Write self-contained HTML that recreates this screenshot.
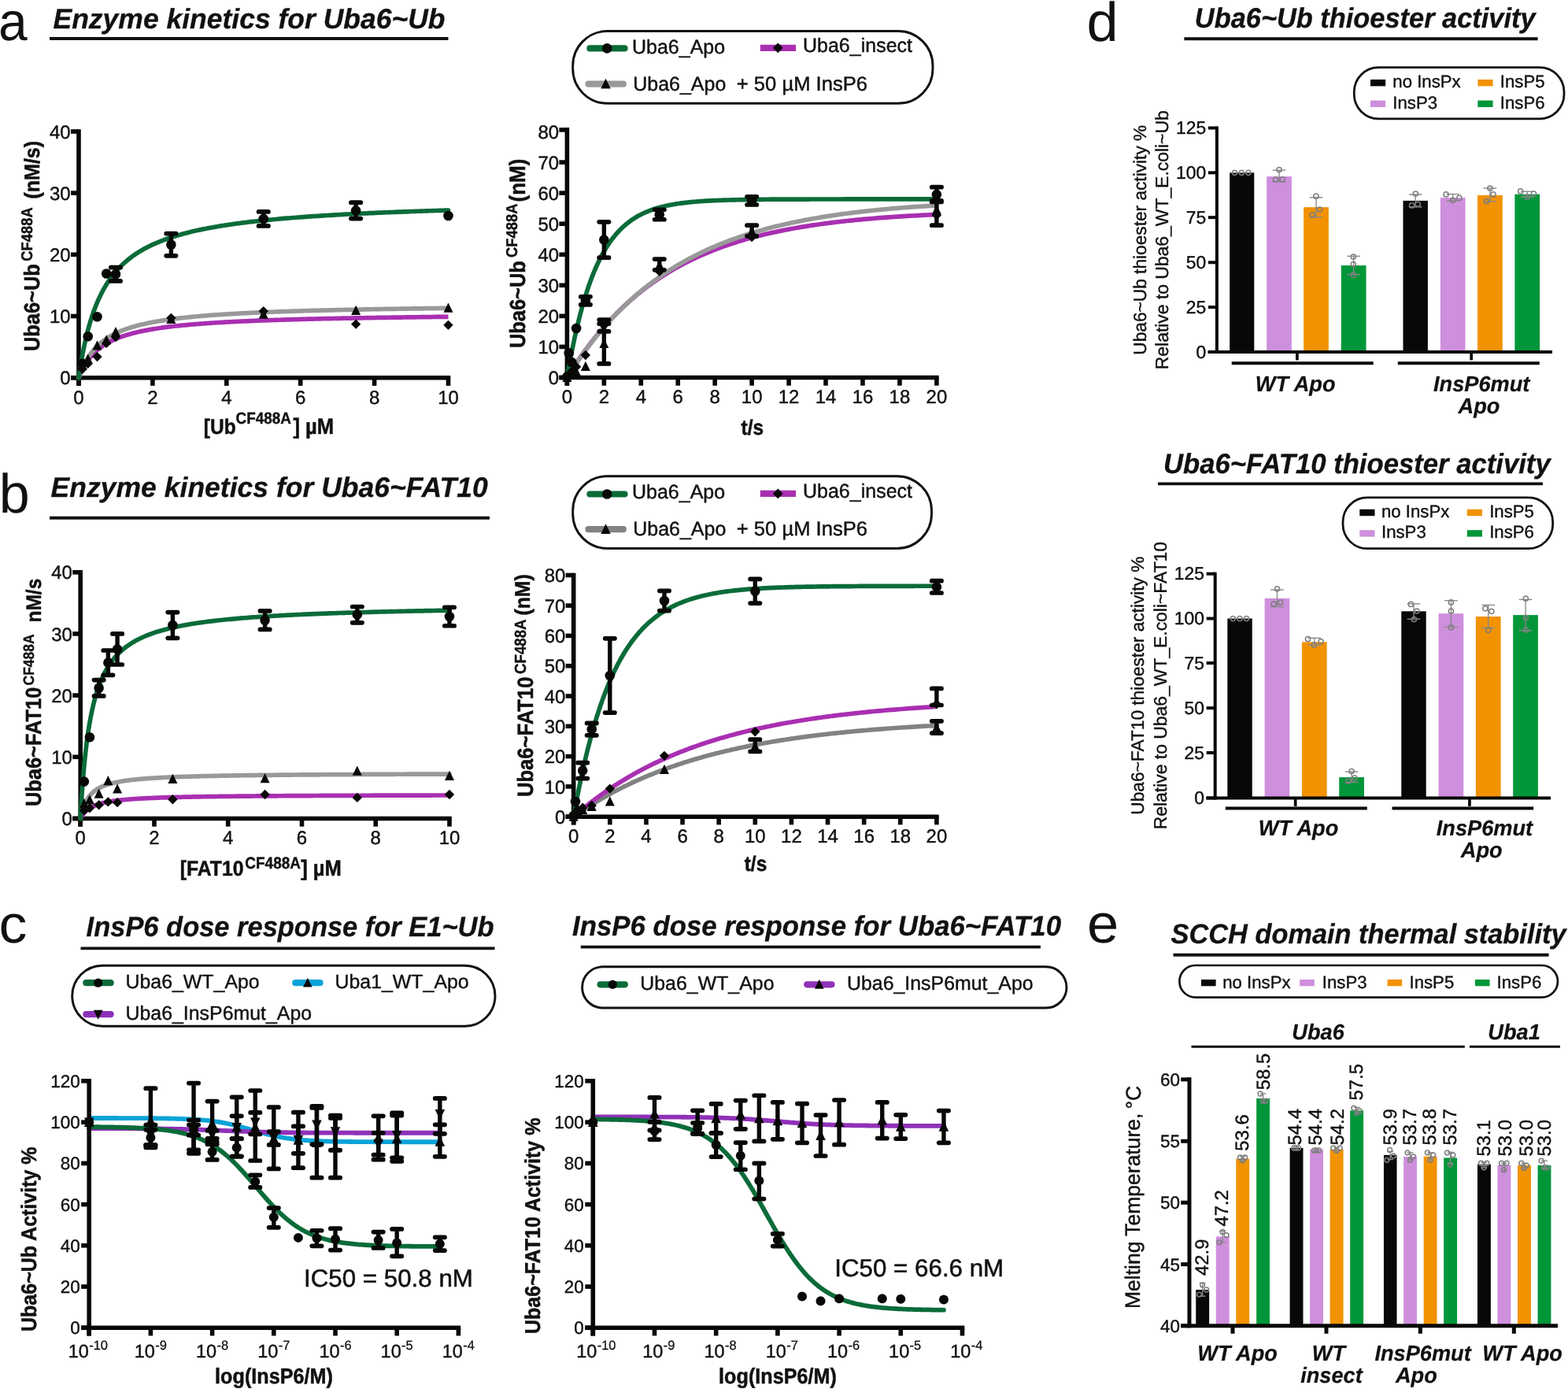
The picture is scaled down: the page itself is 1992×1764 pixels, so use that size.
<!DOCTYPE html>
<html lang="en">
<head>
<meta charset="utf-8">
<title>Uba6 enzyme kinetics and InsP6 dose response</title>
<style>
html,body{margin:0;padding:0;background:#fff;}
body{width:1992px;height:1764px;overflow:hidden;}
svg{display:block;}
text{font-family:"Liberation Sans",Arial,Helvetica,sans-serif;fill:#111;text-rendering:geometricPrecision;}
.r{font-weight:400;font-style:normal;stroke:#111;}
.b{font-weight:700;font-style:normal;stroke:#111;}
.bi{font-weight:700;font-style:italic;stroke:#111;}
</style>
</head>
<body>
<svg width="1992" height="1764" viewBox="0 0 1992 1764">
<rect x="0" y="0" width="1992" height="1764" fill="#ffffff"/>
<text class="r pl" font-size="68.97" transform="translate(-2 51) scale(0.9569 1)" stroke-width="0">a</text>
<text class="bi" font-size="35.7" transform="translate(67.5 35.8) scale(0.9804 1)" textLength="507.96" lengthAdjust="spacingAndGlyphs" stroke-width="0.32">Enzyme kinetics for Uba6~Ub</text>
<line x1="63" y1="49" x2="569.5" y2="49" stroke="#111" stroke-width="3.9" stroke-linecap="butt"/>
<line x1="100" y1="164.2" x2="100" y2="489.9" stroke="#080806" stroke-width="5.6" stroke-linecap="butt"/>
<line x1="90" y1="479.7" x2="572.3" y2="479.7" stroke="#080806" stroke-width="5.6" stroke-linecap="butt"/>
<line x1="100" y1="479.7" x2="100" y2="489.9" stroke="#080806" stroke-width="5.6" stroke-linecap="butt"/>
<line x1="193.9" y1="479.7" x2="193.9" y2="489.9" stroke="#080806" stroke-width="5.6" stroke-linecap="butt"/>
<line x1="287.8" y1="479.7" x2="287.8" y2="489.9" stroke="#080806" stroke-width="5.6" stroke-linecap="butt"/>
<line x1="381.7" y1="479.7" x2="381.7" y2="489.9" stroke="#080806" stroke-width="5.6" stroke-linecap="butt"/>
<line x1="475.6" y1="479.7" x2="475.6" y2="489.9" stroke="#080806" stroke-width="5.6" stroke-linecap="butt"/>
<line x1="569.5" y1="479.7" x2="569.5" y2="489.9" stroke="#080806" stroke-width="5.6" stroke-linecap="butt"/>
<line x1="90" y1="479.7" x2="100" y2="479.7" stroke="#080806" stroke-width="5.6" stroke-linecap="butt"/>
<line x1="90" y1="401.5" x2="100" y2="401.5" stroke="#080806" stroke-width="5.6" stroke-linecap="butt"/>
<line x1="90" y1="323.3" x2="100" y2="323.3" stroke="#080806" stroke-width="5.6" stroke-linecap="butt"/>
<line x1="90" y1="245.1" x2="100" y2="245.1" stroke="#080806" stroke-width="5.6" stroke-linecap="butt"/>
<line x1="90" y1="167" x2="100" y2="167" stroke="#080806" stroke-width="5.6" stroke-linecap="butt"/>
<text class="r" font-size="24" text-anchor="middle" transform="translate(100 512.5)" stroke-width="0.41">0</text>
<text class="r" font-size="24" text-anchor="middle" transform="translate(193.9 512.5)" stroke-width="0.41">2</text>
<text class="r" font-size="24" text-anchor="middle" transform="translate(287.8 512.5)" stroke-width="0.41">4</text>
<text class="r" font-size="24" text-anchor="middle" transform="translate(381.7 512.5)" stroke-width="0.41">6</text>
<text class="r" font-size="24" text-anchor="middle" transform="translate(475.6 512.5)" stroke-width="0.41">8</text>
<text class="r" font-size="24" text-anchor="middle" transform="translate(569.5 512.5)" stroke-width="0.41">10</text>
<text class="r" font-size="24" text-anchor="end" transform="translate(89.7 488.3)" stroke-width="0.41">0</text>
<text class="r" font-size="24" text-anchor="end" transform="translate(89.7 410.1)" stroke-width="0.41">10</text>
<text class="r" font-size="24" text-anchor="end" transform="translate(89.7 331.9)" stroke-width="0.41">20</text>
<text class="r" font-size="24" text-anchor="end" transform="translate(89.7 253.7)" stroke-width="0.41">30</text>
<text class="r" font-size="24" text-anchor="end" transform="translate(89.7 175.5)" stroke-width="0.41">40</text>
<path d="M100,479.7 L100.01,479.68 L100.03,479.62 L100.07,479.51 L100.13,479.36 L100.2,479.18 L100.29,478.95 L100.4,478.68 L100.52,478.37 L100.66,478.03 L100.82,477.64 L100.99,477.22 L101.17,476.77 L101.38,476.28 L101.6,475.76 L101.83,475.21 L102.09,474.63 L102.36,474.02 L102.64,473.38 L102.94,472.72 L103.26,472.04 L103.59,471.34 L103.95,470.61 L104.31,469.86 L104.7,469.1 L105.09,468.33 L105.51,467.53 L105.94,466.73 L106.39,465.91 L106.86,465.09 L107.34,464.26 L107.83,463.42 L108.35,462.57 L108.88,461.72 L109.42,460.86 L109.99,460.01 L110.56,459.15 L111.16,458.29 L111.77,457.44 L112.4,456.58 L113.04,455.73 L113.7,454.88 L114.38,454.03 L115.07,453.19 L115.78,452.36 L116.51,451.53 L117.25,450.71 L118.01,449.89 L118.78,449.09 L119.57,448.29 L120.38,447.5 L121.2,446.71 L122.04,445.94 L122.9,445.18 L123.77,444.42 L124.66,443.68 L125.56,442.95 L126.48,442.22 L127.42,441.51 L128.37,440.81 L129.34,440.11 L130.33,439.43 L131.33,438.76 L132.35,438.1 L133.39,437.45 L134.44,436.81 L135.51,436.18 L136.59,435.56 L137.69,434.95 L138.81,434.35 L139.94,433.76 L141.09,433.18 L142.25,432.62 L143.44,432.06 L144.64,431.51 L145.85,430.97 L147.08,430.44 L148.33,429.92 L149.59,429.42 L150.87,428.91 L152.17,428.42 L153.48,427.94 L154.81,427.47 L156.15,427 L157.51,426.55 L158.89,426.1 L160.29,425.66 L161.7,425.23 L163.12,424.81 L164.56,424.39 L166.02,423.98 L167.5,423.58 L168.99,423.19 L170.5,422.81 L172.02,422.43 L173.56,422.06 L175.12,421.69 L176.69,421.34 L178.28,420.99 L179.89,420.64 L181.51,420.31 L183.15,419.97 L184.8,419.65 L186.47,419.33 L188.16,419.02 L189.87,418.71 L191.59,418.41 L193.32,418.11 L195.07,417.82 L196.84,417.54 L198.63,417.26 L200.43,416.98 L202.25,416.71 L204.08,416.45 L205.93,416.19 L207.8,415.93 L209.68,415.68 L211.58,415.43 L213.5,415.19 L215.43,414.95 L217.38,414.72 L219.34,414.49 L221.32,414.26 L223.32,414.04 L225.33,413.82 L227.36,413.61 L229.41,413.4 L231.47,413.19 L233.55,412.99 L235.64,412.79 L237.75,412.6 L239.88,412.4 L242.02,412.21 L244.18,412.03 L246.36,411.84 L248.55,411.66 L250.76,411.49 L252.99,411.31 L255.23,411.14 L257.49,410.97 L259.76,410.81 L262.05,410.65 L264.36,410.49 L266.68,410.33 L269.02,410.18 L271.38,410.02 L273.75,409.87 L276.14,409.73 L278.54,409.58 L280.96,409.44 L283.4,409.3 L285.85,409.16 L288.32,409.02 L290.81,408.89 L293.31,408.76 L295.83,408.63 L298.36,408.5 L300.92,408.38 L303.48,408.25 L306.07,408.13 L308.67,408.01 L311.28,407.89 L313.92,407.78 L316.57,407.66 L319.23,407.55 L321.91,407.44 L324.61,407.33 L327.32,407.22 L330.05,407.12 L332.8,407.01 L335.57,406.91 L338.34,406.81 L341.14,406.71 L343.95,406.61 L346.78,406.51 L349.63,406.42 L352.49,406.32 L355.36,406.23 L358.26,406.14 L361.17,406.05 L364.09,405.96 L367.04,405.87 L370,405.78 L372.97,405.7 L375.96,405.61 L378.97,405.53 L381.99,405.45 L385.03,405.37 L388.09,405.29 L391.16,405.21 L394.25,405.13 L397.36,405.06 L400.48,404.98 L403.62,404.91 L406.77,404.83 L409.94,404.76 L413.13,404.69 L416.33,404.62 L419.55,404.55 L422.79,404.48 L426.04,404.41 L429.31,404.35 L432.6,404.28 L435.9,404.22 L439.21,404.15 L442.55,404.09 L445.9,404.03 L449.26,403.97 L452.65,403.9 L456.05,403.84 L459.46,403.79 L462.89,403.73 L466.34,403.67 L469.8,403.61 L473.29,403.56 L476.78,403.5 L480.3,403.44 L483.82,403.39 L487.37,403.34 L490.93,403.28 L494.51,403.23 L498.11,403.18 L501.72,403.13 L505.34,403.08 L508.99,403.03 L512.65,402.98 L516.32,402.93 L520.02,402.88 L523.72,402.83 L527.45,402.79 L531.19,402.74 L534.95,402.69 L538.72,402.65 L542.51,402.6 L546.32,402.56 L550.14,402.52 L553.98,402.47 L557.84,402.43 L561.71,402.39 L565.6,402.35 L569.5,402.31" fill="none" stroke="#a92fb1" stroke-width="5.7" stroke-linecap="butt" stroke-linejoin="round"/>
<path d="M100,479.7 L100.01,479.68 L100.03,479.6 L100.07,479.48 L100.13,479.31 L100.2,479.1 L100.29,478.83 L100.4,478.53 L100.52,478.17 L100.66,477.78 L100.82,477.34 L100.99,476.85 L101.17,476.33 L101.38,475.77 L101.6,475.17 L101.83,474.54 L102.09,473.87 L102.36,473.17 L102.64,472.45 L102.94,471.69 L103.26,470.9 L103.59,470.09 L103.95,469.26 L104.31,468.41 L104.7,467.53 L105.09,466.64 L105.51,465.73 L105.94,464.81 L106.39,463.87 L106.86,462.93 L107.34,461.97 L107.83,461.01 L108.35,460.04 L108.88,459.06 L109.42,458.09 L109.99,457.1 L110.56,456.12 L111.16,455.14 L111.77,454.16 L112.4,453.18 L113.04,452.2 L113.7,451.23 L114.38,450.27 L115.07,449.3 L115.78,448.35 L116.51,447.4 L117.25,446.46 L118.01,445.53 L118.78,444.61 L119.57,443.69 L120.38,442.79 L121.2,441.9 L122.04,441.01 L122.9,440.14 L123.77,439.28 L124.66,438.43 L125.56,437.59 L126.48,436.77 L127.42,435.95 L128.37,435.15 L129.34,434.36 L130.33,433.58 L131.33,432.81 L132.35,432.06 L133.39,431.32 L134.44,430.59 L135.51,429.87 L136.59,429.16 L137.69,428.47 L138.81,427.79 L139.94,427.12 L141.09,426.46 L142.25,425.81 L143.44,425.17 L144.64,424.55 L145.85,423.94 L147.08,423.33 L148.33,422.74 L149.59,422.16 L150.87,421.59 L152.17,421.03 L153.48,420.48 L154.81,419.94 L156.15,419.41 L157.51,418.9 L158.89,418.39 L160.29,417.89 L161.7,417.4 L163.12,416.91 L164.56,416.44 L166.02,415.98 L167.5,415.52 L168.99,415.08 L170.5,414.64 L172.02,414.21 L173.56,413.79 L175.12,413.37 L176.69,412.97 L178.28,412.57 L179.89,412.18 L181.51,411.79 L183.15,411.42 L184.8,411.05 L186.47,410.68 L188.16,410.33 L189.87,409.98 L191.59,409.64 L193.32,409.3 L195.07,408.97 L196.84,408.64 L198.63,408.33 L200.43,408.01 L202.25,407.71 L204.08,407.4 L205.93,407.11 L207.8,406.82 L209.68,406.53 L211.58,406.25 L213.5,405.98 L215.43,405.71 L217.38,405.44 L219.34,405.18 L221.32,404.92 L223.32,404.67 L225.33,404.42 L227.36,404.18 L229.41,403.94 L231.47,403.71 L233.55,403.48 L235.64,403.25 L237.75,403.03 L239.88,402.81 L242.02,402.6 L244.18,402.38 L246.36,402.18 L248.55,401.97 L250.76,401.77 L252.99,401.57 L255.23,401.38 L257.49,401.19 L259.76,401 L262.05,400.82 L264.36,400.64 L266.68,400.46 L269.02,400.28 L271.38,400.11 L273.75,399.94 L276.14,399.77 L278.54,399.61 L280.96,399.45 L283.4,399.29 L285.85,399.13 L288.32,398.98 L290.81,398.82 L293.31,398.67 L295.83,398.53 L298.36,398.38 L300.92,398.24 L303.48,398.1 L306.07,397.96 L308.67,397.83 L311.28,397.69 L313.92,397.56 L316.57,397.43 L319.23,397.3 L321.91,397.18 L324.61,397.05 L327.32,396.93 L330.05,396.81 L332.8,396.69 L335.57,396.57 L338.34,396.46 L341.14,396.35 L343.95,396.23 L346.78,396.12 L349.63,396.02 L352.49,395.91 L355.36,395.8 L358.26,395.7 L361.17,395.6 L364.09,395.5 L367.04,395.4 L370,395.3 L372.97,395.2 L375.96,395.11 L378.97,395.01 L381.99,394.92 L385.03,394.83 L388.09,394.74 L391.16,394.65 L394.25,394.56 L397.36,394.47 L400.48,394.39 L403.62,394.3 L406.77,394.22 L409.94,394.14 L413.13,394.06 L416.33,393.98 L419.55,393.9 L422.79,393.82 L426.04,393.75 L429.31,393.67 L432.6,393.6 L435.9,393.52 L439.21,393.45 L442.55,393.38 L445.9,393.31 L449.26,393.24 L452.65,393.17 L456.05,393.1 L459.46,393.03 L462.89,392.97 L466.34,392.9 L469.8,392.83 L473.29,392.77 L476.78,392.71 L480.3,392.65 L483.82,392.58 L487.37,392.52 L490.93,392.46 L494.51,392.4 L498.11,392.34 L501.72,392.29 L505.34,392.23 L508.99,392.17 L512.65,392.12 L516.32,392.06 L520.02,392.01 L523.72,391.95 L527.45,391.9 L531.19,391.85 L534.95,391.8 L538.72,391.74 L542.51,391.69 L546.32,391.64 L550.14,391.59 L553.98,391.54 L557.84,391.5 L561.71,391.45 L565.6,391.4 L569.5,391.35" fill="none" stroke="#999999" stroke-width="5.7" stroke-linecap="round" stroke-linejoin="round"/>
<path d="M100,479.7 L100.01,479.64 L100.03,479.47 L100.07,479.19 L100.13,478.79 L100.2,478.28 L100.29,477.66 L100.4,476.93 L100.52,476.1 L100.66,475.16 L100.82,474.12 L100.99,472.98 L101.17,471.75 L101.38,470.43 L101.6,469.02 L101.83,467.52 L102.09,465.94 L102.36,464.29 L102.64,462.56 L102.94,460.77 L103.26,458.91 L103.59,457 L103.95,455.02 L104.31,453 L104.7,450.92 L105.09,448.81 L105.51,446.65 L105.94,444.47 L106.39,442.25 L106.86,440 L107.34,437.73 L107.83,435.44 L108.35,433.13 L108.88,430.81 L109.42,428.48 L109.99,426.14 L110.56,423.8 L111.16,421.46 L111.77,419.12 L112.4,416.78 L113.04,414.45 L113.7,412.13 L114.38,409.82 L115.07,407.52 L115.78,405.24 L116.51,402.97 L117.25,400.72 L118.01,398.49 L118.78,396.28 L119.57,394.09 L120.38,391.92 L121.2,389.78 L122.04,387.66 L122.9,385.56 L123.77,383.5 L124.66,381.45 L125.56,379.44 L126.48,377.45 L127.42,375.49 L128.37,373.56 L129.34,371.65 L130.33,369.78 L131.33,367.93 L132.35,366.11 L133.39,364.32 L134.44,362.56 L135.51,360.83 L136.59,359.13 L137.69,357.45 L138.81,355.8 L139.94,354.18 L141.09,352.59 L142.25,351.02 L143.44,349.49 L144.64,347.98 L145.85,346.49 L147.08,345.03 L148.33,343.6 L149.59,342.2 L150.87,340.82 L152.17,339.46 L153.48,338.13 L154.81,336.82 L156.15,335.54 L157.51,334.28 L158.89,333.05 L160.29,331.83 L161.7,330.64 L163.12,329.47 L164.56,328.33 L166.02,327.2 L167.5,326.09 L168.99,325.01 L170.5,323.95 L172.02,322.9 L173.56,321.88 L175.12,320.87 L176.69,319.88 L178.28,318.91 L179.89,317.96 L181.51,317.03 L183.15,316.11 L184.8,315.21 L186.47,314.33 L188.16,313.46 L189.87,312.61 L191.59,311.77 L193.32,310.95 L195.07,310.15 L196.84,309.36 L198.63,308.58 L200.43,307.82 L202.25,307.07 L204.08,306.33 L205.93,305.61 L207.8,304.9 L209.68,304.21 L211.58,303.52 L213.5,302.85 L215.43,302.19 L217.38,301.54 L219.34,300.91 L221.32,300.28 L223.32,299.67 L225.33,299.06 L227.36,298.47 L229.41,297.89 L231.47,297.31 L233.55,296.75 L235.64,296.2 L237.75,295.65 L239.88,295.12 L242.02,294.59 L244.18,294.08 L246.36,293.57 L248.55,293.07 L250.76,292.58 L252.99,292.1 L255.23,291.62 L257.49,291.16 L259.76,290.7 L262.05,290.25 L264.36,289.8 L266.68,289.37 L269.02,288.94 L271.38,288.51 L273.75,288.1 L276.14,287.69 L278.54,287.29 L280.96,286.89 L283.4,286.5 L285.85,286.12 L288.32,285.74 L290.81,285.37 L293.31,285 L295.83,284.64 L298.36,284.29 L300.92,283.94 L303.48,283.59 L306.07,283.26 L308.67,282.92 L311.28,282.59 L313.92,282.27 L316.57,281.95 L319.23,281.64 L321.91,281.33 L324.61,281.03 L327.32,280.73 L330.05,280.43 L332.8,280.14 L335.57,279.86 L338.34,279.57 L341.14,279.3 L343.95,279.02 L346.78,278.75 L349.63,278.49 L352.49,278.22 L355.36,277.96 L358.26,277.71 L361.17,277.46 L364.09,277.21 L367.04,276.97 L370,276.73 L372.97,276.49 L375.96,276.26 L378.97,276.02 L381.99,275.8 L385.03,275.57 L388.09,275.35 L391.16,275.13 L394.25,274.92 L397.36,274.71 L400.48,274.5 L403.62,274.29 L406.77,274.09 L409.94,273.88 L413.13,273.69 L416.33,273.49 L419.55,273.3 L422.79,273.11 L426.04,272.92 L429.31,272.73 L432.6,272.55 L435.9,272.37 L439.21,272.19 L442.55,272.01 L445.9,271.84 L449.26,271.67 L452.65,271.5 L456.05,271.33 L459.46,271.17 L462.89,271 L466.34,270.84 L469.8,270.68 L473.29,270.53 L476.78,270.37 L480.3,270.22 L483.82,270.07 L487.37,269.92 L490.93,269.77 L494.51,269.62 L498.11,269.48 L501.72,269.34 L505.34,269.2 L508.99,269.06 L512.65,268.92 L516.32,268.78 L520.02,268.65 L523.72,268.52 L527.45,268.39 L531.19,268.26 L534.95,268.13 L538.72,268 L542.51,267.88 L546.32,267.76 L550.14,267.63 L553.98,267.51 L557.84,267.39 L561.71,267.28 L565.6,267.16 L569.5,267.05" fill="none" stroke="#0b6b39" stroke-width="5.7" stroke-linecap="round" stroke-linejoin="round"/>
<line x1="146.95" y1="339.72" x2="146.95" y2="356.93" stroke="#080806" stroke-width="5.4" stroke-linecap="butt"/>
<line x1="140.8" y1="339.72" x2="153.1" y2="339.72" stroke="#080806" stroke-width="5.7" stroke-linecap="round"/>
<line x1="140.8" y1="356.93" x2="153.1" y2="356.93" stroke="#080806" stroke-width="5.7" stroke-linecap="round"/>
<line x1="217.38" y1="296.71" x2="217.38" y2="324.86" stroke="#080806" stroke-width="5.4" stroke-linecap="butt"/>
<line x1="211.22" y1="296.71" x2="223.53" y2="296.71" stroke="#080806" stroke-width="5.7" stroke-linecap="round"/>
<line x1="211.22" y1="324.86" x2="223.53" y2="324.86" stroke="#080806" stroke-width="5.7" stroke-linecap="round"/>
<line x1="334.75" y1="268.95" x2="334.75" y2="286.94" stroke="#080806" stroke-width="5.4" stroke-linecap="butt"/>
<line x1="328.6" y1="268.95" x2="340.9" y2="268.95" stroke="#080806" stroke-width="5.7" stroke-linecap="round"/>
<line x1="328.6" y1="286.94" x2="340.9" y2="286.94" stroke="#080806" stroke-width="5.7" stroke-linecap="round"/>
<line x1="452.12" y1="257.22" x2="452.12" y2="277.55" stroke="#080806" stroke-width="5.4" stroke-linecap="butt"/>
<line x1="445.98" y1="257.22" x2="458.27" y2="257.22" stroke="#080806" stroke-width="5.7" stroke-linecap="round"/>
<line x1="445.98" y1="277.55" x2="458.27" y2="277.55" stroke="#080806" stroke-width="5.7" stroke-linecap="round"/>
<circle cx="104.69" cy="461.71" r="6.3" fill="#080806"/>
<circle cx="111.74" cy="427.31" r="6.3" fill="#080806"/>
<circle cx="123.47" cy="402.28" r="6.3" fill="#080806"/>
<circle cx="135.21" cy="347.54" r="6.3" fill="#080806"/>
<circle cx="146.95" cy="348.32" r="6.3" fill="#080806"/>
<circle cx="217.38" cy="310.79" r="6.3" fill="#080806"/>
<circle cx="334.75" cy="277.94" r="6.3" fill="#080806"/>
<circle cx="452.12" cy="267.39" r="6.3" fill="#080806"/>
<circle cx="569.5" cy="274.03" r="6.3" fill="#080806"/>
<path d="M104.69,457.34 L110.69,469.58 L98.69,469.58 Z" fill="#080806"/>
<path d="M111.74,449.52 L117.74,461.76 L105.74,461.76 Z" fill="#080806"/>
<path d="M123.47,432.32 L129.47,444.56 L117.47,444.56 Z" fill="#080806"/>
<path d="M135.21,425.28 L141.21,437.52 L129.21,437.52 Z" fill="#080806"/>
<path d="M146.95,415.11 L152.95,427.35 L140.95,427.35 Z" fill="#080806"/>
<path d="M217.38,398.69 L223.38,410.93 L211.38,410.93 Z" fill="#080806"/>
<path d="M334.75,392.43 L340.75,404.67 L328.75,404.67 Z" fill="#080806"/>
<path d="M452.12,387.74 L458.12,399.98 L446.12,399.98 Z" fill="#080806"/>
<path d="M569.5,384.61 L575.5,396.85 L563.5,396.85 Z" fill="#080806"/>
<path d="M104.69,462.55 L110.89,468.75 L104.69,474.95 L98.49,468.75 Z" fill="#080806"/>
<path d="M111.74,455.51 L117.94,461.71 L111.74,467.91 L105.54,461.71 Z" fill="#080806"/>
<path d="M123.47,446.91 L129.67,453.11 L123.47,459.31 L117.27,453.11 Z" fill="#080806"/>
<path d="M135.21,429.71 L141.41,435.91 L135.21,442.11 L129.01,435.91 Z" fill="#080806"/>
<path d="M146.95,421.89 L153.15,428.09 L146.95,434.29 L140.75,428.09 Z" fill="#080806"/>
<path d="M217.38,397.65 L223.57,403.85 L217.38,410.05 L211.18,403.85 Z" fill="#080806"/>
<path d="M334.75,389.04 L340.95,395.24 L334.75,401.44 L328.55,395.24 Z" fill="#080806"/>
<path d="M452.12,405.47 L458.32,411.67 L452.12,417.87 L445.93,411.67 Z" fill="#080806"/>
<path d="M569.5,406.64 L575.7,412.84 L569.5,419.04 L563.3,412.84 Z" fill="#080806"/>
<text class="b" font-size="27.69" transform="translate(49.8 446) rotate(-90) scale(0.9174 1)" stroke-width="0.53">Uba6~Ub</text>
<text class="b" font-size="20.06" transform="translate(40.8 331.8) rotate(-90) scale(0.9174 1)" stroke-width="0.39">CF488A</text>
<text class="b" font-size="27.25" transform="translate(49.8 252.5) rotate(-90) scale(0.9174 1)" stroke-width="0.53">(nM/s)</text>
<text class="b" font-size="26.71" transform="translate(258.8 551.3) scale(0.9174 1)" stroke-width="0.51">[Ub</text>
<text class="b" font-size="20.6" transform="translate(299.5 537.8) scale(0.9174 1)" stroke-width="0.4">CF488A</text>
<text class="b" font-size="27.9" transform="translate(372.4 551.3) scale(0.9174 1)" stroke-width="0.54">] µM</text>
<rect x="727.7" y="39.5" width="457.3" height="91.8" rx="44" ry="44" fill="#fff" stroke="#111" stroke-width="2.9"/>
<line x1="749.4" y1="61.4" x2="793.5" y2="61.4" stroke="#0b6b39" stroke-width="8.2" stroke-linecap="round"/>
<circle cx="771.2" cy="61.4" r="6.3" fill="#080806"/>
<text class="r" font-size="25" transform="translate(803 67.5)" stroke-width="0.43">Uba6_Apo</text>
<line x1="965.8" y1="60.8" x2="1011.1" y2="60.8" stroke="#a92fb1" stroke-width="8.2" stroke-linecap="butt"/>
<path d="M988.3,54.4 L994.7,60.8 L988.3,67.2 L981.9,60.8 Z" fill="#080806"/>
<text class="r" font-size="25" transform="translate(1020 66)" stroke-width="0.43">Uba6_insect</text>
<line x1="747.5" y1="106.7" x2="791.8" y2="106.7" stroke="#999999" stroke-width="8.2" stroke-linecap="round"/>
<path d="M769.5,99.76 L775.7,112.4 L763.3,112.4 Z" fill="#080806"/>
<text class="r" font-size="25" transform="translate(804.2 114.7)" stroke-width="0.43">Uba6_Apo</text>
<text class="r" font-size="25.6" transform="translate(935.8 114.7)" stroke-width="0.44">+ 50 µM InsP6</text>
<line x1="720.4" y1="162.1" x2="720.4" y2="489.7" stroke="#080806" stroke-width="5.6" stroke-linecap="butt"/>
<line x1="710.4" y1="479.5" x2="1192.7" y2="479.5" stroke="#080806" stroke-width="5.6" stroke-linecap="butt"/>
<line x1="720.4" y1="479.5" x2="720.4" y2="489.7" stroke="#080806" stroke-width="5.6" stroke-linecap="butt"/>
<line x1="767.35" y1="479.5" x2="767.35" y2="489.7" stroke="#080806" stroke-width="5.6" stroke-linecap="butt"/>
<line x1="814.3" y1="479.5" x2="814.3" y2="489.7" stroke="#080806" stroke-width="5.6" stroke-linecap="butt"/>
<line x1="861.25" y1="479.5" x2="861.25" y2="489.7" stroke="#080806" stroke-width="5.6" stroke-linecap="butt"/>
<line x1="908.2" y1="479.5" x2="908.2" y2="489.7" stroke="#080806" stroke-width="5.6" stroke-linecap="butt"/>
<line x1="955.15" y1="479.5" x2="955.15" y2="489.7" stroke="#080806" stroke-width="5.6" stroke-linecap="butt"/>
<line x1="1002.1" y1="479.5" x2="1002.1" y2="489.7" stroke="#080806" stroke-width="5.6" stroke-linecap="butt"/>
<line x1="1049.05" y1="479.5" x2="1049.05" y2="489.7" stroke="#080806" stroke-width="5.6" stroke-linecap="butt"/>
<line x1="1096" y1="479.5" x2="1096" y2="489.7" stroke="#080806" stroke-width="5.6" stroke-linecap="butt"/>
<line x1="1142.95" y1="479.5" x2="1142.95" y2="489.7" stroke="#080806" stroke-width="5.6" stroke-linecap="butt"/>
<line x1="1189.9" y1="479.5" x2="1189.9" y2="489.7" stroke="#080806" stroke-width="5.6" stroke-linecap="butt"/>
<line x1="710.4" y1="479.5" x2="720.4" y2="479.5" stroke="#080806" stroke-width="5.6" stroke-linecap="butt"/>
<line x1="710.4" y1="440.44" x2="720.4" y2="440.44" stroke="#080806" stroke-width="5.6" stroke-linecap="butt"/>
<line x1="710.4" y1="401.38" x2="720.4" y2="401.38" stroke="#080806" stroke-width="5.6" stroke-linecap="butt"/>
<line x1="710.4" y1="362.32" x2="720.4" y2="362.32" stroke="#080806" stroke-width="5.6" stroke-linecap="butt"/>
<line x1="710.4" y1="323.26" x2="720.4" y2="323.26" stroke="#080806" stroke-width="5.6" stroke-linecap="butt"/>
<line x1="710.4" y1="284.2" x2="720.4" y2="284.2" stroke="#080806" stroke-width="5.6" stroke-linecap="butt"/>
<line x1="710.4" y1="245.14" x2="720.4" y2="245.14" stroke="#080806" stroke-width="5.6" stroke-linecap="butt"/>
<line x1="710.4" y1="206.08" x2="720.4" y2="206.08" stroke="#080806" stroke-width="5.6" stroke-linecap="butt"/>
<line x1="710.4" y1="164.9" x2="720.4" y2="164.9" stroke="#080806" stroke-width="5.6" stroke-linecap="butt"/>
<text class="r" font-size="24" text-anchor="middle" transform="translate(720.4 512.3)" stroke-width="0.41">0</text>
<text class="r" font-size="24" text-anchor="middle" transform="translate(767.35 512.3)" stroke-width="0.41">2</text>
<text class="r" font-size="24" text-anchor="middle" transform="translate(814.3 512.3)" stroke-width="0.41">4</text>
<text class="r" font-size="24" text-anchor="middle" transform="translate(861.25 512.3)" stroke-width="0.41">6</text>
<text class="r" font-size="24" text-anchor="middle" transform="translate(908.2 512.3)" stroke-width="0.41">8</text>
<text class="r" font-size="24" text-anchor="middle" transform="translate(955.15 512.3)" stroke-width="0.41">10</text>
<text class="r" font-size="24" text-anchor="middle" transform="translate(1002.1 512.3)" stroke-width="0.41">12</text>
<text class="r" font-size="24" text-anchor="middle" transform="translate(1049.05 512.3)" stroke-width="0.41">14</text>
<text class="r" font-size="24" text-anchor="middle" transform="translate(1096 512.3)" stroke-width="0.41">16</text>
<text class="r" font-size="24" text-anchor="middle" transform="translate(1142.95 512.3)" stroke-width="0.41">18</text>
<text class="r" font-size="24" text-anchor="middle" transform="translate(1189.9 512.3)" stroke-width="0.41">20</text>
<text class="r" font-size="24" text-anchor="end" transform="translate(710.1 488.1)" stroke-width="0.41">0</text>
<text class="r" font-size="24" text-anchor="end" transform="translate(710.1 449.04)" stroke-width="0.41">10</text>
<text class="r" font-size="24" text-anchor="end" transform="translate(710.1 409.98)" stroke-width="0.41">20</text>
<text class="r" font-size="24" text-anchor="end" transform="translate(710.1 370.92)" stroke-width="0.41">30</text>
<text class="r" font-size="24" text-anchor="end" transform="translate(710.1 331.86)" stroke-width="0.41">40</text>
<text class="r" font-size="24" text-anchor="end" transform="translate(710.1 292.8)" stroke-width="0.41">50</text>
<text class="r" font-size="24" text-anchor="end" transform="translate(710.1 253.74)" stroke-width="0.41">60</text>
<text class="r" font-size="24" text-anchor="end" transform="translate(710.1 214.68)" stroke-width="0.41">70</text>
<text class="r" font-size="24" text-anchor="end" transform="translate(710.1 175.62)" stroke-width="0.41">80</text>
<path d="M720.4,479.5 L720.41,479.49 L720.43,479.45 L720.47,479.38 L720.53,479.29 L720.6,479.17 L720.69,479.02 L720.8,478.85 L720.92,478.65 L721.06,478.43 L721.22,478.17 L721.39,477.9 L721.57,477.59 L721.78,477.26 L722,476.91 L722.23,476.53 L722.49,476.12 L722.76,475.69 L723.04,475.23 L723.34,474.75 L723.66,474.24 L723.99,473.71 L724.35,473.16 L724.71,472.58 L725.1,471.97 L725.49,471.34 L725.91,470.69 L726.34,470.02 L726.79,469.32 L727.26,468.6 L727.74,467.86 L728.23,467.09 L728.75,466.3 L729.28,465.49 L729.82,464.66 L730.39,463.81 L730.96,462.94 L731.56,462.04 L732.17,461.13 L732.8,460.2 L733.44,459.24 L734.1,458.27 L734.78,457.28 L735.47,456.27 L736.18,455.24 L736.91,454.19 L737.65,453.13 L738.41,452.05 L739.18,450.95 L739.97,449.84 L740.78,448.71 L741.6,447.56 L742.44,446.4 L743.3,445.22 L744.17,444.03 L745.06,442.83 L745.96,441.61 L746.88,440.38 L747.82,439.13 L748.77,437.88 L749.74,436.61 L750.73,435.33 L751.73,434.04 L752.75,432.73 L753.79,431.42 L754.84,430.1 L755.91,428.76 L756.99,427.42 L758.09,426.07 L759.21,424.71 L760.34,423.34 L761.49,421.97 L762.65,420.59 L763.84,419.2 L765.04,417.8 L766.25,416.4 L767.48,414.99 L768.73,413.58 L769.99,412.16 L771.27,410.74 L772.57,409.32 L773.88,407.89 L775.21,406.46 L776.55,405.02 L777.91,403.59 L779.29,402.15 L780.69,400.71 L782.1,399.26 L783.52,397.82 L784.96,396.38 L786.42,394.93 L787.9,393.49 L789.39,392.05 L790.9,390.61 L792.42,389.17 L793.96,387.73 L795.52,386.29 L797.09,384.86 L798.68,383.42 L800.29,381.99 L801.91,380.57 L803.55,379.15 L805.2,377.73 L806.87,376.31 L808.56,374.9 L810.27,373.5 L811.99,372.1 L813.72,370.7 L815.47,369.31 L817.24,367.93 L819.03,366.55 L820.83,365.18 L822.65,363.82 L824.48,362.46 L826.33,361.11 L828.2,359.77 L830.08,358.43 L831.98,357.11 L833.9,355.79 L835.83,354.47 L837.77,353.17 L839.74,351.88 L841.72,350.59 L843.72,349.32 L845.73,348.05 L847.76,346.79 L849.81,345.55 L851.87,344.31 L853.95,343.08 L856.04,341.86 L858.15,340.65 L860.28,339.45 L862.42,338.27 L864.58,337.09 L866.76,335.92 L868.95,334.77 L871.16,333.62 L873.39,332.49 L875.63,331.37 L877.89,330.26 L880.16,329.16 L882.45,328.07 L884.76,326.99 L887.08,325.93 L889.42,324.87 L891.78,323.83 L894.15,322.8 L896.54,321.78 L898.94,320.77 L901.36,319.77 L903.8,318.79 L906.25,317.82 L908.72,316.86 L911.21,315.91 L913.71,314.97 L916.23,314.05 L918.76,313.14 L921.32,312.23 L923.88,311.34 L926.47,310.47 L929.07,309.6 L931.68,308.75 L934.32,307.91 L936.97,307.08 L939.63,306.26 L942.31,305.45 L945.01,304.66 L947.72,303.87 L950.45,303.1 L953.2,302.34 L955.97,301.59 L958.74,300.85 L961.54,300.13 L964.35,299.41 L967.18,298.71 L970.03,298.02 L972.89,297.34 L975.76,296.67 L978.66,296.01 L981.57,295.36 L984.49,294.72 L987.44,294.09 L990.4,293.48 L993.37,292.87 L996.36,292.28 L999.37,291.69 L1002.39,291.12 L1005.43,290.55 L1008.49,290 L1011.56,289.45 L1014.65,288.92 L1017.76,288.4 L1020.88,287.88 L1024.02,287.38 L1027.17,286.88 L1030.34,286.39 L1033.53,285.92 L1036.73,285.45 L1039.95,284.99 L1043.19,284.54 L1046.44,284.1 L1049.71,283.66 L1053,283.24 L1056.3,282.83 L1059.61,282.42 L1062.95,282.02 L1066.3,281.63 L1069.66,281.25 L1073.05,280.87 L1076.45,280.51 L1079.86,280.15 L1083.29,279.8 L1086.74,279.45 L1090.2,279.12 L1093.69,278.79 L1097.18,278.46 L1100.7,278.15 L1104.22,277.84 L1107.77,277.54 L1111.33,277.25 L1114.91,276.96 L1118.51,276.68 L1122.12,276.4 L1125.74,276.14 L1129.39,275.87 L1133.05,275.62 L1136.72,275.37 L1140.42,275.12 L1144.12,274.89 L1147.85,274.65 L1151.59,274.43 L1155.35,274.2 L1159.12,273.99 L1162.91,273.78 L1166.72,273.57 L1170.54,273.37 L1174.38,273.17 L1178.24,272.98 L1182.11,272.8 L1186,272.62 L1189.9,272.44" fill="none" stroke="#a92fb1" stroke-width="5.7" stroke-linecap="butt" stroke-linejoin="round"/>
<path d="M720.4,479.5 L720.41,479.49 L720.43,479.45 L720.47,479.38 L720.53,479.29 L720.6,479.17 L720.69,479.03 L720.8,478.86 L720.92,478.67 L721.06,478.45 L721.22,478.2 L721.39,477.93 L721.57,477.63 L721.78,477.31 L722,476.96 L722.23,476.59 L722.49,476.19 L722.76,475.76 L723.04,475.32 L723.34,474.84 L723.66,474.35 L723.99,473.82 L724.35,473.28 L724.71,472.71 L725.1,472.12 L725.49,471.5 L725.91,470.86 L726.34,470.19 L726.79,469.51 L727.26,468.8 L727.74,468.07 L728.23,467.31 L728.75,466.54 L729.28,465.74 L729.82,464.92 L730.39,464.08 L730.96,463.22 L731.56,462.34 L732.17,461.44 L732.8,460.52 L733.44,459.58 L734.1,458.62 L734.78,457.64 L735.47,456.64 L736.18,455.62 L736.91,454.58 L737.65,453.53 L738.41,452.46 L739.18,451.37 L739.97,450.27 L740.78,449.15 L741.6,448.01 L742.44,446.86 L743.3,445.69 L744.17,444.51 L745.06,443.31 L745.96,442.1 L746.88,440.87 L747.82,439.63 L748.77,438.38 L749.74,437.11 L750.73,435.84 L751.73,434.54 L752.75,433.24 L753.79,431.93 L754.84,430.61 L755.91,429.27 L756.99,427.93 L758.09,426.57 L759.21,425.21 L760.34,423.84 L761.49,422.45 L762.65,421.07 L763.84,419.67 L765.04,418.26 L766.25,416.85 L767.48,415.43 L768.73,414.01 L769.99,412.58 L771.27,411.14 L772.57,409.7 L773.88,408.25 L775.21,406.8 L776.55,405.35 L777.91,403.89 L779.29,402.43 L780.69,400.96 L782.1,399.5 L783.52,398.03 L784.96,396.56 L786.42,395.08 L787.9,393.61 L789.39,392.13 L790.9,390.66 L792.42,389.18 L793.96,387.71 L795.52,386.23 L797.09,384.76 L798.68,383.29 L800.29,381.82 L801.91,380.35 L803.55,378.88 L805.2,377.42 L806.87,375.96 L808.56,374.5 L810.27,373.04 L811.99,371.59 L813.72,370.15 L815.47,368.7 L817.24,367.26 L819.03,365.83 L820.83,364.4 L822.65,362.98 L824.48,361.56 L826.33,360.15 L828.2,358.74 L830.08,357.34 L831.98,355.95 L833.9,354.57 L835.83,353.19 L837.77,351.82 L839.74,350.45 L841.72,349.09 L843.72,347.75 L845.73,346.4 L847.76,345.07 L849.81,343.75 L851.87,342.43 L853.95,341.13 L856.04,339.83 L858.15,338.54 L860.28,337.26 L862.42,335.99 L864.58,334.73 L866.76,333.48 L868.95,332.24 L871.16,331.01 L873.39,329.79 L875.63,328.58 L877.89,327.38 L880.16,326.19 L882.45,325.01 L884.76,323.84 L887.08,322.69 L889.42,321.54 L891.78,320.4 L894.15,319.28 L896.54,318.17 L898.94,317.06 L901.36,315.97 L903.8,314.89 L906.25,313.83 L908.72,312.77 L911.21,311.72 L913.71,310.69 L916.23,309.67 L918.76,308.66 L921.32,307.66 L923.88,306.67 L926.47,305.69 L929.07,304.73 L931.68,303.78 L934.32,302.83 L936.97,301.9 L939.63,300.99 L942.31,300.08 L945.01,299.19 L947.72,298.3 L950.45,297.43 L953.2,296.57 L955.97,295.72 L958.74,294.89 L961.54,294.06 L964.35,293.25 L967.18,292.44 L970.03,291.65 L972.89,290.87 L975.76,290.1 L978.66,289.34 L981.57,288.6 L984.49,287.86 L987.44,287.14 L990.4,286.43 L993.37,285.72 L996.36,285.03 L999.37,284.35 L1002.39,283.68 L1005.43,283.02 L1008.49,282.37 L1011.56,281.73 L1014.65,281.11 L1017.76,280.49 L1020.88,279.88 L1024.02,279.28 L1027.17,278.7 L1030.34,278.12 L1033.53,277.55 L1036.73,276.99 L1039.95,276.44 L1043.19,275.91 L1046.44,275.38 L1049.71,274.86 L1053,274.35 L1056.3,273.85 L1059.61,273.36 L1062.95,272.87 L1066.3,272.4 L1069.66,271.93 L1073.05,271.48 L1076.45,271.03 L1079.86,270.59 L1083.29,270.16 L1086.74,269.74 L1090.2,269.32 L1093.69,268.92 L1097.18,268.52 L1100.7,268.13 L1104.22,267.75 L1107.77,267.37 L1111.33,267.01 L1114.91,266.65 L1118.51,266.29 L1122.12,265.95 L1125.74,265.61 L1129.39,265.28 L1133.05,264.96 L1136.72,264.64 L1140.42,264.33 L1144.12,264.03 L1147.85,263.73 L1151.59,263.44 L1155.35,263.15 L1159.12,262.88 L1162.91,262.6 L1166.72,262.34 L1170.54,262.08 L1174.38,261.82 L1178.24,261.58 L1182.11,261.33 L1186,261.1 L1189.9,260.86" fill="none" stroke="#999999" stroke-width="5.7" stroke-linecap="round" stroke-linejoin="round"/>
<path d="M720.4,479.5 L720.41,479.45 L720.43,479.31 L720.47,479.07 L720.53,478.73 L720.6,478.3 L720.69,477.77 L720.8,477.15 L720.92,476.43 L721.06,475.62 L721.22,474.72 L721.39,473.73 L721.57,472.65 L721.78,471.48 L722,470.23 L722.23,468.89 L722.49,467.47 L722.76,465.96 L723.04,464.38 L723.34,462.72 L723.66,460.98 L723.99,459.17 L724.35,457.29 L724.71,455.34 L725.1,453.32 L725.49,451.24 L725.91,449.09 L726.34,446.89 L726.79,444.63 L727.26,442.31 L727.74,439.95 L728.23,437.53 L728.75,435.07 L729.28,432.56 L729.82,430.01 L730.39,427.43 L730.96,424.81 L731.56,422.15 L732.17,419.47 L732.8,416.76 L733.44,414.02 L734.1,411.27 L734.78,408.49 L735.47,405.7 L736.18,402.89 L736.91,400.07 L737.65,397.24 L738.41,394.41 L739.18,391.57 L739.97,388.74 L740.78,385.9 L741.6,383.07 L742.44,380.24 L743.3,377.43 L744.17,374.62 L745.06,371.82 L745.96,369.04 L746.88,366.28 L747.82,363.54 L748.77,360.81 L749.74,358.11 L750.73,355.43 L751.73,352.78 L752.75,350.15 L753.79,347.56 L754.84,344.99 L755.91,342.46 L756.99,339.95 L758.09,337.49 L759.21,335.05 L760.34,332.65 L761.49,330.29 L762.65,327.97 L763.84,325.69 L765.04,323.44 L766.25,321.24 L767.48,319.08 L768.73,316.95 L769.99,314.87 L771.27,312.84 L772.57,310.84 L773.88,308.89 L775.21,306.98 L776.55,305.11 L777.91,303.28 L779.29,301.5 L780.69,299.77 L782.1,298.07 L783.52,296.42 L784.96,294.81 L786.42,293.24 L787.9,291.72 L789.39,290.23 L790.9,288.79 L792.42,287.39 L793.96,286.03 L795.52,284.71 L797.09,283.43 L798.68,282.19 L800.29,280.99 L801.91,279.82 L803.55,278.69 L805.2,277.6 L806.87,276.55 L808.56,275.53 L810.27,274.55 L811.99,273.6 L813.72,272.68 L815.47,271.8 L817.24,270.95 L819.03,270.12 L820.83,269.33 L822.65,268.57 L824.48,267.84 L826.33,267.14 L828.2,266.46 L830.08,265.81 L831.98,265.19 L833.9,264.59 L835.83,264.02 L837.77,263.47 L839.74,262.94 L841.72,262.44 L843.72,261.95 L845.73,261.49 L847.76,261.05 L849.81,260.63 L851.87,260.23 L853.95,259.84 L856.04,259.47 L858.15,259.12 L860.28,258.79 L862.42,258.47 L864.58,258.17 L866.76,257.88 L868.95,257.6 L871.16,257.34 L873.39,257.1 L875.63,256.86 L877.89,256.64 L880.16,256.42 L882.45,256.22 L884.76,256.03 L887.08,255.85 L889.42,255.68 L891.78,255.51 L894.15,255.36 L896.54,255.21 L898.94,255.08 L901.36,254.95 L903.8,254.82 L906.25,254.71 L908.72,254.6 L911.21,254.49 L913.71,254.4 L916.23,254.3 L918.76,254.22 L921.32,254.13 L923.88,254.06 L926.47,253.99 L929.07,253.92 L931.68,253.85 L934.32,253.79 L936.97,253.74 L939.63,253.68 L942.31,253.63 L945.01,253.59 L947.72,253.54 L950.45,253.5 L953.2,253.47 L955.97,253.43 L958.74,253.4 L961.54,253.37 L964.35,253.34 L967.18,253.31 L970.03,253.28 L972.89,253.26 L975.76,253.24 L978.66,253.22 L981.57,253.2 L984.49,253.18 L987.44,253.16 L990.4,253.15 L993.37,253.13 L996.36,253.12 L999.37,253.11 L1002.39,253.09 L1005.43,253.08 L1008.49,253.07 L1011.56,253.06 L1014.65,253.05 L1017.76,253.05 L1020.88,253.04 L1024.02,253.03 L1027.17,253.03 L1030.34,253.02 L1033.53,253.01 L1036.73,253.01 L1039.95,253.01 L1043.19,253 L1046.44,253 L1049.71,252.99 L1053,252.99 L1056.3,252.99 L1059.61,252.98 L1062.95,252.98 L1066.3,252.98 L1069.66,252.98 L1073.05,252.97 L1076.45,252.97 L1079.86,252.97 L1083.29,252.97 L1086.74,252.97 L1090.2,252.97 L1093.69,252.97 L1097.18,252.96 L1100.7,252.96 L1104.22,252.96 L1107.77,252.96 L1111.33,252.96 L1114.91,252.96 L1118.51,252.96 L1122.12,252.96 L1125.74,252.96 L1129.39,252.96 L1133.05,252.96 L1136.72,252.96 L1140.42,252.96 L1144.12,252.96 L1147.85,252.96 L1151.59,252.95 L1155.35,252.95 L1159.12,252.95 L1162.91,252.95 L1166.72,252.95 L1170.54,252.95 L1174.38,252.95 L1178.24,252.95 L1182.11,252.95 L1186,252.95 L1189.9,252.95" fill="none" stroke="#0b6b39" stroke-width="5.7" stroke-linecap="round" stroke-linejoin="round"/>
<line x1="743.88" y1="376.77" x2="743.88" y2="386.93" stroke="#080806" stroke-width="5.4" stroke-linecap="butt"/>
<line x1="737.73" y1="376.77" x2="750.02" y2="376.77" stroke="#080806" stroke-width="5.7" stroke-linecap="round"/>
<line x1="737.73" y1="386.93" x2="750.02" y2="386.93" stroke="#080806" stroke-width="5.7" stroke-linecap="round"/>
<line x1="767.35" y1="281.86" x2="767.35" y2="327.17" stroke="#080806" stroke-width="5.4" stroke-linecap="butt"/>
<line x1="761.2" y1="281.86" x2="773.5" y2="281.86" stroke="#080806" stroke-width="5.7" stroke-linecap="round"/>
<line x1="761.2" y1="327.17" x2="773.5" y2="327.17" stroke="#080806" stroke-width="5.7" stroke-linecap="round"/>
<line x1="837.77" y1="266.23" x2="837.77" y2="278.73" stroke="#080806" stroke-width="5.4" stroke-linecap="butt"/>
<line x1="831.62" y1="266.23" x2="843.92" y2="266.23" stroke="#080806" stroke-width="5.7" stroke-linecap="round"/>
<line x1="831.62" y1="278.73" x2="843.92" y2="278.73" stroke="#080806" stroke-width="5.7" stroke-linecap="round"/>
<line x1="955.15" y1="249.83" x2="955.15" y2="259.98" stroke="#080806" stroke-width="5.4" stroke-linecap="butt"/>
<line x1="949" y1="249.83" x2="961.3" y2="249.83" stroke="#080806" stroke-width="5.7" stroke-linecap="round"/>
<line x1="949" y1="259.98" x2="961.3" y2="259.98" stroke="#080806" stroke-width="5.7" stroke-linecap="round"/>
<line x1="1189.9" y1="237.72" x2="1189.9" y2="256.47" stroke="#080806" stroke-width="5.4" stroke-linecap="butt"/>
<line x1="1183.75" y1="237.72" x2="1196.05" y2="237.72" stroke="#080806" stroke-width="5.7" stroke-linecap="round"/>
<line x1="1183.75" y1="256.47" x2="1196.05" y2="256.47" stroke="#080806" stroke-width="5.7" stroke-linecap="round"/>
<line x1="767.35" y1="411.14" x2="767.35" y2="461.92" stroke="#080806" stroke-width="5.4" stroke-linecap="butt"/>
<line x1="761.2" y1="411.14" x2="773.5" y2="411.14" stroke="#080806" stroke-width="5.7" stroke-linecap="round"/>
<line x1="761.2" y1="461.92" x2="773.5" y2="461.92" stroke="#080806" stroke-width="5.7" stroke-linecap="round"/>
<line x1="837.77" y1="329.12" x2="837.77" y2="342.79" stroke="#080806" stroke-width="5.4" stroke-linecap="butt"/>
<line x1="831.62" y1="329.12" x2="843.92" y2="329.12" stroke="#080806" stroke-width="5.7" stroke-linecap="round"/>
<line x1="831.62" y1="342.79" x2="843.92" y2="342.79" stroke="#080806" stroke-width="5.7" stroke-linecap="round"/>
<line x1="955.15" y1="286.15" x2="955.15" y2="299.82" stroke="#080806" stroke-width="5.4" stroke-linecap="butt"/>
<line x1="949" y1="286.15" x2="961.3" y2="286.15" stroke="#080806" stroke-width="5.7" stroke-linecap="round"/>
<line x1="949" y1="299.82" x2="961.3" y2="299.82" stroke="#080806" stroke-width="5.7" stroke-linecap="round"/>
<line x1="1189.9" y1="254.91" x2="1189.9" y2="286.15" stroke="#080806" stroke-width="5.4" stroke-linecap="butt"/>
<line x1="1183.75" y1="254.91" x2="1196.05" y2="254.91" stroke="#080806" stroke-width="5.7" stroke-linecap="round"/>
<line x1="1183.75" y1="286.15" x2="1196.05" y2="286.15" stroke="#080806" stroke-width="5.7" stroke-linecap="round"/>
<line x1="767.35" y1="406.07" x2="767.35" y2="420.91" stroke="#080806" stroke-width="5.4" stroke-linecap="butt"/>
<line x1="761.2" y1="406.07" x2="773.5" y2="406.07" stroke="#080806" stroke-width="5.7" stroke-linecap="round"/>
<line x1="761.2" y1="420.91" x2="773.5" y2="420.91" stroke="#080806" stroke-width="5.7" stroke-linecap="round"/>
<circle cx="720.4" cy="478.33" r="6.3" fill="#080806"/>
<circle cx="722.75" cy="448.25" r="6.3" fill="#080806"/>
<circle cx="726.27" cy="459.97" r="6.3" fill="#080806"/>
<circle cx="732.14" cy="417" r="6.3" fill="#080806"/>
<circle cx="743.88" cy="381.85" r="6.3" fill="#080806"/>
<circle cx="767.35" cy="304.51" r="6.3" fill="#080806"/>
<circle cx="837.77" cy="272.48" r="6.3" fill="#080806"/>
<circle cx="955.15" cy="254.91" r="6.3" fill="#080806"/>
<circle cx="1189.9" cy="247.09" r="6.3" fill="#080806"/>
<path d="M720.4,472.78 L726.4,485.02 L714.4,485.02 Z" fill="#080806"/>
<path d="M722.75,468.87 L728.75,481.11 L716.75,481.11 Z" fill="#080806"/>
<path d="M726.27,466.92 L732.27,479.16 L720.27,479.16 Z" fill="#080806"/>
<path d="M732.14,465.75 L738.14,477.99 L726.14,477.99 Z" fill="#080806"/>
<path d="M743.88,458.72 L749.88,470.96 L737.88,470.96 Z" fill="#080806"/>
<path d="M767.35,429.81 L773.35,442.05 L761.35,442.05 Z" fill="#080806"/>
<path d="M837.77,330.21 L843.77,342.45 L831.77,342.45 Z" fill="#080806"/>
<path d="M955.15,287.25 L961.15,299.49 L949.15,299.49 Z" fill="#080806"/>
<path d="M1189.9,259.9 L1195.9,272.14 L1183.9,272.14 Z" fill="#080806"/>
<path d="M720.4,473.3 L726.6,479.5 L720.4,485.7 L714.2,479.5 Z" fill="#080806"/>
<path d="M722.75,470.18 L728.95,476.38 L722.75,482.58 L716.55,476.38 Z" fill="#080806"/>
<path d="M726.27,465.49 L732.47,471.69 L726.27,477.89 L720.07,471.69 Z" fill="#080806"/>
<path d="M732.14,459.63 L738.34,465.83 L732.14,472.03 L725.94,465.83 Z" fill="#080806"/>
<path d="M743.88,444.79 L750.08,450.99 L743.88,457.19 L737.67,450.99 Z" fill="#080806"/>
<path d="M767.35,406.9 L773.55,413.1 L767.35,419.3 L761.15,413.1 Z" fill="#080806"/>
<path d="M837.77,338.54 L843.98,344.74 L837.77,350.94 L831.57,344.74 Z" fill="#080806"/>
<path d="M955.15,294.8 L961.35,301 L955.15,307.2 L948.95,301 Z" fill="#080806"/>
<path d="M1189.9,267.06 L1196.1,273.26 L1189.9,279.46 L1183.7,273.26 Z" fill="#080806"/>
<text class="b" font-size="26.71" text-anchor="middle" transform="translate(955.8 551.8) scale(0.9174 1)" stroke-width="0.51">t/s</text>
<text class="b" font-size="27.69" transform="translate(667 442) rotate(-90) scale(0.9174 1)" stroke-width="0.53">Uba6~Ub</text>
<text class="b" font-size="20.06" transform="translate(657.3 327) rotate(-90) scale(0.9174 1)" stroke-width="0.39">CF488A</text>
<text class="b" font-size="28.34" transform="translate(667 256.5) rotate(-90) scale(0.9174 1)" stroke-width="0.55">(nM)</text>
<text class="r pl" font-size="70" transform="translate(-1.2 651)" stroke-width="0">b</text>
<text class="bi" font-size="35.7" transform="translate(64.6 631.3) scale(0.9804 1)" textLength="566.3" lengthAdjust="spacingAndGlyphs" stroke-width="0.32">Enzyme kinetics for Uba6~FAT10</text>
<line x1="63" y1="657.7" x2="622" y2="657.7" stroke="#111" stroke-width="3.9" stroke-linecap="butt"/>
<line x1="102.2" y1="724" x2="102.2" y2="1049.7" stroke="#080806" stroke-width="5.6" stroke-linecap="butt"/>
<line x1="92.2" y1="1039.5" x2="573.8" y2="1039.5" stroke="#080806" stroke-width="5.6" stroke-linecap="butt"/>
<line x1="102.2" y1="1039.5" x2="102.2" y2="1049.7" stroke="#080806" stroke-width="5.6" stroke-linecap="butt"/>
<line x1="195.96" y1="1039.5" x2="195.96" y2="1049.7" stroke="#080806" stroke-width="5.6" stroke-linecap="butt"/>
<line x1="289.72" y1="1039.5" x2="289.72" y2="1049.7" stroke="#080806" stroke-width="5.6" stroke-linecap="butt"/>
<line x1="383.48" y1="1039.5" x2="383.48" y2="1049.7" stroke="#080806" stroke-width="5.6" stroke-linecap="butt"/>
<line x1="477.24" y1="1039.5" x2="477.24" y2="1049.7" stroke="#080806" stroke-width="5.6" stroke-linecap="butt"/>
<line x1="571" y1="1039.5" x2="571" y2="1049.7" stroke="#080806" stroke-width="5.6" stroke-linecap="butt"/>
<line x1="92.2" y1="1039.5" x2="102.2" y2="1039.5" stroke="#080806" stroke-width="5.6" stroke-linecap="butt"/>
<line x1="92.2" y1="961.3" x2="102.2" y2="961.3" stroke="#080806" stroke-width="5.6" stroke-linecap="butt"/>
<line x1="92.2" y1="883.1" x2="102.2" y2="883.1" stroke="#080806" stroke-width="5.6" stroke-linecap="butt"/>
<line x1="92.2" y1="804.9" x2="102.2" y2="804.9" stroke="#080806" stroke-width="5.6" stroke-linecap="butt"/>
<line x1="92.2" y1="726.8" x2="102.2" y2="726.8" stroke="#080806" stroke-width="5.6" stroke-linecap="butt"/>
<text class="r" font-size="24" text-anchor="middle" transform="translate(102.2 1072.3)" stroke-width="0.41">0</text>
<text class="r" font-size="24" text-anchor="middle" transform="translate(195.96 1072.3)" stroke-width="0.41">2</text>
<text class="r" font-size="24" text-anchor="middle" transform="translate(289.72 1072.3)" stroke-width="0.41">4</text>
<text class="r" font-size="24" text-anchor="middle" transform="translate(383.48 1072.3)" stroke-width="0.41">6</text>
<text class="r" font-size="24" text-anchor="middle" transform="translate(477.24 1072.3)" stroke-width="0.41">8</text>
<text class="r" font-size="24" text-anchor="middle" transform="translate(571 1072.3)" stroke-width="0.41">10</text>
<text class="r" font-size="24" text-anchor="end" transform="translate(91.9 1048.1)" stroke-width="0.41">0</text>
<text class="r" font-size="24" text-anchor="end" transform="translate(91.9 969.9)" stroke-width="0.41">10</text>
<text class="r" font-size="24" text-anchor="end" transform="translate(91.9 891.7)" stroke-width="0.41">20</text>
<text class="r" font-size="24" text-anchor="end" transform="translate(91.9 813.5)" stroke-width="0.41">30</text>
<text class="r" font-size="24" text-anchor="end" transform="translate(91.9 735.3)" stroke-width="0.41">40</text>
<path d="M102.2,1039.5 L102.21,1039.46 L102.23,1039.34 L102.27,1039.14 L102.33,1038.86 L102.4,1038.51 L102.49,1038.09 L102.6,1037.6 L102.72,1037.04 L102.86,1036.42 L103.01,1035.74 L103.18,1035.01 L103.37,1034.24 L103.58,1033.42 L103.8,1032.57 L104.03,1031.68 L104.28,1030.77 L104.55,1029.83 L104.84,1028.87 L105.14,1027.9 L105.46,1026.92 L105.79,1025.93 L106.14,1024.94 L106.51,1023.95 L106.89,1022.97 L107.29,1021.99 L107.7,1021.01 L108.13,1020.05 L108.58,1019.1 L109.04,1018.16 L109.53,1017.24 L110.02,1016.34 L110.53,1015.45 L111.06,1014.58 L111.61,1013.73 L112.17,1012.9 L112.75,1012.09 L113.34,1011.3 L113.95,1010.53 L114.58,1009.77 L115.22,1009.04 L115.88,1008.33 L116.56,1007.64 L117.25,1006.97 L117.96,1006.32 L118.68,1005.68 L119.42,1005.07 L120.18,1004.47 L120.95,1003.89 L121.74,1003.33 L122.55,1002.78 L123.37,1002.25 L124.21,1001.74 L125.06,1001.24 L125.93,1000.76 L126.82,1000.29 L127.72,999.84 L128.64,999.4 L129.58,998.98 L130.53,998.57 L131.5,998.17 L132.48,997.78 L133.49,997.4 L134.5,997.04 L135.54,996.68 L136.59,996.34 L137.65,996.01 L138.74,995.69 L139.83,995.37 L140.95,995.07 L142.08,994.78 L143.23,994.49 L144.39,994.21 L145.57,993.94 L146.77,993.68 L147.98,993.43 L149.21,993.18 L150.46,992.94 L151.72,992.71 L152.99,992.48 L154.29,992.26 L155.6,992.05 L156.93,991.84 L158.27,991.64 L159.63,991.44 L161,991.25 L162.4,991.06 L163.8,990.88 L165.23,990.71 L166.67,990.53 L168.12,990.37 L169.6,990.2 L171.09,990.05 L172.59,989.89 L174.12,989.74 L175.65,989.59 L177.21,989.45 L178.78,989.31 L180.37,989.18 L181.97,989.05 L183.59,988.92 L185.22,988.79 L186.88,988.67 L188.55,988.55 L190.23,988.43 L191.93,988.32 L193.65,988.21 L195.38,988.1 L197.13,987.99 L198.9,987.89 L200.68,987.79 L202.48,987.69 L204.29,987.59 L206.13,987.5 L207.97,987.4 L209.84,987.31 L211.72,987.23 L213.61,987.14 L215.53,987.06 L217.45,986.97 L219.4,986.89 L221.36,986.81 L223.34,986.74 L225.33,986.66 L227.34,986.59 L229.37,986.52 L231.41,986.44 L233.47,986.38 L235.55,986.31 L237.64,986.24 L239.75,986.18 L241.87,986.11 L244.01,986.05 L246.17,985.99 L248.34,985.93 L250.53,985.87 L252.74,985.81 L254.96,985.76 L257.2,985.7 L259.45,985.65 L261.72,985.59 L264.01,985.54 L266.31,985.49 L268.63,985.44 L270.97,985.39 L273.32,985.34 L275.69,985.29 L278.07,985.25 L280.47,985.2 L282.89,985.16 L285.32,985.11 L287.77,985.07 L290.24,985.03 L292.72,984.99 L295.22,984.94 L297.74,984.9 L300.27,984.86 L302.82,984.83 L305.38,984.79 L307.96,984.75 L310.56,984.71 L313.17,984.68 L315.8,984.64 L318.44,984.61 L321.1,984.57 L323.78,984.54 L326.48,984.51 L329.19,984.47 L331.91,984.44 L334.65,984.41 L337.41,984.38 L340.19,984.35 L342.98,984.32 L345.79,984.29 L348.61,984.26 L351.45,984.23 L354.31,984.2 L357.18,984.17 L360.07,984.15 L362.98,984.12 L365.9,984.09 L368.84,984.07 L371.79,984.04 L374.76,984.02 L377.75,983.99 L380.75,983.97 L383.77,983.94 L386.81,983.92 L389.86,983.9 L392.93,983.87 L396.01,983.85 L399.11,983.83 L402.23,983.81 L405.37,983.79 L408.52,983.76 L411.68,983.74 L414.86,983.72 L418.06,983.7 L421.28,983.68 L424.51,983.66 L427.76,983.64 L431.02,983.62 L434.3,983.6 L437.6,983.59 L440.91,983.57 L444.24,983.55 L447.58,983.53 L450.94,983.51 L454.32,983.5 L457.71,983.48 L461.12,983.46 L464.55,983.45 L467.99,983.43 L471.45,983.41 L474.93,983.4 L478.42,983.38 L481.93,983.36 L485.45,983.35 L488.99,983.33 L492.55,983.32 L496.12,983.3 L499.71,983.29 L503.32,983.27 L506.94,983.26 L510.58,983.25 L514.23,983.23 L517.9,983.22 L521.59,983.21 L525.29,983.19 L529.01,983.18 L532.75,983.17 L536.5,983.15 L540.27,983.14 L544.05,983.13 L547.85,983.11 L551.67,983.1 L555.5,983.09 L559.35,983.08 L563.22,983.07 L567.1,983.05 L571,983.04" fill="none" stroke="#999999" stroke-width="5.7" stroke-linecap="round" stroke-linejoin="round"/>
<path d="M102.2,1039.5 L102.21,1039.48 L102.23,1039.44 L102.27,1039.36 L102.33,1039.25 L102.4,1039.1 L102.49,1038.93 L102.6,1038.73 L102.72,1038.51 L102.86,1038.25 L103.01,1037.98 L103.18,1037.67 L103.37,1037.35 L103.58,1037.01 L103.8,1036.65 L104.03,1036.27 L104.28,1035.88 L104.55,1035.48 L104.84,1035.06 L105.14,1034.63 L105.46,1034.2 L105.79,1033.76 L106.14,1033.31 L106.51,1032.86 L106.89,1032.41 L107.29,1031.95 L107.7,1031.5 L108.13,1031.05 L108.58,1030.59 L109.04,1030.15 L109.53,1029.7 L110.02,1029.26 L110.53,1028.82 L111.06,1028.39 L111.61,1027.97 L112.17,1027.55 L112.75,1027.14 L113.34,1026.73 L113.95,1026.33 L114.58,1025.94 L115.22,1025.56 L115.88,1025.19 L116.56,1024.82 L117.25,1024.46 L117.96,1024.11 L118.68,1023.77 L119.42,1023.43 L120.18,1023.11 L120.95,1022.79 L121.74,1022.48 L122.55,1022.17 L123.37,1021.88 L124.21,1021.59 L125.06,1021.31 L125.93,1021.04 L126.82,1020.77 L127.72,1020.51 L128.64,1020.26 L129.58,1020.01 L130.53,1019.77 L131.5,1019.54 L132.48,1019.31 L133.49,1019.09 L134.5,1018.88 L135.54,1018.67 L136.59,1018.47 L137.65,1018.27 L138.74,1018.07 L139.83,1017.89 L140.95,1017.7 L142.08,1017.53 L143.23,1017.35 L144.39,1017.18 L145.57,1017.02 L146.77,1016.86 L147.98,1016.7 L149.21,1016.55 L150.46,1016.41 L151.72,1016.26 L152.99,1016.12 L154.29,1015.99 L155.6,1015.85 L156.93,1015.72 L158.27,1015.6 L159.63,1015.47 L161,1015.35 L162.4,1015.24 L163.8,1015.12 L165.23,1015.01 L166.67,1014.9 L168.12,1014.8 L169.6,1014.7 L171.09,1014.6 L172.59,1014.5 L174.12,1014.4 L175.65,1014.31 L177.21,1014.22 L178.78,1014.13 L180.37,1014.04 L181.97,1013.96 L183.59,1013.87 L185.22,1013.79 L186.88,1013.71 L188.55,1013.64 L190.23,1013.56 L191.93,1013.49 L193.65,1013.41 L195.38,1013.34 L197.13,1013.28 L198.9,1013.21 L200.68,1013.14 L202.48,1013.08 L204.29,1013.02 L206.13,1012.95 L207.97,1012.89 L209.84,1012.83 L211.72,1012.78 L213.61,1012.72 L215.53,1012.67 L217.45,1012.61 L219.4,1012.56 L221.36,1012.51 L223.34,1012.46 L225.33,1012.41 L227.34,1012.36 L229.37,1012.31 L231.41,1012.26 L233.47,1012.22 L235.55,1012.17 L237.64,1012.13 L239.75,1012.09 L241.87,1012.04 L244.01,1012 L246.17,1011.96 L248.34,1011.92 L250.53,1011.88 L252.74,1011.84 L254.96,1011.81 L257.2,1011.77 L259.45,1011.73 L261.72,1011.7 L264.01,1011.66 L266.31,1011.63 L268.63,1011.6 L270.97,1011.56 L273.32,1011.53 L275.69,1011.5 L278.07,1011.47 L280.47,1011.44 L282.89,1011.41 L285.32,1011.38 L287.77,1011.35 L290.24,1011.32 L292.72,1011.29 L295.22,1011.26 L297.74,1011.24 L300.27,1011.21 L302.82,1011.19 L305.38,1011.16 L307.96,1011.13 L310.56,1011.11 L313.17,1011.09 L315.8,1011.06 L318.44,1011.04 L321.1,1011.02 L323.78,1010.99 L326.48,1010.97 L329.19,1010.95 L331.91,1010.93 L334.65,1010.91 L337.41,1010.88 L340.19,1010.86 L342.98,1010.84 L345.79,1010.82 L348.61,1010.8 L351.45,1010.78 L354.31,1010.77 L357.18,1010.75 L360.07,1010.73 L362.98,1010.71 L365.9,1010.69 L368.84,1010.67 L371.79,1010.66 L374.76,1010.64 L377.75,1010.62 L380.75,1010.61 L383.77,1010.59 L386.81,1010.57 L389.86,1010.56 L392.93,1010.54 L396.01,1010.53 L399.11,1010.51 L402.23,1010.5 L405.37,1010.48 L408.52,1010.47 L411.68,1010.45 L414.86,1010.44 L418.06,1010.43 L421.28,1010.41 L424.51,1010.4 L427.76,1010.39 L431.02,1010.37 L434.3,1010.36 L437.6,1010.35 L440.91,1010.33 L444.24,1010.32 L447.58,1010.31 L450.94,1010.3 L454.32,1010.29 L457.71,1010.27 L461.12,1010.26 L464.55,1010.25 L467.99,1010.24 L471.45,1010.23 L474.93,1010.22 L478.42,1010.21 L481.93,1010.2 L485.45,1010.19 L488.99,1010.17 L492.55,1010.16 L496.12,1010.15 L499.71,1010.14 L503.32,1010.13 L506.94,1010.12 L510.58,1010.12 L514.23,1010.11 L517.9,1010.1 L521.59,1010.09 L525.29,1010.08 L529.01,1010.07 L532.75,1010.06 L536.5,1010.05 L540.27,1010.04 L544.05,1010.03 L547.85,1010.03 L551.67,1010.02 L555.5,1010.01 L559.35,1010 L563.22,1009.99 L567.1,1009.98 L571,1009.98" fill="none" stroke="#a92fb1" stroke-width="5.7" stroke-linecap="butt" stroke-linejoin="round"/>
<path d="M102.2,1039.5 L102.21,1039.35 L102.23,1038.89 L102.27,1038.13 L102.33,1037.08 L102.4,1035.74 L102.49,1034.11 L102.6,1032.22 L102.72,1030.07 L102.86,1027.67 L103.01,1025.05 L103.18,1022.2 L103.37,1019.16 L103.58,1015.94 L103.8,1012.54 L104.03,1009 L104.28,1005.33 L104.55,1001.54 L104.84,997.64 L105.14,993.67 L105.46,989.62 L105.79,985.52 L106.14,981.38 L106.51,977.21 L106.89,973.03 L107.29,968.84 L107.7,964.66 L108.13,960.49 L108.58,956.35 L109.04,952.24 L109.53,948.17 L110.02,944.15 L110.53,940.17 L111.06,936.26 L111.61,932.4 L112.17,928.61 L112.75,924.89 L113.34,921.23 L113.95,917.65 L114.58,914.14 L115.22,910.71 L115.88,907.35 L116.56,904.07 L117.25,900.86 L117.96,897.73 L118.68,894.68 L119.42,891.7 L120.18,888.79 L120.95,885.96 L121.74,883.21 L122.55,880.52 L123.37,877.91 L124.21,875.36 L125.06,872.89 L125.93,870.47 L126.82,868.13 L127.72,865.85 L128.64,863.63 L129.58,861.47 L130.53,859.37 L131.5,857.33 L132.48,855.34 L133.49,853.41 L134.5,851.54 L135.54,849.71 L136.59,847.93 L137.65,846.21 L138.74,844.53 L139.83,842.89 L140.95,841.31 L142.08,839.76 L143.23,838.26 L144.39,836.79 L145.57,835.37 L146.77,833.99 L147.98,832.64 L149.21,831.33 L150.46,830.05 L151.72,828.81 L152.99,827.6 L154.29,826.42 L155.6,825.28 L156.93,824.16 L158.27,823.07 L159.63,822.01 L161,820.98 L162.4,819.97 L163.8,818.99 L165.23,818.04 L166.67,817.11 L168.12,816.2 L169.6,815.31 L171.09,814.45 L172.59,813.61 L174.12,812.79 L175.65,811.99 L177.21,811.21 L178.78,810.44 L180.37,809.7 L181.97,808.97 L183.59,808.26 L185.22,807.57 L186.88,806.89 L188.55,806.23 L190.23,805.59 L191.93,804.96 L193.65,804.34 L195.38,803.74 L197.13,803.15 L198.9,802.58 L200.68,802.02 L202.48,801.47 L204.29,800.93 L206.13,800.41 L207.97,799.89 L209.84,799.39 L211.72,798.9 L213.61,798.42 L215.53,797.95 L217.45,797.49 L219.4,797.04 L221.36,796.6 L223.34,796.17 L225.33,795.74 L227.34,795.33 L229.37,794.92 L231.41,794.53 L233.47,794.14 L235.55,793.76 L237.64,793.38 L239.75,793.02 L241.87,792.66 L244.01,792.31 L246.17,791.96 L248.34,791.62 L250.53,791.29 L252.74,790.97 L254.96,790.65 L257.2,790.34 L259.45,790.03 L261.72,789.73 L264.01,789.43 L266.31,789.14 L268.63,788.86 L270.97,788.58 L273.32,788.31 L275.69,788.04 L278.07,787.77 L280.47,787.51 L282.89,787.26 L285.32,787.01 L287.77,786.77 L290.24,786.52 L292.72,786.29 L295.22,786.06 L297.74,785.83 L300.27,785.6 L302.82,785.38 L305.38,785.16 L307.96,784.95 L310.56,784.74 L313.17,784.54 L315.8,784.33 L318.44,784.14 L321.1,783.94 L323.78,783.75 L326.48,783.56 L329.19,783.37 L331.91,783.19 L334.65,783.01 L337.41,782.83 L340.19,782.66 L342.98,782.49 L345.79,782.32 L348.61,782.15 L351.45,781.99 L354.31,781.83 L357.18,781.67 L360.07,781.51 L362.98,781.36 L365.9,781.21 L368.84,781.06 L371.79,780.91 L374.76,780.77 L377.75,780.63 L380.75,780.49 L383.77,780.35 L386.81,780.21 L389.86,780.08 L392.93,779.95 L396.01,779.82 L399.11,779.69 L402.23,779.56 L405.37,779.44 L408.52,779.32 L411.68,779.2 L414.86,779.08 L418.06,778.96 L421.28,778.84 L424.51,778.73 L427.76,778.62 L431.02,778.51 L434.3,778.4 L437.6,778.29 L440.91,778.19 L444.24,778.08 L447.58,777.98 L450.94,777.88 L454.32,777.77 L457.71,777.68 L461.12,777.58 L464.55,777.48 L467.99,777.39 L471.45,777.29 L474.93,777.2 L478.42,777.11 L481.93,777.02 L485.45,776.93 L488.99,776.84 L492.55,776.76 L496.12,776.67 L499.71,776.59 L503.32,776.5 L506.94,776.42 L510.58,776.34 L514.23,776.26 L517.9,776.18 L521.59,776.1 L525.29,776.02 L529.01,775.95 L532.75,775.87 L536.5,775.8 L540.27,775.72 L544.05,775.65 L547.85,775.58 L551.67,775.51 L555.5,775.44 L559.35,775.37 L563.22,775.3 L567.1,775.23 L571,775.17" fill="none" stroke="#0b6b39" stroke-width="5.7" stroke-linecap="round" stroke-linejoin="round"/>
<line x1="125.64" y1="863.55" x2="125.64" y2="883.88" stroke="#080806" stroke-width="5.4" stroke-linecap="butt"/>
<line x1="119.49" y1="863.55" x2="131.79" y2="863.55" stroke="#080806" stroke-width="5.7" stroke-linecap="round"/>
<line x1="119.49" y1="883.88" x2="131.79" y2="883.88" stroke="#080806" stroke-width="5.7" stroke-linecap="round"/>
<line x1="137.36" y1="826.01" x2="137.36" y2="857.29" stroke="#080806" stroke-width="5.4" stroke-linecap="butt"/>
<line x1="131.21" y1="826.01" x2="143.51" y2="826.01" stroke="#080806" stroke-width="5.7" stroke-linecap="round"/>
<line x1="131.21" y1="857.29" x2="143.51" y2="857.29" stroke="#080806" stroke-width="5.7" stroke-linecap="round"/>
<line x1="149.08" y1="804.9" x2="149.08" y2="844" stroke="#080806" stroke-width="5.4" stroke-linecap="butt"/>
<line x1="142.93" y1="804.9" x2="155.23" y2="804.9" stroke="#080806" stroke-width="5.7" stroke-linecap="round"/>
<line x1="142.93" y1="844" x2="155.23" y2="844" stroke="#080806" stroke-width="5.7" stroke-linecap="round"/>
<line x1="219.4" y1="777.53" x2="219.4" y2="810.37" stroke="#080806" stroke-width="5.4" stroke-linecap="butt"/>
<line x1="213.25" y1="777.53" x2="225.55" y2="777.53" stroke="#080806" stroke-width="5.7" stroke-linecap="round"/>
<line x1="213.25" y1="810.37" x2="225.55" y2="810.37" stroke="#080806" stroke-width="5.7" stroke-linecap="round"/>
<line x1="336.6" y1="775.97" x2="336.6" y2="799.43" stroke="#080806" stroke-width="5.4" stroke-linecap="butt"/>
<line x1="330.45" y1="775.97" x2="342.75" y2="775.97" stroke="#080806" stroke-width="5.7" stroke-linecap="round"/>
<line x1="330.45" y1="799.43" x2="342.75" y2="799.43" stroke="#080806" stroke-width="5.7" stroke-linecap="round"/>
<line x1="453.8" y1="770.49" x2="453.8" y2="790.82" stroke="#080806" stroke-width="5.4" stroke-linecap="butt"/>
<line x1="447.65" y1="770.49" x2="459.95" y2="770.49" stroke="#080806" stroke-width="5.7" stroke-linecap="round"/>
<line x1="447.65" y1="790.82" x2="459.95" y2="790.82" stroke="#080806" stroke-width="5.7" stroke-linecap="round"/>
<line x1="571" y1="771.27" x2="571" y2="794.73" stroke="#080806" stroke-width="5.4" stroke-linecap="butt"/>
<line x1="564.85" y1="771.27" x2="577.15" y2="771.27" stroke="#080806" stroke-width="5.7" stroke-linecap="round"/>
<line x1="564.85" y1="794.73" x2="577.15" y2="794.73" stroke="#080806" stroke-width="5.7" stroke-linecap="round"/>
<circle cx="106.89" cy="992.58" r="6.3" fill="#080806"/>
<circle cx="113.92" cy="936.28" r="6.3" fill="#080806"/>
<circle cx="125.64" cy="873.72" r="6.3" fill="#080806"/>
<circle cx="137.36" cy="841.65" r="6.3" fill="#080806"/>
<circle cx="149.08" cy="824.45" r="6.3" fill="#080806"/>
<circle cx="219.4" cy="793.95" r="6.3" fill="#080806"/>
<circle cx="336.6" cy="787.7" r="6.3" fill="#080806"/>
<circle cx="453.8" cy="780.66" r="6.3" fill="#080806"/>
<circle cx="571" cy="783" r="6.3" fill="#080806"/>
<path d="M106.89,1014.01 L112.89,1026.25 L100.89,1026.25 Z" fill="#080806"/>
<path d="M113.92,1009.32 L119.92,1021.56 L107.92,1021.56 Z" fill="#080806"/>
<path d="M125.64,1001.5 L131.64,1013.74 L119.64,1013.74 Z" fill="#080806"/>
<path d="M137.36,985.08 L143.36,997.32 L131.36,997.32 Z" fill="#080806"/>
<path d="M149.08,995.24 L155.08,1007.48 L143.08,1007.48 Z" fill="#080806"/>
<path d="M219.4,982.73 L225.4,994.97 L213.4,994.97 Z" fill="#080806"/>
<path d="M336.6,981.95 L342.6,994.19 L330.6,994.19 Z" fill="#080806"/>
<path d="M453.8,972.57 L459.8,984.81 L447.8,984.81 Z" fill="#080806"/>
<path d="M571,978.82 L577,991.06 L565,991.06 Z" fill="#080806"/>
<path d="M106.89,1023.13 L113.09,1029.33 L106.89,1035.53 L100.69,1029.33 Z" fill="#080806"/>
<path d="M113.92,1020.01 L120.12,1026.21 L113.92,1032.41 L107.72,1026.21 Z" fill="#080806"/>
<path d="M125.64,1016.1 L131.84,1022.3 L125.64,1028.5 L119.44,1022.3 Z" fill="#080806"/>
<path d="M137.36,1012.19 L143.56,1018.39 L137.36,1024.59 L131.16,1018.39 Z" fill="#080806"/>
<path d="M149.08,1012.97 L155.28,1019.17 L149.08,1025.37 L142.88,1019.17 Z" fill="#080806"/>
<path d="M219.4,1009.06 L225.6,1015.26 L219.4,1021.46 L213.2,1015.26 Z" fill="#080806"/>
<path d="M336.6,1002.8 L342.8,1009 L336.6,1015.2 L330.4,1009 Z" fill="#080806"/>
<path d="M453.8,1006.71 L460,1012.91 L453.8,1019.11 L447.6,1012.91 Z" fill="#080806"/>
<path d="M571,1002.8 L577.2,1009 L571,1015.2 L564.8,1009 Z" fill="#080806"/>
<text class="b" font-size="27.69" transform="translate(51.5 1024) rotate(-90) scale(0.9174 1)" stroke-width="0.53">Uba6~FAT10</text>
<text class="b" font-size="19.08" transform="translate(42.5 870.5) rotate(-90) scale(0.9174 1)" stroke-width="0.37">CF488A</text>
<text class="b" font-size="26.71" transform="translate(51.5 790.5) rotate(-90) scale(0.9174 1)" stroke-width="0.51">nM/s</text>
<text class="b" font-size="27.03" transform="translate(228.7 1112) scale(0.9174 1)" stroke-width="0.52">[FAT10</text>
<text class="b" font-size="20.71" transform="translate(311.3 1102.6) scale(0.9174 1)" stroke-width="0.4">CF488A</text>
<text class="b" font-size="27.9" transform="translate(382.2 1112) scale(0.9174 1)" stroke-width="0.54">] µM</text>
<rect x="727.7" y="604.7" width="455.8" height="91.8" rx="44" ry="44" fill="#fff" stroke="#111" stroke-width="2.9"/>
<line x1="749.4" y1="627.5" x2="793.5" y2="627.5" stroke="#0b6b39" stroke-width="8.2" stroke-linecap="round"/>
<circle cx="771.2" cy="627.5" r="6.3" fill="#080806"/>
<text class="r" font-size="25" transform="translate(803 633.3)" stroke-width="0.43">Uba6_Apo</text>
<line x1="965.8" y1="626.9" x2="1011.1" y2="626.9" stroke="#a92fb1" stroke-width="8.2" stroke-linecap="butt"/>
<path d="M988.3,620.5 L994.7,626.9 L988.3,633.3 L981.9,626.9 Z" fill="#080806"/>
<text class="r" font-size="25" transform="translate(1020 632)" stroke-width="0.43">Uba6_insect</text>
<line x1="747.5" y1="672.2" x2="791.8" y2="672.2" stroke="#828282" stroke-width="8.2" stroke-linecap="round"/>
<path d="M769.5,665.26 L775.7,677.9 L763.3,677.9 Z" fill="#080806"/>
<text class="r" font-size="25" transform="translate(804.2 680.2)" stroke-width="0.43">Uba6_Apo</text>
<text class="r" font-size="25.6" transform="translate(935.8 680.2)" stroke-width="0.44">+ 50 µM InsP6</text>
<line x1="728.7" y1="727.7" x2="728.7" y2="1047.4" stroke="#080806" stroke-width="5.6" stroke-linecap="butt"/>
<line x1="718.7" y1="1037.2" x2="1192.7" y2="1037.2" stroke="#080806" stroke-width="5.6" stroke-linecap="butt"/>
<line x1="728.7" y1="1037.2" x2="728.7" y2="1047.4" stroke="#080806" stroke-width="5.6" stroke-linecap="butt"/>
<line x1="774.82" y1="1037.2" x2="774.82" y2="1047.4" stroke="#080806" stroke-width="5.6" stroke-linecap="butt"/>
<line x1="820.94" y1="1037.2" x2="820.94" y2="1047.4" stroke="#080806" stroke-width="5.6" stroke-linecap="butt"/>
<line x1="867.06" y1="1037.2" x2="867.06" y2="1047.4" stroke="#080806" stroke-width="5.6" stroke-linecap="butt"/>
<line x1="913.18" y1="1037.2" x2="913.18" y2="1047.4" stroke="#080806" stroke-width="5.6" stroke-linecap="butt"/>
<line x1="959.3" y1="1037.2" x2="959.3" y2="1047.4" stroke="#080806" stroke-width="5.6" stroke-linecap="butt"/>
<line x1="1005.42" y1="1037.2" x2="1005.42" y2="1047.4" stroke="#080806" stroke-width="5.6" stroke-linecap="butt"/>
<line x1="1051.54" y1="1037.2" x2="1051.54" y2="1047.4" stroke="#080806" stroke-width="5.6" stroke-linecap="butt"/>
<line x1="1097.66" y1="1037.2" x2="1097.66" y2="1047.4" stroke="#080806" stroke-width="5.6" stroke-linecap="butt"/>
<line x1="1143.78" y1="1037.2" x2="1143.78" y2="1047.4" stroke="#080806" stroke-width="5.6" stroke-linecap="butt"/>
<line x1="1189.9" y1="1037.2" x2="1189.9" y2="1047.4" stroke="#080806" stroke-width="5.6" stroke-linecap="butt"/>
<line x1="718.7" y1="1037.2" x2="728.7" y2="1037.2" stroke="#080806" stroke-width="5.6" stroke-linecap="butt"/>
<line x1="718.7" y1="998.9" x2="728.7" y2="998.9" stroke="#080806" stroke-width="5.6" stroke-linecap="butt"/>
<line x1="718.7" y1="960.6" x2="728.7" y2="960.6" stroke="#080806" stroke-width="5.6" stroke-linecap="butt"/>
<line x1="718.7" y1="922.3" x2="728.7" y2="922.3" stroke="#080806" stroke-width="5.6" stroke-linecap="butt"/>
<line x1="718.7" y1="884" x2="728.7" y2="884" stroke="#080806" stroke-width="5.6" stroke-linecap="butt"/>
<line x1="718.7" y1="845.7" x2="728.7" y2="845.7" stroke="#080806" stroke-width="5.6" stroke-linecap="butt"/>
<line x1="718.7" y1="807.4" x2="728.7" y2="807.4" stroke="#080806" stroke-width="5.6" stroke-linecap="butt"/>
<line x1="718.7" y1="769.1" x2="728.7" y2="769.1" stroke="#080806" stroke-width="5.6" stroke-linecap="butt"/>
<line x1="718.7" y1="730.5" x2="728.7" y2="730.5" stroke="#080806" stroke-width="5.6" stroke-linecap="butt"/>
<text class="r" font-size="24" text-anchor="middle" transform="translate(728.7 1070)" stroke-width="0.41">0</text>
<text class="r" font-size="24" text-anchor="middle" transform="translate(774.82 1070)" stroke-width="0.41">2</text>
<text class="r" font-size="24" text-anchor="middle" transform="translate(820.94 1070)" stroke-width="0.41">4</text>
<text class="r" font-size="24" text-anchor="middle" transform="translate(867.06 1070)" stroke-width="0.41">6</text>
<text class="r" font-size="24" text-anchor="middle" transform="translate(913.18 1070)" stroke-width="0.41">8</text>
<text class="r" font-size="24" text-anchor="middle" transform="translate(959.3 1070)" stroke-width="0.41">10</text>
<text class="r" font-size="24" text-anchor="middle" transform="translate(1005.42 1070)" stroke-width="0.41">12</text>
<text class="r" font-size="24" text-anchor="middle" transform="translate(1051.54 1070)" stroke-width="0.41">14</text>
<text class="r" font-size="24" text-anchor="middle" transform="translate(1097.66 1070)" stroke-width="0.41">16</text>
<text class="r" font-size="24" text-anchor="middle" transform="translate(1143.78 1070)" stroke-width="0.41">18</text>
<text class="r" font-size="24" text-anchor="middle" transform="translate(1189.9 1070)" stroke-width="0.41">20</text>
<text class="r" font-size="24" text-anchor="end" transform="translate(718.4 1045.8)" stroke-width="0.41">0</text>
<text class="r" font-size="24" text-anchor="end" transform="translate(718.4 1007.5)" stroke-width="0.41">10</text>
<text class="r" font-size="24" text-anchor="end" transform="translate(718.4 969.2)" stroke-width="0.41">20</text>
<text class="r" font-size="24" text-anchor="end" transform="translate(718.4 930.9)" stroke-width="0.41">30</text>
<text class="r" font-size="24" text-anchor="end" transform="translate(718.4 892.6)" stroke-width="0.41">40</text>
<text class="r" font-size="24" text-anchor="end" transform="translate(718.4 854.3)" stroke-width="0.41">50</text>
<text class="r" font-size="24" text-anchor="end" transform="translate(718.4 816)" stroke-width="0.41">60</text>
<text class="r" font-size="24" text-anchor="end" transform="translate(718.4 777.7)" stroke-width="0.41">70</text>
<text class="r" font-size="24" text-anchor="end" transform="translate(718.4 739.4)" stroke-width="0.41">80</text>
<path d="M728.7,1037.2 L728.71,1037.19 L728.73,1037.18 L728.77,1037.15 L728.83,1037.11 L728.9,1037.06 L728.99,1037 L729.09,1036.92 L729.21,1036.84 L729.35,1036.74 L729.5,1036.63 L729.67,1036.51 L729.85,1036.38 L730.05,1036.24 L730.27,1036.09 L730.5,1035.93 L730.75,1035.75 L731.01,1035.57 L731.29,1035.37 L731.59,1035.16 L731.9,1034.94 L732.23,1034.71 L732.58,1034.48 L732.94,1034.22 L733.31,1033.96 L733.7,1033.69 L734.11,1033.41 L734.54,1033.12 L734.98,1032.82 L735.43,1032.5 L735.91,1032.18 L736.39,1031.85 L736.9,1031.51 L737.42,1031.15 L737.96,1030.79 L738.51,1030.42 L739.08,1030.04 L739.66,1029.65 L740.26,1029.25 L740.88,1028.84 L741.51,1028.42 L742.16,1027.99 L742.82,1027.55 L743.5,1027.11 L744.2,1026.65 L744.91,1026.19 L745.64,1025.72 L746.39,1025.24 L747.15,1024.75 L747.92,1024.25 L748.72,1023.75 L749.53,1023.24 L750.35,1022.72 L751.19,1022.19 L752.05,1021.66 L752.92,1021.12 L753.81,1020.57 L754.71,1020.01 L755.64,1019.45 L756.57,1018.88 L757.53,1018.3 L758.49,1017.72 L759.48,1017.13 L760.48,1016.53 L761.5,1015.93 L762.53,1015.32 L763.58,1014.71 L764.64,1014.09 L765.72,1013.47 L766.82,1012.84 L767.93,1012.2 L769.06,1011.56 L770.21,1010.92 L771.37,1010.27 L772.55,1009.62 L773.74,1008.96 L774.95,1008.29 L776.17,1007.63 L777.41,1006.96 L778.67,1006.28 L779.94,1005.6 L781.23,1004.92 L782.54,1004.24 L783.86,1003.55 L785.2,1002.85 L786.55,1002.16 L787.92,1001.46 L789.3,1000.76 L790.71,1000.06 L792.12,999.35 L793.56,998.65 L795.01,997.94 L796.47,997.23 L797.95,996.51 L799.45,995.8 L800.96,995.08 L802.49,994.37 L804.04,993.65 L805.6,992.93 L807.18,992.21 L808.77,991.49 L810.38,990.76 L812,990.04 L813.65,989.32 L815.3,988.6 L816.98,987.87 L818.67,987.15 L820.37,986.43 L822.09,985.7 L823.83,984.98 L825.58,984.26 L827.35,983.54 L829.14,982.82 L830.94,982.1 L832.76,981.38 L834.59,980.66 L836.44,979.95 L838.31,979.23 L840.19,978.52 L842.09,977.81 L844,977.1 L845.93,976.39 L847.88,975.69 L849.84,974.98 L851.81,974.28 L853.81,973.58 L855.82,972.89 L857.84,972.19 L859.89,971.5 L861.94,970.81 L864.02,970.13 L866.11,969.44 L868.21,968.76 L870.33,968.08 L872.47,967.41 L874.63,966.74 L876.8,966.07 L878.98,965.41 L881.18,964.74 L883.4,964.09 L885.64,963.43 L887.89,962.78 L890.15,962.14 L892.43,961.49 L894.73,960.85 L897.05,960.22 L899.38,959.59 L901.72,958.96 L904.08,958.34 L906.46,957.72 L908.86,957.11 L911.27,956.5 L913.69,955.89 L916.13,955.29 L918.59,954.69 L921.07,954.1 L923.56,953.51 L926.06,952.93 L928.59,952.35 L931.12,951.78 L933.68,951.21 L936.25,950.64 L938.83,950.08 L941.44,949.53 L944.05,948.98 L946.69,948.43 L949.34,947.89 L952.01,947.35 L954.69,946.82 L957.39,946.3 L960.1,945.78 L962.83,945.26 L965.58,944.75 L968.34,944.25 L971.12,943.74 L973.91,943.25 L976.72,942.76 L979.55,942.27 L982.39,941.79 L985.25,941.32 L988.12,940.85 L991.02,940.38 L993.92,939.92 L996.84,939.47 L999.78,939.02 L1002.74,938.57 L1005.71,938.13 L1008.69,937.7 L1011.7,937.27 L1014.72,936.84 L1017.75,936.42 L1020.8,936.01 L1023.87,935.6 L1026.95,935.19 L1030.05,934.79 L1033.16,934.4 L1036.29,934.01 L1039.44,933.62 L1042.6,933.24 L1045.78,932.87 L1048.98,932.5 L1052.19,932.13 L1055.42,931.77 L1058.66,931.42 L1061.92,931.07 L1065.19,930.72 L1068.48,930.38 L1071.79,930.04 L1075.11,929.71 L1078.45,929.39 L1081.81,929.06 L1085.18,928.74 L1088.56,928.43 L1091.97,928.12 L1095.39,927.82 L1098.82,927.52 L1102.27,927.22 L1105.74,926.93 L1109.22,926.65 L1112.72,926.36 L1116.24,926.09 L1119.77,925.81 L1123.31,925.54 L1126.88,925.28 L1130.46,925.02 L1134.05,924.76 L1137.66,924.51 L1141.29,924.26 L1144.93,924.01 L1148.59,923.77 L1152.27,923.54 L1155.96,923.3 L1159.67,923.08 L1163.39,922.85 L1167.13,922.63 L1170.88,922.41 L1174.65,922.2 L1178.44,921.99 L1182.25,921.78 L1186.06,921.58 L1189.9,921.38" fill="none" stroke="#828282" stroke-width="5.7" stroke-linecap="round" stroke-linejoin="round"/>
<path d="M728.7,1037.2 L728.71,1037.19 L728.73,1037.17 L728.77,1037.14 L728.83,1037.09 L728.9,1037.02 L728.99,1036.95 L729.09,1036.86 L729.21,1036.75 L729.35,1036.63 L729.5,1036.5 L729.67,1036.35 L729.85,1036.19 L730.05,1036.02 L730.27,1035.83 L730.5,1035.63 L730.75,1035.41 L731.01,1035.18 L731.29,1034.94 L731.59,1034.68 L731.9,1034.41 L732.23,1034.13 L732.58,1033.84 L732.94,1033.53 L733.31,1033.2 L733.7,1032.87 L734.11,1032.52 L734.54,1032.16 L734.98,1031.79 L735.43,1031.4 L735.91,1031 L736.39,1030.59 L736.9,1030.17 L737.42,1029.74 L737.96,1029.29 L738.51,1028.83 L739.08,1028.36 L739.66,1027.88 L740.26,1027.39 L740.88,1026.88 L741.51,1026.36 L742.16,1025.84 L742.82,1025.3 L743.5,1024.75 L744.2,1024.19 L744.91,1023.62 L745.64,1023.04 L746.39,1022.45 L747.15,1021.85 L747.92,1021.24 L748.72,1020.62 L749.53,1019.99 L750.35,1019.35 L751.19,1018.7 L752.05,1018.04 L752.92,1017.37 L753.81,1016.7 L754.71,1016.02 L755.64,1015.32 L756.57,1014.62 L757.53,1013.91 L758.49,1013.2 L759.48,1012.47 L760.48,1011.74 L761.5,1011 L762.53,1010.26 L763.58,1009.51 L764.64,1008.75 L765.72,1007.98 L766.82,1007.21 L767.93,1006.43 L769.06,1005.64 L770.21,1004.85 L771.37,1004.06 L772.55,1003.25 L773.74,1002.45 L774.95,1001.63 L776.17,1000.82 L777.41,999.99 L778.67,999.17 L779.94,998.34 L781.23,997.5 L782.54,996.66 L783.86,995.82 L785.2,994.97 L786.55,994.12 L787.92,993.27 L789.3,992.42 L790.71,991.56 L792.12,990.7 L793.56,989.83 L795.01,988.97 L796.47,988.1 L797.95,987.23 L799.45,986.35 L800.96,985.48 L802.49,984.61 L804.04,983.73 L805.6,982.85 L807.18,981.97 L808.77,981.09 L810.38,980.22 L812,979.34 L813.65,978.46 L815.3,977.58 L816.98,976.7 L818.67,975.82 L820.37,974.94 L822.09,974.06 L823.83,973.18 L825.58,972.3 L827.35,971.43 L829.14,970.55 L830.94,969.68 L832.76,968.81 L834.59,967.94 L836.44,967.07 L838.31,966.2 L840.19,965.34 L842.09,964.48 L844,963.62 L845.93,962.76 L847.88,961.91 L849.84,961.06 L851.81,960.21 L853.81,959.36 L855.82,958.52 L857.84,957.68 L859.89,956.84 L861.94,956.01 L864.02,955.18 L866.11,954.36 L868.21,953.54 L870.33,952.72 L872.47,951.91 L874.63,951.1 L876.8,950.29 L878.98,949.49 L881.18,948.7 L883.4,947.91 L885.64,947.12 L887.89,946.34 L890.15,945.56 L892.43,944.79 L894.73,944.02 L897.05,943.26 L899.38,942.5 L901.72,941.75 L904.08,941 L906.46,940.26 L908.86,939.52 L911.27,938.79 L913.69,938.07 L916.13,937.35 L918.59,936.64 L921.07,935.93 L923.56,935.22 L926.06,934.53 L928.59,933.84 L931.12,933.15 L933.68,932.47 L936.25,931.8 L938.83,931.13 L941.44,930.47 L944.05,929.81 L946.69,929.16 L949.34,928.52 L952.01,927.88 L954.69,927.25 L957.39,926.63 L960.1,926.01 L962.83,925.4 L965.58,924.79 L968.34,924.19 L971.12,923.6 L973.91,923.01 L976.72,922.43 L979.55,921.85 L982.39,921.29 L985.25,920.72 L988.12,920.17 L991.02,919.62 L993.92,919.07 L996.84,918.54 L999.78,918.01 L1002.74,917.48 L1005.71,916.96 L1008.69,916.45 L1011.7,915.94 L1014.72,915.44 L1017.75,914.95 L1020.8,914.46 L1023.87,913.98 L1026.95,913.51 L1030.05,913.04 L1033.16,912.57 L1036.29,912.12 L1039.44,911.67 L1042.6,911.22 L1045.78,910.78 L1048.98,910.35 L1052.19,909.92 L1055.42,909.5 L1058.66,909.09 L1061.92,908.68 L1065.19,908.27 L1068.48,907.87 L1071.79,907.48 L1075.11,907.1 L1078.45,906.71 L1081.81,906.34 L1085.18,905.97 L1088.56,905.61 L1091.97,905.25 L1095.39,904.89 L1098.82,904.55 L1102.27,904.2 L1105.74,903.87 L1109.22,903.53 L1112.72,903.21 L1116.24,902.89 L1119.77,902.57 L1123.31,902.26 L1126.88,901.95 L1130.46,901.65 L1134.05,901.35 L1137.66,901.06 L1141.29,900.78 L1144.93,900.49 L1148.59,900.22 L1152.27,899.95 L1155.96,899.68 L1159.67,899.42 L1163.39,899.16 L1167.13,898.9 L1170.88,898.65 L1174.65,898.41 L1178.44,898.17 L1182.25,897.93 L1186.06,897.7 L1189.9,897.47" fill="none" stroke="#a92fb1" stroke-width="5.7" stroke-linecap="butt" stroke-linejoin="round"/>
<path d="M728.7,1037.2 L728.71,1037.15 L728.73,1037.02 L728.77,1036.79 L728.83,1036.48 L728.9,1036.07 L728.99,1035.58 L729.09,1035 L729.21,1034.33 L729.35,1033.57 L729.5,1032.72 L729.67,1031.79 L729.85,1030.77 L730.05,1029.67 L730.27,1028.48 L730.5,1027.22 L730.75,1025.87 L731.01,1024.44 L731.29,1022.93 L731.59,1021.35 L731.9,1019.69 L732.23,1017.95 L732.58,1016.15 L732.94,1014.27 L733.31,1012.32 L733.7,1010.3 L734.11,1008.22 L734.54,1006.07 L734.98,1003.86 L735.43,1001.59 L735.91,999.27 L736.39,996.88 L736.9,994.44 L737.42,991.95 L737.96,989.4 L738.51,986.81 L739.08,984.17 L739.66,981.49 L740.26,978.76 L740.88,975.99 L741.51,973.19 L742.16,970.35 L742.82,967.48 L743.5,964.57 L744.2,961.64 L744.91,958.68 L745.64,955.69 L746.39,952.68 L747.15,949.65 L747.92,946.61 L748.72,943.54 L749.53,940.46 L750.35,937.37 L751.19,934.28 L752.05,931.17 L752.92,928.05 L753.81,924.94 L754.71,921.82 L755.64,918.7 L756.57,915.58 L757.53,912.47 L758.49,909.36 L759.48,906.26 L760.48,903.17 L761.5,900.09 L762.53,897.02 L763.58,893.97 L764.64,890.93 L765.72,887.91 L766.82,884.91 L767.93,881.93 L769.06,878.97 L770.21,876.03 L771.37,873.12 L772.55,870.23 L773.74,867.37 L774.95,864.54 L776.17,861.74 L777.41,858.96 L778.67,856.22 L779.94,853.51 L781.23,850.83 L782.54,848.19 L783.86,845.58 L785.2,843 L786.55,840.47 L787.92,837.96 L789.3,835.5 L790.71,833.07 L792.12,830.68 L793.56,828.33 L795.01,826.01 L796.47,823.74 L797.95,821.5 L799.45,819.31 L800.96,817.15 L802.49,815.04 L804.04,812.96 L805.6,810.93 L807.18,808.93 L808.77,806.98 L810.38,805.06 L812,803.19 L813.65,801.36 L815.3,799.56 L816.98,797.81 L818.67,796.09 L820.37,794.42 L822.09,792.78 L823.83,791.19 L825.58,789.63 L827.35,788.11 L829.14,786.62 L830.94,785.18 L832.76,783.77 L834.59,782.4 L836.44,781.06 L838.31,779.76 L840.19,778.5 L842.09,777.27 L844,776.07 L845.93,774.91 L847.88,773.78 L849.84,772.69 L851.81,771.63 L853.81,770.59 L855.82,769.59 L857.84,768.62 L859.89,767.68 L861.94,766.77 L864.02,765.89 L866.11,765.03 L868.21,764.21 L870.33,763.41 L872.47,762.63 L874.63,761.88 L876.8,761.16 L878.98,760.46 L881.18,759.79 L883.4,759.14 L885.64,758.51 L887.89,757.9 L890.15,757.32 L892.43,756.76 L894.73,756.21 L897.05,755.69 L899.38,755.19 L901.72,754.7 L904.08,754.23 L906.46,753.79 L908.86,753.35 L911.27,752.94 L913.69,752.54 L916.13,752.16 L918.59,751.79 L921.07,751.44 L923.56,751.1 L926.06,750.78 L928.59,750.46 L931.12,750.17 L933.68,749.88 L936.25,749.61 L938.83,749.34 L941.44,749.09 L944.05,748.85 L946.69,748.62 L949.34,748.4 L952.01,748.19 L954.69,747.99 L957.39,747.8 L960.1,747.62 L962.83,747.44 L965.58,747.28 L968.34,747.12 L971.12,746.97 L973.91,746.82 L976.72,746.68 L979.55,746.55 L982.39,746.43 L985.25,746.31 L988.12,746.2 L991.02,746.09 L993.92,745.99 L996.84,745.89 L999.78,745.8 L1002.74,745.71 L1005.71,745.62 L1008.69,745.55 L1011.7,745.47 L1014.72,745.4 L1017.75,745.33 L1020.8,745.27 L1023.87,745.21 L1026.95,745.15 L1030.05,745.09 L1033.16,745.04 L1036.29,744.99 L1039.44,744.95 L1042.6,744.9 L1045.78,744.86 L1048.98,744.82 L1052.19,744.79 L1055.42,744.75 L1058.66,744.72 L1061.92,744.69 L1065.19,744.66 L1068.48,744.63 L1071.79,744.6 L1075.11,744.58 L1078.45,744.56 L1081.81,744.53 L1085.18,744.51 L1088.56,744.49 L1091.97,744.47 L1095.39,744.46 L1098.82,744.44 L1102.27,744.43 L1105.74,744.41 L1109.22,744.4 L1112.72,744.39 L1116.24,744.37 L1119.77,744.36 L1123.31,744.35 L1126.88,744.34 L1130.46,744.33 L1134.05,744.33 L1137.66,744.32 L1141.29,744.31 L1144.93,744.3 L1148.59,744.3 L1152.27,744.29 L1155.96,744.28 L1159.67,744.28 L1163.39,744.27 L1167.13,744.27 L1170.88,744.26 L1174.65,744.26 L1178.44,744.26 L1182.25,744.25 L1186.06,744.25 L1189.9,744.25" fill="none" stroke="#0b6b39" stroke-width="5.7" stroke-linecap="round" stroke-linejoin="round"/>
<line x1="740.23" y1="968.64" x2="740.23" y2="988.56" stroke="#080806" stroke-width="5.4" stroke-linecap="butt"/>
<line x1="734.08" y1="968.64" x2="746.38" y2="968.64" stroke="#080806" stroke-width="5.7" stroke-linecap="round"/>
<line x1="734.08" y1="988.56" x2="746.38" y2="988.56" stroke="#080806" stroke-width="5.7" stroke-linecap="round"/>
<line x1="751.76" y1="918.47" x2="751.76" y2="933.79" stroke="#080806" stroke-width="5.4" stroke-linecap="butt"/>
<line x1="745.61" y1="918.47" x2="757.91" y2="918.47" stroke="#080806" stroke-width="5.7" stroke-linecap="round"/>
<line x1="745.61" y1="933.79" x2="757.91" y2="933.79" stroke="#080806" stroke-width="5.7" stroke-linecap="round"/>
<line x1="774.82" y1="810.85" x2="774.82" y2="905.07" stroke="#080806" stroke-width="5.4" stroke-linecap="butt"/>
<line x1="768.67" y1="810.85" x2="780.97" y2="810.85" stroke="#080806" stroke-width="5.7" stroke-linecap="round"/>
<line x1="768.67" y1="905.07" x2="780.97" y2="905.07" stroke="#080806" stroke-width="5.7" stroke-linecap="round"/>
<line x1="844" y1="750.33" x2="844" y2="775.61" stroke="#080806" stroke-width="5.4" stroke-linecap="butt"/>
<line x1="837.85" y1="750.33" x2="850.15" y2="750.33" stroke="#080806" stroke-width="5.7" stroke-linecap="round"/>
<line x1="837.85" y1="775.61" x2="850.15" y2="775.61" stroke="#080806" stroke-width="5.7" stroke-linecap="round"/>
<line x1="959.3" y1="735.4" x2="959.3" y2="766.04" stroke="#080806" stroke-width="5.4" stroke-linecap="butt"/>
<line x1="953.15" y1="735.4" x2="965.45" y2="735.4" stroke="#080806" stroke-width="5.7" stroke-linecap="round"/>
<line x1="953.15" y1="766.04" x2="965.45" y2="766.04" stroke="#080806" stroke-width="5.7" stroke-linecap="round"/>
<line x1="1189.9" y1="737.69" x2="1189.9" y2="753.01" stroke="#080806" stroke-width="5.4" stroke-linecap="butt"/>
<line x1="1183.75" y1="737.69" x2="1196.05" y2="737.69" stroke="#080806" stroke-width="5.7" stroke-linecap="round"/>
<line x1="1183.75" y1="753.01" x2="1196.05" y2="753.01" stroke="#080806" stroke-width="5.7" stroke-linecap="round"/>
<line x1="959.3" y1="939.15" x2="959.3" y2="954.47" stroke="#080806" stroke-width="5.4" stroke-linecap="butt"/>
<line x1="953.15" y1="939.15" x2="965.45" y2="939.15" stroke="#080806" stroke-width="5.7" stroke-linecap="round"/>
<line x1="953.15" y1="954.47" x2="965.45" y2="954.47" stroke="#080806" stroke-width="5.7" stroke-linecap="round"/>
<line x1="1189.9" y1="915.79" x2="1189.9" y2="931.11" stroke="#080806" stroke-width="5.4" stroke-linecap="butt"/>
<line x1="1183.75" y1="915.79" x2="1196.05" y2="915.79" stroke="#080806" stroke-width="5.7" stroke-linecap="round"/>
<line x1="1183.75" y1="931.11" x2="1196.05" y2="931.11" stroke="#080806" stroke-width="5.7" stroke-linecap="round"/>
<line x1="1189.9" y1="874.43" x2="1189.9" y2="895.49" stroke="#080806" stroke-width="5.4" stroke-linecap="butt"/>
<line x1="1183.75" y1="874.43" x2="1196.05" y2="874.43" stroke="#080806" stroke-width="5.7" stroke-linecap="round"/>
<line x1="1183.75" y1="895.49" x2="1196.05" y2="895.49" stroke="#080806" stroke-width="5.7" stroke-linecap="round"/>
<circle cx="728.7" cy="1036.05" r="6.3" fill="#080806"/>
<circle cx="731.01" cy="1018.05" r="6.3" fill="#080806"/>
<circle cx="734.47" cy="1029.54" r="6.3" fill="#080806"/>
<circle cx="740.23" cy="978.6" r="6.3" fill="#080806"/>
<circle cx="751.76" cy="926.13" r="6.3" fill="#080806"/>
<circle cx="774.82" cy="857.96" r="6.3" fill="#080806"/>
<circle cx="844" cy="762.97" r="6.3" fill="#080806"/>
<circle cx="959.3" cy="750.72" r="6.3" fill="#080806"/>
<circle cx="1189.9" cy="745.35" r="6.3" fill="#080806"/>
<path d="M728.7,1030.48 L734.7,1042.72 L722.7,1042.72 Z" fill="#080806"/>
<path d="M731.01,1027.42 L737.01,1039.66 L725.01,1039.66 Z" fill="#080806"/>
<path d="M734.47,1024.74 L740.47,1036.98 L728.47,1036.98 Z" fill="#080806"/>
<path d="M740.23,1021.67 L746.23,1033.91 L734.23,1033.91 Z" fill="#080806"/>
<path d="M751.76,1017.84 L757.76,1030.08 L745.76,1030.08 Z" fill="#080806"/>
<path d="M774.82,1011.33 L780.82,1023.57 L768.82,1023.57 Z" fill="#080806"/>
<path d="M844,970.73 L850,982.97 L838,982.97 Z" fill="#080806"/>
<path d="M959.3,941.24 L965.3,953.48 L953.3,953.48 Z" fill="#080806"/>
<path d="M1189.9,917.5 L1195.9,929.74 L1183.9,929.74 Z" fill="#080806"/>
<path d="M728.7,1031 L734.9,1037.2 L728.7,1043.4 L722.5,1037.2 Z" fill="#080806"/>
<path d="M731.01,1027.17 L737.21,1033.37 L731.01,1039.57 L724.81,1033.37 Z" fill="#080806"/>
<path d="M734.47,1023.34 L740.67,1029.54 L734.47,1035.74 L728.26,1029.54 Z" fill="#080806"/>
<path d="M740.23,1019.51 L746.43,1025.71 L740.23,1031.91 L734.03,1025.71 Z" fill="#080806"/>
<path d="M751.76,1016.83 L757.96,1023.03 L751.76,1029.23 L745.56,1023.03 Z" fill="#080806"/>
<path d="M774.82,995.38 L781.02,1001.58 L774.82,1007.78 L768.62,1001.58 Z" fill="#080806"/>
<path d="M844,953.63 L850.2,959.83 L844,966.03 L837.8,959.83 Z" fill="#080806"/>
<path d="M959.3,922.99 L965.5,929.19 L959.3,935.39 L953.1,929.19 Z" fill="#080806"/>
<path d="M1189.9,888.14 L1196.1,894.34 L1189.9,900.54 L1183.7,894.34 Z" fill="#080806"/>
<text class="b" font-size="26.71" text-anchor="middle" transform="translate(960 1106.2) scale(0.9174 1)" stroke-width="0.51">t/s</text>
<text class="b" font-size="27.9" transform="translate(677 1012) rotate(-90) scale(0.9174 1)" stroke-width="0.54">Uba6~FAT10</text>
<text class="b" font-size="20.38" transform="translate(667.6 856) rotate(-90) scale(0.9174 1)" stroke-width="0.39">CF488A</text>
<text class="b" font-size="27.03" transform="translate(672.6 781.6) rotate(-90) scale(0.9174 1)" stroke-width="0.52">(nM)</text>
<text class="r pl" font-size="68.02" transform="translate(-1.6 1196.8) scale(1.0526 1)" stroke-width="0">c</text>
<text class="bi" font-size="35.7" transform="translate(109.6 1189.3) scale(0.9804 1)" textLength="528.26" lengthAdjust="spacingAndGlyphs" stroke-width="0.32">InsP6 dose response for E1~Ub</text>
<line x1="102.5" y1="1204.4" x2="628.5" y2="1204.4" stroke="#111" stroke-width="3.9" stroke-linecap="butt"/>
<rect x="91.7" y="1226.3" width="537.3" height="77" rx="38.5" ry="38.5" fill="#fff" stroke="#111" stroke-width="2.9"/>
<line x1="109.4" y1="1248.2" x2="140.6" y2="1248.2" stroke="#0b6b39" stroke-width="8.2" stroke-linecap="round"/>
<circle cx="124.7" cy="1248.2" r="5.6" fill="#080806"/>
<text class="r" font-size="24.9" transform="translate(159.5 1254.8)" stroke-width="0.42">Uba6_WT_Apo</text>
<line x1="375.3" y1="1248.2" x2="406.5" y2="1248.2" stroke="#0aa3d8" stroke-width="8.2" stroke-linecap="round"/>
<path d="M390.8,1241.7 L396.6,1253.54 L385,1253.54 Z" fill="#080806"/>
<text class="r" font-size="24.9" transform="translate(425.5 1254.8)" stroke-width="0.42">Uba1_WT_Apo</text>
<line x1="109.4" y1="1288.2" x2="140.6" y2="1288.2" stroke="#8f31b8" stroke-width="8.2" stroke-linecap="round"/>
<path d="M124.7,1294.7 L130.5,1282.86 L118.9,1282.86 Z" fill="#080806"/>
<text class="r" font-size="24.9" transform="translate(159.5 1294.8)" stroke-width="0.42">Uba6_InsP6mut_Apo</text>
<path d="M113.2,1419.99 L115.43,1419.99 L117.66,1419.99 L119.88,1419.99 L122.11,1420 L124.34,1420 L126.57,1420 L128.8,1420 L131.03,1420 L133.25,1420 L135.48,1420.01 L137.71,1420.01 L139.94,1420.01 L142.17,1420.01 L144.4,1420.02 L146.62,1420.02 L148.85,1420.02 L151.08,1420.03 L153.31,1420.03 L155.54,1420.03 L157.77,1420.04 L159.99,1420.05 L162.22,1420.05 L164.45,1420.06 L166.68,1420.06 L168.91,1420.07 L171.14,1420.08 L173.36,1420.09 L175.59,1420.1 L177.82,1420.11 L180.05,1420.12 L182.28,1420.13 L184.51,1420.15 L186.73,1420.16 L188.96,1420.18 L191.19,1420.19 L193.42,1420.21 L195.65,1420.23 L197.88,1420.26 L200.1,1420.28 L202.33,1420.31 L204.56,1420.33 L206.79,1420.37 L209.02,1420.4 L211.25,1420.44 L213.47,1420.48 L215.7,1420.52 L217.93,1420.57 L220.16,1420.62 L222.39,1420.67 L224.61,1420.73 L226.84,1420.8 L229.07,1420.87 L231.3,1420.95 L233.53,1421.03 L235.76,1421.12 L237.98,1421.22 L240.21,1421.32 L242.44,1421.44 L244.67,1421.56 L246.9,1421.69 L249.13,1421.83 L251.35,1421.99 L253.58,1422.15 L255.81,1422.33 L258.04,1422.53 L260.27,1422.73 L262.5,1422.95 L264.72,1423.19 L266.95,1423.44 L269.18,1423.71 L271.41,1424 L273.64,1424.31 L275.87,1424.63 L278.09,1424.98 L280.32,1425.35 L282.55,1425.73 L284.78,1426.14 L287.01,1426.57 L289.24,1427.02 L291.46,1427.49 L293.69,1427.98 L295.92,1428.5 L298.15,1429.03 L300.38,1429.58 L302.61,1430.15 L304.83,1430.73 L307.06,1431.33 L309.29,1431.94 L311.52,1432.56 L313.75,1433.19 L315.98,1433.83 L318.2,1434.47 L320.43,1435.12 L322.66,1435.76 L324.89,1436.41 L327.12,1437.04 L329.34,1437.68 L331.57,1438.3 L333.8,1438.91 L336.03,1439.51 L338.26,1440.09 L340.49,1440.66 L342.71,1441.21 L344.94,1441.74 L347.17,1442.25 L349.4,1442.75 L351.63,1443.22 L353.86,1443.67 L356.08,1444.1 L358.31,1444.5 L360.54,1444.89 L362.77,1445.26 L365,1445.6 L367.23,1445.93 L369.45,1446.24 L371.68,1446.52 L373.91,1446.79 L376.14,1447.05 L378.37,1447.28 L380.6,1447.5 L382.82,1447.71 L385.05,1447.9 L387.28,1448.08 L389.51,1448.25 L391.74,1448.4 L393.97,1448.54 L396.19,1448.68 L398.42,1448.8 L400.65,1448.91 L402.88,1449.02 L405.11,1449.12 L407.34,1449.21 L409.56,1449.29 L411.79,1449.37 L414.02,1449.44 L416.25,1449.5 L418.48,1449.56 L420.71,1449.62 L422.93,1449.67 L425.16,1449.72 L427.39,1449.76 L429.62,1449.8 L431.85,1449.84 L434.07,1449.87 L436.3,1449.9 L438.53,1449.93 L440.76,1449.96 L442.99,1449.98 L445.22,1450 L447.44,1450.02 L449.67,1450.04 L451.9,1450.06 L454.13,1450.08 L456.36,1450.09 L458.59,1450.1 L460.81,1450.12 L463.04,1450.13 L465.27,1450.14 L467.5,1450.15 L469.73,1450.16 L471.96,1450.16 L474.18,1450.17 L476.41,1450.18 L478.64,1450.19 L480.87,1450.19 L483.1,1450.2 L485.33,1450.2 L487.55,1450.21 L489.78,1450.21 L492.01,1450.21 L494.24,1450.22 L496.47,1450.22 L498.7,1450.22 L500.92,1450.23 L503.15,1450.23 L505.38,1450.23 L507.61,1450.23 L509.84,1450.23 L512.07,1450.24 L514.29,1450.24 L516.52,1450.24 L518.75,1450.24 L520.98,1450.24 L523.21,1450.24 L525.43,1450.24 L527.66,1450.25 L529.89,1450.25 L532.12,1450.25 L534.35,1450.25 L536.58,1450.25 L538.8,1450.25 L541.03,1450.25 L543.26,1450.25 L545.49,1450.25 L547.72,1450.25 L549.95,1450.25 L552.17,1450.25 L554.4,1450.25 L556.63,1450.25 L558.86,1450.25" fill="none" stroke="#0aa3d8" stroke-width="5.8" stroke-linecap="round" stroke-linejoin="round"/>
<path d="M113.2,1433.07 L115.43,1433.07 L117.66,1433.07 L119.88,1433.07 L122.11,1433.08 L124.34,1433.08 L126.57,1433.08 L128.8,1433.09 L131.03,1433.09 L133.25,1433.09 L135.48,1433.1 L137.71,1433.1 L139.94,1433.11 L142.17,1433.11 L144.4,1433.12 L146.62,1433.13 L148.85,1433.13 L151.08,1433.14 L153.31,1433.15 L155.54,1433.15 L157.77,1433.16 L159.99,1433.17 L162.22,1433.18 L164.45,1433.19 L166.68,1433.2 L168.91,1433.21 L171.14,1433.22 L173.36,1433.24 L175.59,1433.25 L177.82,1433.26 L180.05,1433.28 L182.28,1433.29 L184.51,1433.31 L186.73,1433.33 L188.96,1433.35 L191.19,1433.37 L193.42,1433.39 L195.65,1433.41 L197.88,1433.44 L200.1,1433.46 L202.33,1433.49 L204.56,1433.52 L206.79,1433.55 L209.02,1433.58 L211.25,1433.61 L213.47,1433.65 L215.7,1433.69 L217.93,1433.73 L220.16,1433.77 L222.39,1433.81 L224.61,1433.85 L226.84,1433.9 L229.07,1433.95 L231.3,1434 L233.53,1434.06 L235.76,1434.11 L237.98,1434.17 L240.21,1434.23 L242.44,1434.3 L244.67,1434.36 L246.9,1434.43 L249.13,1434.5 L251.35,1434.58 L253.58,1434.65 L255.81,1434.73 L258.04,1434.81 L260.27,1434.89 L262.5,1434.97 L264.72,1435.06 L266.95,1435.15 L269.18,1435.23 L271.41,1435.32 L273.64,1435.42 L275.87,1435.51 L278.09,1435.6 L280.32,1435.69 L282.55,1435.79 L284.78,1435.88 L287.01,1435.98 L289.24,1436.07 L291.46,1436.16 L293.69,1436.26 L295.92,1436.35 L298.15,1436.44 L300.38,1436.53 L302.61,1436.62 L304.83,1436.71 L307.06,1436.79 L309.29,1436.88 L311.52,1436.96 L313.75,1437.04 L315.98,1437.12 L318.2,1437.19 L320.43,1437.27 L322.66,1437.34 L324.89,1437.41 L327.12,1437.48 L329.34,1437.54 L331.57,1437.6 L333.8,1437.66 L336.03,1437.72 L338.26,1437.78 L340.49,1437.83 L342.71,1437.88 L344.94,1437.93 L347.17,1437.97 L349.4,1438.02 L351.63,1438.06 L353.86,1438.1 L356.08,1438.14 L358.31,1438.17 L360.54,1438.21 L362.77,1438.24 L365,1438.27 L367.23,1438.3 L369.45,1438.33 L371.68,1438.35 L373.91,1438.38 L376.14,1438.4 L378.37,1438.42 L380.6,1438.45 L382.82,1438.46 L385.05,1438.48 L387.28,1438.5 L389.51,1438.52 L391.74,1438.53 L393.97,1438.55 L396.19,1438.56 L398.42,1438.57 L400.65,1438.59 L402.88,1438.6 L405.11,1438.61 L407.34,1438.62 L409.56,1438.63 L411.79,1438.64 L414.02,1438.65 L416.25,1438.65 L418.48,1438.66 L420.71,1438.67 L422.93,1438.67 L425.16,1438.68 L427.39,1438.69 L429.62,1438.69 L431.85,1438.7 L434.07,1438.7 L436.3,1438.71 L438.53,1438.71 L440.76,1438.71 L442.99,1438.72 L445.22,1438.72 L447.44,1438.72 L449.67,1438.73 L451.9,1438.73 L454.13,1438.73 L456.36,1438.74 L458.59,1438.74 L460.81,1438.74 L463.04,1438.74 L465.27,1438.74 L467.5,1438.75 L469.73,1438.75 L471.96,1438.75 L474.18,1438.75 L476.41,1438.75 L478.64,1438.75 L480.87,1438.75 L483.1,1438.76 L485.33,1438.76 L487.55,1438.76 L489.78,1438.76 L492.01,1438.76 L494.24,1438.76 L496.47,1438.76 L498.7,1438.76 L500.92,1438.76 L503.15,1438.76 L505.38,1438.76 L507.61,1438.76 L509.84,1438.76 L512.07,1438.76 L514.29,1438.77 L516.52,1438.77 L518.75,1438.77 L520.98,1438.77 L523.21,1438.77 L525.43,1438.77 L527.66,1438.77 L529.89,1438.77 L532.12,1438.77 L534.35,1438.77 L536.58,1438.77 L538.8,1438.77 L541.03,1438.77 L543.26,1438.77 L545.49,1438.77 L547.72,1438.77 L549.95,1438.77 L552.17,1438.77 L554.4,1438.77 L556.63,1438.77 L558.86,1438.77" fill="none" stroke="#8f31b8" stroke-width="5.8" stroke-linecap="round" stroke-linejoin="round"/>
<path d="M113.2,1431.16 L115.43,1431.17 L117.66,1431.19 L119.88,1431.21 L122.11,1431.23 L124.34,1431.25 L126.57,1431.27 L128.8,1431.29 L131.03,1431.32 L133.25,1431.34 L135.48,1431.37 L137.71,1431.4 L139.94,1431.44 L142.17,1431.47 L144.4,1431.51 L146.62,1431.55 L148.85,1431.59 L151.08,1431.64 L153.31,1431.69 L155.54,1431.74 L157.77,1431.8 L159.99,1431.86 L162.22,1431.92 L164.45,1431.99 L166.68,1432.07 L168.91,1432.15 L171.14,1432.23 L173.36,1432.32 L175.59,1432.42 L177.82,1432.53 L180.05,1432.64 L182.28,1432.76 L184.51,1432.89 L186.73,1433.02 L188.96,1433.17 L191.19,1433.33 L193.42,1433.49 L195.65,1433.67 L197.88,1433.86 L200.1,1434.07 L202.33,1434.28 L204.56,1434.52 L206.79,1434.76 L209.02,1435.03 L211.25,1435.31 L213.47,1435.62 L215.7,1435.94 L217.93,1436.28 L220.16,1436.65 L222.39,1437.04 L224.61,1437.46 L226.84,1437.9 L229.07,1438.37 L231.3,1438.87 L233.53,1439.41 L235.76,1439.97 L237.98,1440.58 L240.21,1441.22 L242.44,1441.9 L244.67,1442.62 L246.9,1443.39 L249.13,1444.2 L251.35,1445.05 L253.58,1445.96 L255.81,1446.92 L258.04,1447.93 L260.27,1449 L262.5,1450.12 L264.72,1451.31 L266.95,1452.56 L269.18,1453.86 L271.41,1455.24 L273.64,1456.68 L275.87,1458.19 L278.09,1459.76 L280.32,1461.4 L282.55,1463.12 L284.78,1464.9 L287.01,1466.75 L289.24,1468.67 L291.46,1470.66 L293.69,1472.72 L295.92,1474.84 L298.15,1477.02 L300.38,1479.26 L302.61,1481.56 L304.83,1483.91 L307.06,1486.32 L309.29,1488.77 L311.52,1491.26 L313.75,1493.78 L315.98,1496.34 L318.2,1498.92 L320.43,1501.52 L322.66,1504.13 L324.89,1506.75 L327.12,1509.37 L329.34,1511.98 L331.57,1514.59 L333.8,1517.17 L336.03,1519.73 L338.26,1522.26 L340.49,1524.76 L342.71,1527.22 L344.94,1529.63 L347.17,1532 L349.4,1534.31 L351.63,1536.56 L353.86,1538.76 L356.08,1540.89 L358.31,1542.96 L360.54,1544.96 L362.77,1546.9 L365,1548.76 L367.23,1550.56 L369.45,1552.29 L371.68,1553.95 L373.91,1555.54 L376.14,1557.06 L378.37,1558.51 L380.6,1559.9 L382.82,1561.22 L385.05,1562.48 L387.28,1563.68 L389.51,1564.82 L391.74,1565.9 L393.97,1566.92 L396.19,1567.89 L398.42,1568.81 L400.65,1569.68 L402.88,1570.5 L405.11,1571.27 L407.34,1572 L409.56,1572.69 L411.79,1573.34 L414.02,1573.95 L416.25,1574.52 L418.48,1575.07 L420.71,1575.57 L422.93,1576.05 L425.16,1576.5 L427.39,1576.92 L429.62,1577.32 L431.85,1577.69 L434.07,1578.04 L436.3,1578.37 L438.53,1578.67 L440.76,1578.96 L442.99,1579.23 L445.22,1579.48 L447.44,1579.72 L449.67,1579.94 L451.9,1580.14 L454.13,1580.34 L456.36,1580.52 L458.59,1580.69 L460.81,1580.85 L463.04,1580.99 L465.27,1581.13 L467.5,1581.26 L469.73,1581.38 L471.96,1581.5 L474.18,1581.6 L476.41,1581.7 L478.64,1581.8 L480.87,1581.88 L483.1,1581.96 L485.33,1582.04 L487.55,1582.11 L489.78,1582.17 L492.01,1582.24 L494.24,1582.29 L496.47,1582.35 L498.7,1582.4 L500.92,1582.44 L503.15,1582.49 L505.38,1582.53 L507.61,1582.57 L509.84,1582.6 L512.07,1582.64 L514.29,1582.67 L516.52,1582.7 L518.75,1582.72 L520.98,1582.75 L523.21,1582.77 L525.43,1582.79 L527.66,1582.82 L529.89,1582.83 L532.12,1582.85 L534.35,1582.87 L536.58,1582.88 L538.8,1582.9 L541.03,1582.91 L543.26,1582.93 L545.49,1582.94 L547.72,1582.95 L549.95,1582.96 L552.17,1582.97 L554.4,1582.98 L556.63,1582.99 L558.86,1582.99" fill="none" stroke="#0b6b39" stroke-width="5.8" stroke-linecap="round" stroke-linejoin="round"/>
<line x1="113.2" y1="1370" x2="113.2" y2="1696.4" stroke="#080806" stroke-width="5.6" stroke-linecap="butt"/>
<line x1="103.2" y1="1686.2" x2="585.2" y2="1686.2" stroke="#080806" stroke-width="5.6" stroke-linecap="butt"/>
<line x1="113.2" y1="1686.2" x2="113.2" y2="1696.4" stroke="#080806" stroke-width="5.6" stroke-linecap="butt"/>
<line x1="191.4" y1="1686.2" x2="191.4" y2="1696.4" stroke="#080806" stroke-width="5.6" stroke-linecap="butt"/>
<line x1="269.6" y1="1686.2" x2="269.6" y2="1696.4" stroke="#080806" stroke-width="5.6" stroke-linecap="butt"/>
<line x1="347.8" y1="1686.2" x2="347.8" y2="1696.4" stroke="#080806" stroke-width="5.6" stroke-linecap="butt"/>
<line x1="426" y1="1686.2" x2="426" y2="1696.4" stroke="#080806" stroke-width="5.6" stroke-linecap="butt"/>
<line x1="504.2" y1="1686.2" x2="504.2" y2="1696.4" stroke="#080806" stroke-width="5.6" stroke-linecap="butt"/>
<line x1="582.4" y1="1686.2" x2="582.4" y2="1696.4" stroke="#080806" stroke-width="5.6" stroke-linecap="butt"/>
<line x1="103.2" y1="1686.2" x2="113.2" y2="1686.2" stroke="#080806" stroke-width="5.6" stroke-linecap="butt"/>
<line x1="103.2" y1="1634" x2="113.2" y2="1634" stroke="#080806" stroke-width="5.6" stroke-linecap="butt"/>
<line x1="103.2" y1="1581.8" x2="113.2" y2="1581.8" stroke="#080806" stroke-width="5.6" stroke-linecap="butt"/>
<line x1="103.2" y1="1529.6" x2="113.2" y2="1529.6" stroke="#080806" stroke-width="5.6" stroke-linecap="butt"/>
<line x1="103.2" y1="1477.4" x2="113.2" y2="1477.4" stroke="#080806" stroke-width="5.6" stroke-linecap="butt"/>
<line x1="103.2" y1="1425.2" x2="113.2" y2="1425.2" stroke="#080806" stroke-width="5.6" stroke-linecap="butt"/>
<line x1="103.2" y1="1372.8" x2="113.2" y2="1372.8" stroke="#080806" stroke-width="5.6" stroke-linecap="butt"/>
<text class="r" font-size="22.5" text-anchor="end" transform="translate(101.7 1694.2)" stroke-width="0.38">0</text>
<text class="r" font-size="22.5" text-anchor="end" transform="translate(101.7 1642)" stroke-width="0.38">20</text>
<text class="r" font-size="22.5" text-anchor="end" transform="translate(101.7 1589.8)" stroke-width="0.38">40</text>
<text class="r" font-size="22.5" text-anchor="end" transform="translate(101.7 1537.6)" stroke-width="0.38">60</text>
<text class="r" font-size="22.5" text-anchor="end" transform="translate(101.7 1485.4)" stroke-width="0.38">80</text>
<text class="r" font-size="22.5" text-anchor="end" transform="translate(101.7 1433.2)" stroke-width="0.38">100</text>
<text class="r" font-size="22.5" text-anchor="end" transform="translate(101.7 1381)" stroke-width="0.38">120</text>
<text class="r" font-size="23.5" transform="translate(86.65 1723.5)" stroke-width="0.4">10</text>
<text class="r" font-size="16.5" transform="translate(113.15 1713.7)" stroke-width="0.28">-10</text>
<text class="r" font-size="23.5" transform="translate(170.8 1723.5)" stroke-width="0.4">10</text>
<text class="r" font-size="16.5" transform="translate(197.3 1713.7)" stroke-width="0.28">-9</text>
<text class="r" font-size="23.5" transform="translate(249 1723.5)" stroke-width="0.4">10</text>
<text class="r" font-size="16.5" transform="translate(275.5 1713.7)" stroke-width="0.28">-8</text>
<text class="r" font-size="23.5" transform="translate(327.2 1723.5)" stroke-width="0.4">10</text>
<text class="r" font-size="16.5" transform="translate(353.7 1713.7)" stroke-width="0.28">-7</text>
<text class="r" font-size="23.5" transform="translate(405.4 1723.5)" stroke-width="0.4">10</text>
<text class="r" font-size="16.5" transform="translate(431.9 1713.7)" stroke-width="0.28">-6</text>
<text class="r" font-size="23.5" transform="translate(483.6 1723.5)" stroke-width="0.4">10</text>
<text class="r" font-size="16.5" transform="translate(510.1 1713.7)" stroke-width="0.28">-5</text>
<text class="r" font-size="23.5" transform="translate(561.8 1723.5)" stroke-width="0.4">10</text>
<text class="r" font-size="16.5" transform="translate(588.3 1713.7)" stroke-width="0.28">-4</text>
<line x1="191.4" y1="1382.13" x2="191.4" y2="1454.17" stroke="#080806" stroke-width="5.4" stroke-linecap="butt"/>
<line x1="185.25" y1="1382.13" x2="197.55" y2="1382.13" stroke="#080806" stroke-width="5.7" stroke-linecap="round"/>
<line x1="185.25" y1="1454.17" x2="197.55" y2="1454.17" stroke="#080806" stroke-width="5.7" stroke-linecap="round"/>
<line x1="191.4" y1="1428.59" x2="191.4" y2="1454.17" stroke="#080806" stroke-width="5.4" stroke-linecap="butt"/>
<line x1="185.25" y1="1428.59" x2="197.55" y2="1428.59" stroke="#080806" stroke-width="5.7" stroke-linecap="round"/>
<line x1="185.25" y1="1454.17" x2="197.55" y2="1454.17" stroke="#080806" stroke-width="5.7" stroke-linecap="round"/>
<line x1="191.4" y1="1434.86" x2="191.4" y2="1457.3" stroke="#080806" stroke-width="5.4" stroke-linecap="butt"/>
<line x1="185.25" y1="1434.86" x2="197.55" y2="1434.86" stroke="#080806" stroke-width="5.7" stroke-linecap="round"/>
<line x1="185.25" y1="1457.3" x2="197.55" y2="1457.3" stroke="#080806" stroke-width="5.7" stroke-linecap="round"/>
<line x1="246.06" y1="1375.61" x2="246.06" y2="1460.43" stroke="#080806" stroke-width="5.4" stroke-linecap="butt"/>
<line x1="239.91" y1="1375.61" x2="252.21" y2="1375.61" stroke="#080806" stroke-width="5.7" stroke-linecap="round"/>
<line x1="239.91" y1="1460.43" x2="252.21" y2="1460.43" stroke="#080806" stroke-width="5.7" stroke-linecap="round"/>
<line x1="246.06" y1="1422.59" x2="246.06" y2="1464.87" stroke="#080806" stroke-width="5.4" stroke-linecap="butt"/>
<line x1="239.91" y1="1422.59" x2="252.21" y2="1422.59" stroke="#080806" stroke-width="5.7" stroke-linecap="round"/>
<line x1="239.91" y1="1464.87" x2="252.21" y2="1464.87" stroke="#080806" stroke-width="5.7" stroke-linecap="round"/>
<line x1="246.06" y1="1428.59" x2="246.06" y2="1441.64" stroke="#080806" stroke-width="5.4" stroke-linecap="butt"/>
<line x1="239.91" y1="1428.59" x2="252.21" y2="1428.59" stroke="#080806" stroke-width="5.7" stroke-linecap="round"/>
<line x1="239.91" y1="1441.64" x2="252.21" y2="1441.64" stroke="#080806" stroke-width="5.7" stroke-linecap="round"/>
<line x1="269.6" y1="1398.58" x2="269.6" y2="1453.13" stroke="#080806" stroke-width="5.4" stroke-linecap="butt"/>
<line x1="263.45" y1="1398.58" x2="275.75" y2="1398.58" stroke="#080806" stroke-width="5.7" stroke-linecap="round"/>
<line x1="263.45" y1="1453.13" x2="275.75" y2="1453.13" stroke="#080806" stroke-width="5.7" stroke-linecap="round"/>
<line x1="269.6" y1="1435.9" x2="269.6" y2="1445.82" stroke="#080806" stroke-width="5.4" stroke-linecap="butt"/>
<line x1="263.45" y1="1435.9" x2="275.75" y2="1435.9" stroke="#080806" stroke-width="5.7" stroke-linecap="round"/>
<line x1="263.45" y1="1445.82" x2="275.75" y2="1445.82" stroke="#080806" stroke-width="5.7" stroke-linecap="round"/>
<line x1="269.6" y1="1450" x2="269.6" y2="1472.96" stroke="#080806" stroke-width="5.4" stroke-linecap="butt"/>
<line x1="263.45" y1="1450" x2="275.75" y2="1450" stroke="#080806" stroke-width="5.7" stroke-linecap="round"/>
<line x1="263.45" y1="1472.96" x2="275.75" y2="1472.96" stroke="#080806" stroke-width="5.7" stroke-linecap="round"/>
<line x1="300.72" y1="1393.36" x2="300.72" y2="1468.53" stroke="#080806" stroke-width="5.4" stroke-linecap="butt"/>
<line x1="294.57" y1="1393.36" x2="306.87" y2="1393.36" stroke="#080806" stroke-width="5.7" stroke-linecap="round"/>
<line x1="294.57" y1="1468.53" x2="306.87" y2="1468.53" stroke="#080806" stroke-width="5.7" stroke-linecap="round"/>
<line x1="300.72" y1="1417.37" x2="300.72" y2="1446.08" stroke="#080806" stroke-width="5.4" stroke-linecap="butt"/>
<line x1="294.57" y1="1417.37" x2="306.87" y2="1417.37" stroke="#080806" stroke-width="5.7" stroke-linecap="round"/>
<line x1="294.57" y1="1446.08" x2="306.87" y2="1446.08" stroke="#080806" stroke-width="5.7" stroke-linecap="round"/>
<line x1="300.72" y1="1446.08" x2="300.72" y2="1468.53" stroke="#080806" stroke-width="5.4" stroke-linecap="butt"/>
<line x1="294.57" y1="1446.08" x2="306.87" y2="1446.08" stroke="#080806" stroke-width="5.7" stroke-linecap="round"/>
<line x1="294.57" y1="1468.53" x2="306.87" y2="1468.53" stroke="#080806" stroke-width="5.7" stroke-linecap="round"/>
<line x1="324.26" y1="1385.01" x2="324.26" y2="1474.01" stroke="#080806" stroke-width="5.4" stroke-linecap="butt"/>
<line x1="318.11" y1="1385.01" x2="330.41" y2="1385.01" stroke="#080806" stroke-width="5.7" stroke-linecap="round"/>
<line x1="318.11" y1="1474.01" x2="330.41" y2="1474.01" stroke="#080806" stroke-width="5.7" stroke-linecap="round"/>
<line x1="324.26" y1="1412.93" x2="324.26" y2="1440.34" stroke="#080806" stroke-width="5.4" stroke-linecap="butt"/>
<line x1="318.11" y1="1412.93" x2="330.41" y2="1412.93" stroke="#080806" stroke-width="5.7" stroke-linecap="round"/>
<line x1="318.11" y1="1440.34" x2="330.41" y2="1440.34" stroke="#080806" stroke-width="5.7" stroke-linecap="round"/>
<line x1="324.26" y1="1492.28" x2="324.26" y2="1507.94" stroke="#080806" stroke-width="5.4" stroke-linecap="butt"/>
<line x1="318.11" y1="1492.28" x2="330.41" y2="1492.28" stroke="#080806" stroke-width="5.7" stroke-linecap="round"/>
<line x1="318.11" y1="1507.94" x2="330.41" y2="1507.94" stroke="#080806" stroke-width="5.7" stroke-linecap="round"/>
<line x1="347.8" y1="1406.15" x2="347.8" y2="1484.45" stroke="#080806" stroke-width="5.4" stroke-linecap="butt"/>
<line x1="341.65" y1="1406.15" x2="353.95" y2="1406.15" stroke="#080806" stroke-width="5.7" stroke-linecap="round"/>
<line x1="341.65" y1="1484.45" x2="353.95" y2="1484.45" stroke="#080806" stroke-width="5.7" stroke-linecap="round"/>
<line x1="347.8" y1="1437.21" x2="347.8" y2="1453.91" stroke="#080806" stroke-width="5.4" stroke-linecap="butt"/>
<line x1="341.65" y1="1437.21" x2="353.95" y2="1437.21" stroke="#080806" stroke-width="5.7" stroke-linecap="round"/>
<line x1="341.65" y1="1453.91" x2="353.95" y2="1453.91" stroke="#080806" stroke-width="5.7" stroke-linecap="round"/>
<line x1="347.8" y1="1534.04" x2="347.8" y2="1558.83" stroke="#080806" stroke-width="5.4" stroke-linecap="butt"/>
<line x1="341.65" y1="1534.04" x2="353.95" y2="1534.04" stroke="#080806" stroke-width="5.7" stroke-linecap="round"/>
<line x1="341.65" y1="1558.83" x2="353.95" y2="1558.83" stroke="#080806" stroke-width="5.7" stroke-linecap="round"/>
<line x1="378.92" y1="1412.67" x2="378.92" y2="1483.14" stroke="#080806" stroke-width="5.4" stroke-linecap="butt"/>
<line x1="372.77" y1="1412.67" x2="385.07" y2="1412.67" stroke="#080806" stroke-width="5.7" stroke-linecap="round"/>
<line x1="372.77" y1="1483.14" x2="385.07" y2="1483.14" stroke="#080806" stroke-width="5.7" stroke-linecap="round"/>
<line x1="378.92" y1="1430.42" x2="378.92" y2="1464.87" stroke="#080806" stroke-width="5.4" stroke-linecap="butt"/>
<line x1="372.77" y1="1430.42" x2="385.07" y2="1430.42" stroke="#080806" stroke-width="5.7" stroke-linecap="round"/>
<line x1="372.77" y1="1464.87" x2="385.07" y2="1464.87" stroke="#080806" stroke-width="5.7" stroke-linecap="round"/>
<line x1="402.46" y1="1406.93" x2="402.46" y2="1495.67" stroke="#080806" stroke-width="5.4" stroke-linecap="butt"/>
<line x1="396.31" y1="1406.93" x2="408.61" y2="1406.93" stroke="#080806" stroke-width="5.7" stroke-linecap="round"/>
<line x1="396.31" y1="1495.67" x2="408.61" y2="1495.67" stroke="#080806" stroke-width="5.7" stroke-linecap="round"/>
<line x1="402.46" y1="1404.84" x2="402.46" y2="1453.13" stroke="#080806" stroke-width="5.4" stroke-linecap="butt"/>
<line x1="396.31" y1="1404.84" x2="408.61" y2="1404.84" stroke="#080806" stroke-width="5.7" stroke-linecap="round"/>
<line x1="396.31" y1="1453.13" x2="408.61" y2="1453.13" stroke="#080806" stroke-width="5.7" stroke-linecap="round"/>
<line x1="402.46" y1="1562.75" x2="402.46" y2="1582.32" stroke="#080806" stroke-width="5.4" stroke-linecap="butt"/>
<line x1="396.31" y1="1562.75" x2="408.61" y2="1562.75" stroke="#080806" stroke-width="5.7" stroke-linecap="round"/>
<line x1="396.31" y1="1582.32" x2="408.61" y2="1582.32" stroke="#080806" stroke-width="5.7" stroke-linecap="round"/>
<line x1="426" y1="1419.98" x2="426" y2="1495.67" stroke="#080806" stroke-width="5.4" stroke-linecap="butt"/>
<line x1="419.85" y1="1419.98" x2="432.15" y2="1419.98" stroke="#080806" stroke-width="5.7" stroke-linecap="round"/>
<line x1="419.85" y1="1495.67" x2="432.15" y2="1495.67" stroke="#080806" stroke-width="5.7" stroke-linecap="round"/>
<line x1="426" y1="1416.59" x2="426" y2="1460.7" stroke="#080806" stroke-width="5.4" stroke-linecap="butt"/>
<line x1="419.85" y1="1416.59" x2="432.15" y2="1416.59" stroke="#080806" stroke-width="5.7" stroke-linecap="round"/>
<line x1="419.85" y1="1460.7" x2="432.15" y2="1460.7" stroke="#080806" stroke-width="5.7" stroke-linecap="round"/>
<line x1="426" y1="1560.14" x2="426" y2="1587.54" stroke="#080806" stroke-width="5.4" stroke-linecap="butt"/>
<line x1="419.85" y1="1560.14" x2="432.15" y2="1560.14" stroke="#080806" stroke-width="5.7" stroke-linecap="round"/>
<line x1="419.85" y1="1587.54" x2="432.15" y2="1587.54" stroke="#080806" stroke-width="5.7" stroke-linecap="round"/>
<line x1="480.66" y1="1417.37" x2="480.66" y2="1472.7" stroke="#080806" stroke-width="5.4" stroke-linecap="butt"/>
<line x1="474.51" y1="1417.37" x2="486.81" y2="1417.37" stroke="#080806" stroke-width="5.7" stroke-linecap="round"/>
<line x1="474.51" y1="1472.7" x2="486.81" y2="1472.7" stroke="#080806" stroke-width="5.7" stroke-linecap="round"/>
<line x1="480.66" y1="1438.77" x2="480.66" y2="1466.7" stroke="#080806" stroke-width="5.4" stroke-linecap="butt"/>
<line x1="474.51" y1="1438.77" x2="486.81" y2="1438.77" stroke="#080806" stroke-width="5.7" stroke-linecap="round"/>
<line x1="474.51" y1="1466.7" x2="486.81" y2="1466.7" stroke="#080806" stroke-width="5.7" stroke-linecap="round"/>
<line x1="480.66" y1="1564.57" x2="480.66" y2="1584.93" stroke="#080806" stroke-width="5.4" stroke-linecap="butt"/>
<line x1="474.51" y1="1564.57" x2="486.81" y2="1564.57" stroke="#080806" stroke-width="5.7" stroke-linecap="round"/>
<line x1="474.51" y1="1584.93" x2="486.81" y2="1584.93" stroke="#080806" stroke-width="5.7" stroke-linecap="round"/>
<line x1="504.2" y1="1416.59" x2="504.2" y2="1474.79" stroke="#080806" stroke-width="5.4" stroke-linecap="butt"/>
<line x1="498.05" y1="1416.59" x2="510.35" y2="1416.59" stroke="#080806" stroke-width="5.7" stroke-linecap="round"/>
<line x1="498.05" y1="1474.79" x2="510.35" y2="1474.79" stroke="#080806" stroke-width="5.7" stroke-linecap="round"/>
<line x1="504.2" y1="1413.45" x2="504.2" y2="1470.35" stroke="#080806" stroke-width="5.4" stroke-linecap="butt"/>
<line x1="498.05" y1="1413.45" x2="510.35" y2="1413.45" stroke="#080806" stroke-width="5.7" stroke-linecap="round"/>
<line x1="498.05" y1="1470.35" x2="510.35" y2="1470.35" stroke="#080806" stroke-width="5.7" stroke-linecap="round"/>
<line x1="504.2" y1="1560.92" x2="504.2" y2="1595.37" stroke="#080806" stroke-width="5.4" stroke-linecap="butt"/>
<line x1="498.05" y1="1560.92" x2="510.35" y2="1560.92" stroke="#080806" stroke-width="5.7" stroke-linecap="round"/>
<line x1="498.05" y1="1595.37" x2="510.35" y2="1595.37" stroke="#080806" stroke-width="5.7" stroke-linecap="round"/>
<line x1="558.86" y1="1428.33" x2="558.86" y2="1468.79" stroke="#080806" stroke-width="5.4" stroke-linecap="butt"/>
<line x1="552.71" y1="1428.33" x2="565.01" y2="1428.33" stroke="#080806" stroke-width="5.7" stroke-linecap="round"/>
<line x1="552.71" y1="1468.79" x2="565.01" y2="1468.79" stroke="#080806" stroke-width="5.7" stroke-linecap="round"/>
<line x1="558.86" y1="1394.92" x2="558.86" y2="1439.82" stroke="#080806" stroke-width="5.4" stroke-linecap="butt"/>
<line x1="552.71" y1="1394.92" x2="565.01" y2="1394.92" stroke="#080806" stroke-width="5.7" stroke-linecap="round"/>
<line x1="552.71" y1="1439.82" x2="565.01" y2="1439.82" stroke="#080806" stroke-width="5.7" stroke-linecap="round"/>
<line x1="558.86" y1="1571.36" x2="558.86" y2="1588.06" stroke="#080806" stroke-width="5.4" stroke-linecap="butt"/>
<line x1="552.71" y1="1571.36" x2="565.01" y2="1571.36" stroke="#080806" stroke-width="5.7" stroke-linecap="round"/>
<line x1="552.71" y1="1588.06" x2="565.01" y2="1588.06" stroke="#080806" stroke-width="5.7" stroke-linecap="round"/>
<path d="M113.2,1418.14 L119.5,1431 L106.9,1431 Z" fill="#080806"/>
<path d="M113.2,1432.26 L119.5,1419.4 L106.9,1419.4 Z" fill="#080806"/>
<circle cx="113.2" cy="1425.2" r="6" fill="#080806"/>
<path d="M191.4,1416.32 L197.7,1429.17 L185.1,1429.17 Z" fill="#080806"/>
<path d="M191.4,1448.44 L197.7,1435.59 L185.1,1435.59 Z" fill="#080806"/>
<circle cx="191.4" cy="1444.78" r="6" fill="#080806"/>
<path d="M246.06,1419.45 L252.36,1432.3 L239.76,1432.3 Z" fill="#080806"/>
<path d="M246.06,1450.79 L252.36,1437.93 L239.76,1437.93 Z" fill="#080806"/>
<circle cx="246.06" cy="1435.12" r="6" fill="#080806"/>
<path d="M269.6,1420.23 L275.9,1433.08 L263.3,1433.08 Z" fill="#080806"/>
<path d="M269.6,1447.92 L275.9,1435.06 L263.3,1435.06 Z" fill="#080806"/>
<circle cx="269.6" cy="1462.78" r="6" fill="#080806"/>
<path d="M300.72,1424.41 L307.02,1437.26 L294.42,1437.26 Z" fill="#080806"/>
<path d="M300.72,1438.78 L307.02,1425.93 L294.42,1425.93 Z" fill="#080806"/>
<circle cx="300.72" cy="1457.56" r="6" fill="#080806"/>
<path d="M324.26,1424.41 L330.56,1437.26 L317.96,1437.26 Z" fill="#080806"/>
<path d="M324.26,1432.26 L330.56,1419.4 L317.96,1419.4 Z" fill="#080806"/>
<circle cx="324.26" cy="1500.63" r="6" fill="#080806"/>
<path d="M347.8,1439.02 L354.1,1451.88 L341.5,1451.88 Z" fill="#080806"/>
<path d="M347.8,1451.83 L354.1,1438.98 L341.5,1438.98 Z" fill="#080806"/>
<circle cx="347.8" cy="1545.78" r="6" fill="#080806"/>
<path d="M378.92,1440.85 L385.22,1453.7 L372.62,1453.7 Z" fill="#080806"/>
<path d="M378.92,1454.7 L385.22,1441.85 L372.62,1441.85 Z" fill="#080806"/>
<circle cx="378.92" cy="1571.88" r="6" fill="#080806"/>
<path d="M402.46,1444.24 L408.76,1457.1 L396.16,1457.1 Z" fill="#080806"/>
<path d="M402.46,1435.39 L408.76,1422.54 L396.16,1422.54 Z" fill="#080806"/>
<circle cx="402.46" cy="1572.4" r="6" fill="#080806"/>
<path d="M426,1450.77 L432.3,1463.62 L419.7,1463.62 Z" fill="#080806"/>
<path d="M426,1444 L432.3,1431.15 L419.7,1431.15 Z" fill="#080806"/>
<circle cx="426" cy="1573.71" r="6" fill="#080806"/>
<path d="M480.66,1437.98 L486.96,1450.83 L474.36,1450.83 Z" fill="#080806"/>
<path d="M480.66,1459.66 L486.96,1446.81 L474.36,1446.81 Z" fill="#080806"/>
<circle cx="480.66" cy="1575.01" r="6" fill="#080806"/>
<path d="M504.2,1439.02 L510.5,1451.88 L497.9,1451.88 Z" fill="#080806"/>
<path d="M504.2,1448.96 L510.5,1436.11 L497.9,1436.11 Z" fill="#080806"/>
<circle cx="504.2" cy="1578.41" r="6" fill="#080806"/>
<path d="M558.86,1442.94 L565.16,1455.79 L552.56,1455.79 Z" fill="#080806"/>
<path d="M558.86,1421.82 L565.16,1408.96 L552.56,1408.96 Z" fill="#080806"/>
<circle cx="558.86" cy="1579.71" r="6" fill="#080806"/>
<text class="b" font-size="27.25" transform="translate(46 1691) rotate(-90) scale(0.9174 1)" stroke-width="0.53">Uba6~Ub Activity %</text>
<text class="r" font-size="31.3" transform="translate(386 1633.5)" stroke-width="0.53">IC50 = 50.8 nM</text>
<text class="b" font-size="27.47" text-anchor="middle" transform="translate(348 1756.8) scale(0.9174 1)" stroke-width="0.53">log(InsP6/M)</text>
<text class="bi" font-size="35.7" transform="translate(727 1188.3) scale(0.9804 1)" textLength="633.42" lengthAdjust="spacingAndGlyphs" stroke-width="0.32">InsP6 dose response for Uba6~FAT10</text>
<line x1="737.8" y1="1202.6" x2="1322" y2="1202.6" stroke="#111" stroke-width="3.9" stroke-linecap="butt"/>
<rect x="739.6" y="1227.8" width="615.4" height="52.2" rx="26.1" ry="26.1" fill="#fff" stroke="#111" stroke-width="2.9"/>
<line x1="762.6" y1="1250.3" x2="793.8" y2="1250.3" stroke="#0b6b39" stroke-width="8.2" stroke-linecap="round"/>
<circle cx="778.3" cy="1250.3" r="5.6" fill="#080806"/>
<text class="r" font-size="24.9" transform="translate(813.3 1257.1)" stroke-width="0.42">Uba6_WT_Apo</text>
<line x1="1025.3" y1="1250.3" x2="1056.5" y2="1250.3" stroke="#8f31b8" stroke-width="8.2" stroke-linecap="round"/>
<path d="M1040.8,1243.8 L1046.6,1255.64 L1035,1255.64 Z" fill="#080806"/>
<text class="r" font-size="24.9" transform="translate(1076 1257.1)" stroke-width="0.42">Uba6_InsP6mut_Apo</text>
<path d="M753.3,1418.43 L755.53,1418.43 L757.76,1418.43 L759.98,1418.43 L762.21,1418.43 L764.44,1418.43 L766.67,1418.43 L768.9,1418.43 L771.13,1418.43 L773.35,1418.43 L775.58,1418.44 L777.81,1418.44 L780.04,1418.44 L782.27,1418.44 L784.5,1418.44 L786.72,1418.44 L788.95,1418.45 L791.18,1418.45 L793.41,1418.45 L795.64,1418.45 L797.87,1418.46 L800.09,1418.46 L802.32,1418.46 L804.55,1418.47 L806.78,1418.47 L809.01,1418.47 L811.24,1418.48 L813.46,1418.48 L815.69,1418.49 L817.92,1418.49 L820.15,1418.5 L822.38,1418.5 L824.61,1418.51 L826.83,1418.51 L829.06,1418.52 L831.29,1418.53 L833.52,1418.53 L835.75,1418.54 L837.98,1418.55 L840.2,1418.56 L842.43,1418.57 L844.66,1418.58 L846.89,1418.59 L849.12,1418.6 L851.35,1418.62 L853.57,1418.63 L855.8,1418.64 L858.03,1418.66 L860.26,1418.68 L862.49,1418.69 L864.71,1418.71 L866.94,1418.73 L869.17,1418.75 L871.4,1418.77 L873.63,1418.8 L875.86,1418.82 L878.08,1418.85 L880.31,1418.88 L882.54,1418.91 L884.77,1418.94 L887,1418.97 L889.23,1419.01 L891.45,1419.05 L893.68,1419.09 L895.91,1419.13 L898.14,1419.18 L900.37,1419.22 L902.6,1419.28 L904.82,1419.33 L907.05,1419.39 L909.28,1419.45 L911.51,1419.51 L913.74,1419.58 L915.97,1419.65 L918.19,1419.72 L920.42,1419.8 L922.65,1419.88 L924.88,1419.97 L927.11,1420.06 L929.34,1420.15 L931.56,1420.25 L933.79,1420.35 L936.02,1420.46 L938.25,1420.57 L940.48,1420.69 L942.71,1420.81 L944.93,1420.94 L947.16,1421.07 L949.39,1421.21 L951.62,1421.35 L953.85,1421.5 L956.08,1421.65 L958.3,1421.8 L960.53,1421.96 L962.76,1422.12 L964.99,1422.29 L967.22,1422.46 L969.44,1422.63 L971.67,1422.81 L973.9,1422.99 L976.13,1423.17 L978.36,1423.35 L980.59,1423.54 L982.81,1423.73 L985.04,1423.91 L987.27,1424.1 L989.5,1424.29 L991.73,1424.48 L993.96,1424.67 L996.18,1424.85 L998.41,1425.04 L1000.64,1425.22 L1002.87,1425.4 L1005.1,1425.58 L1007.33,1425.75 L1009.55,1425.93 L1011.78,1426.1 L1014.01,1426.26 L1016.24,1426.42 L1018.47,1426.58 L1020.7,1426.73 L1022.92,1426.88 L1025.15,1427.02 L1027.38,1427.16 L1029.61,1427.3 L1031.84,1427.43 L1034.07,1427.55 L1036.29,1427.67 L1038.52,1427.79 L1040.75,1427.9 L1042.98,1428 L1045.21,1428.11 L1047.44,1428.2 L1049.66,1428.29 L1051.89,1428.38 L1054.12,1428.47 L1056.35,1428.55 L1058.58,1428.62 L1060.81,1428.7 L1063.03,1428.77 L1065.26,1428.83 L1067.49,1428.89 L1069.72,1428.95 L1071.95,1429.01 L1074.17,1429.06 L1076.4,1429.11 L1078.63,1429.16 L1080.86,1429.2 L1083.09,1429.24 L1085.32,1429.28 L1087.54,1429.32 L1089.77,1429.35 L1092,1429.39 L1094.23,1429.42 L1096.46,1429.45 L1098.69,1429.47 L1100.91,1429.5 L1103.14,1429.52 L1105.37,1429.55 L1107.6,1429.57 L1109.83,1429.59 L1112.06,1429.61 L1114.28,1429.63 L1116.51,1429.64 L1118.74,1429.66 L1120.97,1429.67 L1123.2,1429.69 L1125.43,1429.7 L1127.65,1429.71 L1129.88,1429.73 L1132.11,1429.74 L1134.34,1429.75 L1136.57,1429.76 L1138.8,1429.76 L1141.02,1429.77 L1143.25,1429.78 L1145.48,1429.79 L1147.71,1429.8 L1149.94,1429.8 L1152.17,1429.81 L1154.39,1429.81 L1156.62,1429.82 L1158.85,1429.82 L1161.08,1429.83 L1163.31,1429.83 L1165.53,1429.84 L1167.76,1429.84 L1169.99,1429.84 L1172.22,1429.85 L1174.45,1429.85 L1176.68,1429.85 L1178.9,1429.86 L1181.13,1429.86 L1183.36,1429.86 L1185.59,1429.86 L1187.82,1429.87 L1190.05,1429.87 L1192.27,1429.87 L1194.5,1429.87 L1196.73,1429.87 L1198.96,1429.88" fill="none" stroke="#8f31b8" stroke-width="5.8" stroke-linecap="round" stroke-linejoin="round"/>
<path d="M753.3,1421.39 L755.53,1421.41 L757.76,1421.44 L759.98,1421.47 L762.21,1421.5 L764.44,1421.53 L766.67,1421.56 L768.9,1421.6 L771.13,1421.64 L773.35,1421.68 L775.58,1421.73 L777.81,1421.77 L780.04,1421.82 L782.27,1421.88 L784.5,1421.94 L786.72,1422 L788.95,1422.06 L791.18,1422.13 L793.41,1422.21 L795.64,1422.29 L797.87,1422.37 L800.09,1422.46 L802.32,1422.56 L804.55,1422.66 L806.78,1422.78 L809.01,1422.89 L811.24,1423.02 L813.46,1423.15 L815.69,1423.3 L817.92,1423.45 L820.15,1423.61 L822.38,1423.78 L824.61,1423.97 L826.83,1424.17 L829.06,1424.38 L831.29,1424.6 L833.52,1424.84 L835.75,1425.09 L837.98,1425.36 L840.2,1425.65 L842.43,1425.96 L844.66,1426.29 L846.89,1426.64 L849.12,1427.01 L851.35,1427.4 L853.57,1427.82 L855.8,1428.27 L858.03,1428.75 L860.26,1429.25 L862.49,1429.79 L864.71,1430.36 L866.94,1430.97 L869.17,1431.62 L871.4,1432.3 L873.63,1433.03 L875.86,1433.8 L878.08,1434.62 L880.31,1435.48 L882.54,1436.4 L884.77,1437.37 L887,1438.4 L889.23,1439.49 L891.45,1440.64 L893.68,1441.86 L895.91,1443.15 L898.14,1444.5 L900.37,1445.93 L902.6,1447.43 L904.82,1449.02 L907.05,1450.69 L909.28,1452.44 L911.51,1454.28 L913.74,1456.2 L915.97,1458.22 L918.19,1460.34 L920.42,1462.55 L922.65,1464.86 L924.88,1467.26 L927.11,1469.77 L929.34,1472.38 L931.56,1475.09 L933.79,1477.89 L936.02,1480.8 L938.25,1483.81 L940.48,1486.91 L942.71,1490.11 L944.93,1493.4 L947.16,1496.78 L949.39,1500.24 L951.62,1503.78 L953.85,1507.4 L956.08,1511.08 L958.3,1514.83 L960.53,1518.64 L962.76,1522.49 L964.99,1526.39 L967.22,1530.32 L969.44,1534.28 L971.67,1538.25 L973.9,1542.24 L976.13,1546.22 L978.36,1550.2 L980.59,1554.16 L982.81,1558.1 L985.04,1562 L987.27,1565.86 L989.5,1569.67 L991.73,1573.43 L993.96,1577.13 L996.18,1580.75 L998.41,1584.31 L1000.64,1587.78 L1002.87,1591.17 L1005.1,1594.47 L1007.33,1597.68 L1009.55,1600.8 L1011.78,1603.82 L1014.01,1606.74 L1016.24,1609.56 L1018.47,1612.29 L1020.7,1614.91 L1022.92,1617.43 L1025.15,1619.85 L1027.38,1622.17 L1029.61,1624.39 L1031.84,1626.52 L1034.07,1628.56 L1036.29,1630.5 L1038.52,1632.35 L1040.75,1634.11 L1042.98,1635.79 L1045.21,1637.39 L1047.44,1638.9 L1049.66,1640.34 L1051.89,1641.71 L1054.12,1643 L1056.35,1644.23 L1058.58,1645.39 L1060.81,1646.48 L1063.03,1647.52 L1065.26,1648.5 L1067.49,1649.43 L1069.72,1650.3 L1071.95,1651.13 L1074.17,1651.91 L1076.4,1652.64 L1078.63,1653.33 L1080.86,1653.98 L1083.09,1654.59 L1085.32,1655.17 L1087.54,1655.71 L1089.77,1656.22 L1092,1656.7 L1094.23,1657.15 L1096.46,1657.58 L1098.69,1657.98 L1100.91,1658.35 L1103.14,1658.7 L1105.37,1659.03 L1107.6,1659.34 L1109.83,1659.63 L1112.06,1659.91 L1114.28,1660.16 L1116.51,1660.41 L1118.74,1660.63 L1120.97,1660.84 L1123.2,1661.04 L1125.43,1661.23 L1127.65,1661.4 L1129.88,1661.57 L1132.11,1661.72 L1134.34,1661.87 L1136.57,1662 L1138.8,1662.13 L1141.02,1662.25 L1143.25,1662.36 L1145.48,1662.46 L1147.71,1662.56 L1149.94,1662.65 L1152.17,1662.74 L1154.39,1662.82 L1156.62,1662.9 L1158.85,1662.97 L1161.08,1663.03 L1163.31,1663.09 L1165.53,1663.15 L1167.76,1663.21 L1169.99,1663.26 L1172.22,1663.31 L1174.45,1663.35 L1176.68,1663.39 L1178.9,1663.43 L1181.13,1663.47 L1183.36,1663.5 L1185.59,1663.54 L1187.82,1663.57 L1190.05,1663.6 L1192.27,1663.62 L1194.5,1663.65 L1196.73,1663.67 L1198.96,1663.69" fill="none" stroke="#0b6b39" stroke-width="5.8" stroke-linecap="round" stroke-linejoin="round"/>
<line x1="753.3" y1="1370" x2="753.3" y2="1696.4" stroke="#080806" stroke-width="5.6" stroke-linecap="butt"/>
<line x1="743.3" y1="1686.2" x2="1225.3" y2="1686.2" stroke="#080806" stroke-width="5.6" stroke-linecap="butt"/>
<line x1="753.3" y1="1686.2" x2="753.3" y2="1696.4" stroke="#080806" stroke-width="5.6" stroke-linecap="butt"/>
<line x1="831.5" y1="1686.2" x2="831.5" y2="1696.4" stroke="#080806" stroke-width="5.6" stroke-linecap="butt"/>
<line x1="909.7" y1="1686.2" x2="909.7" y2="1696.4" stroke="#080806" stroke-width="5.6" stroke-linecap="butt"/>
<line x1="987.9" y1="1686.2" x2="987.9" y2="1696.4" stroke="#080806" stroke-width="5.6" stroke-linecap="butt"/>
<line x1="1066.1" y1="1686.2" x2="1066.1" y2="1696.4" stroke="#080806" stroke-width="5.6" stroke-linecap="butt"/>
<line x1="1144.3" y1="1686.2" x2="1144.3" y2="1696.4" stroke="#080806" stroke-width="5.6" stroke-linecap="butt"/>
<line x1="1222.5" y1="1686.2" x2="1222.5" y2="1696.4" stroke="#080806" stroke-width="5.6" stroke-linecap="butt"/>
<line x1="743.3" y1="1686.2" x2="753.3" y2="1686.2" stroke="#080806" stroke-width="5.6" stroke-linecap="butt"/>
<line x1="743.3" y1="1634" x2="753.3" y2="1634" stroke="#080806" stroke-width="5.6" stroke-linecap="butt"/>
<line x1="743.3" y1="1581.8" x2="753.3" y2="1581.8" stroke="#080806" stroke-width="5.6" stroke-linecap="butt"/>
<line x1="743.3" y1="1529.6" x2="753.3" y2="1529.6" stroke="#080806" stroke-width="5.6" stroke-linecap="butt"/>
<line x1="743.3" y1="1477.4" x2="753.3" y2="1477.4" stroke="#080806" stroke-width="5.6" stroke-linecap="butt"/>
<line x1="743.3" y1="1425.2" x2="753.3" y2="1425.2" stroke="#080806" stroke-width="5.6" stroke-linecap="butt"/>
<line x1="743.3" y1="1372.8" x2="753.3" y2="1372.8" stroke="#080806" stroke-width="5.6" stroke-linecap="butt"/>
<text class="r" font-size="22.5" text-anchor="end" transform="translate(741.8 1694.2)" stroke-width="0.38">0</text>
<text class="r" font-size="22.5" text-anchor="end" transform="translate(741.8 1642)" stroke-width="0.38">20</text>
<text class="r" font-size="22.5" text-anchor="end" transform="translate(741.8 1589.8)" stroke-width="0.38">40</text>
<text class="r" font-size="22.5" text-anchor="end" transform="translate(741.8 1537.6)" stroke-width="0.38">60</text>
<text class="r" font-size="22.5" text-anchor="end" transform="translate(741.8 1485.4)" stroke-width="0.38">80</text>
<text class="r" font-size="22.5" text-anchor="end" transform="translate(741.8 1433.2)" stroke-width="0.38">100</text>
<text class="r" font-size="22.5" text-anchor="end" transform="translate(741.8 1381)" stroke-width="0.38">120</text>
<text class="r" font-size="23.5" transform="translate(732.15 1723.5)" stroke-width="0.4">10</text>
<text class="r" font-size="16.5" transform="translate(758.65 1713.7)" stroke-width="0.28">-10</text>
<text class="r" font-size="23.5" transform="translate(816.3 1723.5)" stroke-width="0.4">10</text>
<text class="r" font-size="16.5" transform="translate(842.8 1713.7)" stroke-width="0.28">-9</text>
<text class="r" font-size="23.5" transform="translate(894.5 1723.5)" stroke-width="0.4">10</text>
<text class="r" font-size="16.5" transform="translate(921 1713.7)" stroke-width="0.28">-8</text>
<text class="r" font-size="23.5" transform="translate(972.7 1723.5)" stroke-width="0.4">10</text>
<text class="r" font-size="16.5" transform="translate(999.2 1713.7)" stroke-width="0.28">-7</text>
<text class="r" font-size="23.5" transform="translate(1050.9 1723.5)" stroke-width="0.4">10</text>
<text class="r" font-size="16.5" transform="translate(1077.4 1713.7)" stroke-width="0.28">-6</text>
<text class="r" font-size="23.5" transform="translate(1129.1 1723.5)" stroke-width="0.4">10</text>
<text class="r" font-size="16.5" transform="translate(1155.6 1713.7)" stroke-width="0.28">-5</text>
<text class="r" font-size="23.5" transform="translate(1207.3 1723.5)" stroke-width="0.4">10</text>
<text class="r" font-size="16.5" transform="translate(1233.8 1713.7)" stroke-width="0.28">-4</text>
<line x1="831.5" y1="1393.88" x2="831.5" y2="1435.38" stroke="#080806" stroke-width="5.4" stroke-linecap="butt"/>
<line x1="825.35" y1="1393.88" x2="837.65" y2="1393.88" stroke="#080806" stroke-width="5.7" stroke-linecap="round"/>
<line x1="825.35" y1="1435.38" x2="837.65" y2="1435.38" stroke="#080806" stroke-width="5.7" stroke-linecap="round"/>
<line x1="831.5" y1="1424.94" x2="831.5" y2="1447.12" stroke="#080806" stroke-width="5.4" stroke-linecap="butt"/>
<line x1="825.35" y1="1424.94" x2="837.65" y2="1424.94" stroke="#080806" stroke-width="5.7" stroke-linecap="round"/>
<line x1="825.35" y1="1447.12" x2="837.65" y2="1447.12" stroke="#080806" stroke-width="5.7" stroke-linecap="round"/>
<line x1="886.16" y1="1410.32" x2="886.16" y2="1439.56" stroke="#080806" stroke-width="5.4" stroke-linecap="butt"/>
<line x1="880.01" y1="1410.32" x2="892.31" y2="1410.32" stroke="#080806" stroke-width="5.7" stroke-linecap="round"/>
<line x1="880.01" y1="1439.56" x2="892.31" y2="1439.56" stroke="#080806" stroke-width="5.7" stroke-linecap="round"/>
<line x1="886.16" y1="1425.98" x2="886.16" y2="1440.08" stroke="#080806" stroke-width="5.4" stroke-linecap="butt"/>
<line x1="880.01" y1="1425.98" x2="892.31" y2="1425.98" stroke="#080806" stroke-width="5.7" stroke-linecap="round"/>
<line x1="880.01" y1="1440.08" x2="892.31" y2="1440.08" stroke="#080806" stroke-width="5.7" stroke-linecap="round"/>
<line x1="909.7" y1="1401.97" x2="909.7" y2="1439.03" stroke="#080806" stroke-width="5.4" stroke-linecap="butt"/>
<line x1="903.55" y1="1401.97" x2="915.85" y2="1401.97" stroke="#080806" stroke-width="5.7" stroke-linecap="round"/>
<line x1="903.55" y1="1439.03" x2="915.85" y2="1439.03" stroke="#080806" stroke-width="5.7" stroke-linecap="round"/>
<line x1="909.7" y1="1439.03" x2="909.7" y2="1469.05" stroke="#080806" stroke-width="5.4" stroke-linecap="butt"/>
<line x1="903.55" y1="1439.03" x2="915.85" y2="1439.03" stroke="#080806" stroke-width="5.7" stroke-linecap="round"/>
<line x1="903.55" y1="1469.05" x2="915.85" y2="1469.05" stroke="#080806" stroke-width="5.7" stroke-linecap="round"/>
<line x1="940.82" y1="1397.53" x2="940.82" y2="1433.81" stroke="#080806" stroke-width="5.4" stroke-linecap="butt"/>
<line x1="934.67" y1="1397.53" x2="946.97" y2="1397.53" stroke="#080806" stroke-width="5.7" stroke-linecap="round"/>
<line x1="934.67" y1="1433.81" x2="946.97" y2="1433.81" stroke="#080806" stroke-width="5.7" stroke-linecap="round"/>
<line x1="940.82" y1="1451.04" x2="940.82" y2="1485.23" stroke="#080806" stroke-width="5.4" stroke-linecap="butt"/>
<line x1="934.67" y1="1451.04" x2="946.97" y2="1451.04" stroke="#080806" stroke-width="5.7" stroke-linecap="round"/>
<line x1="934.67" y1="1485.23" x2="946.97" y2="1485.23" stroke="#080806" stroke-width="5.7" stroke-linecap="round"/>
<line x1="964.36" y1="1391.27" x2="964.36" y2="1449.47" stroke="#080806" stroke-width="5.4" stroke-linecap="butt"/>
<line x1="958.21" y1="1391.27" x2="970.51" y2="1391.27" stroke="#080806" stroke-width="5.7" stroke-linecap="round"/>
<line x1="958.21" y1="1449.47" x2="970.51" y2="1449.47" stroke="#080806" stroke-width="5.7" stroke-linecap="round"/>
<line x1="964.36" y1="1477.4" x2="964.36" y2="1522.55" stroke="#080806" stroke-width="5.4" stroke-linecap="butt"/>
<line x1="958.21" y1="1477.4" x2="970.51" y2="1477.4" stroke="#080806" stroke-width="5.7" stroke-linecap="round"/>
<line x1="958.21" y1="1522.55" x2="970.51" y2="1522.55" stroke="#080806" stroke-width="5.7" stroke-linecap="round"/>
<line x1="987.9" y1="1399.88" x2="987.9" y2="1446.86" stroke="#080806" stroke-width="5.4" stroke-linecap="butt"/>
<line x1="981.75" y1="1399.88" x2="994.05" y2="1399.88" stroke="#080806" stroke-width="5.7" stroke-linecap="round"/>
<line x1="981.75" y1="1446.86" x2="994.05" y2="1446.86" stroke="#080806" stroke-width="5.7" stroke-linecap="round"/>
<line x1="987.9" y1="1566.92" x2="987.9" y2="1582.58" stroke="#080806" stroke-width="5.4" stroke-linecap="butt"/>
<line x1="981.75" y1="1566.92" x2="994.05" y2="1566.92" stroke="#080806" stroke-width="5.7" stroke-linecap="round"/>
<line x1="981.75" y1="1582.58" x2="994.05" y2="1582.58" stroke="#080806" stroke-width="5.7" stroke-linecap="round"/>
<line x1="1019.02" y1="1401.71" x2="1019.02" y2="1451.3" stroke="#080806" stroke-width="5.4" stroke-linecap="butt"/>
<line x1="1012.87" y1="1401.71" x2="1025.17" y2="1401.71" stroke="#080806" stroke-width="5.7" stroke-linecap="round"/>
<line x1="1012.87" y1="1451.3" x2="1025.17" y2="1451.3" stroke="#080806" stroke-width="5.7" stroke-linecap="round"/>
<line x1="1042.56" y1="1416.07" x2="1042.56" y2="1468" stroke="#080806" stroke-width="5.4" stroke-linecap="butt"/>
<line x1="1036.41" y1="1416.07" x2="1048.71" y2="1416.07" stroke="#080806" stroke-width="5.7" stroke-linecap="round"/>
<line x1="1036.41" y1="1468" x2="1048.71" y2="1468" stroke="#080806" stroke-width="5.7" stroke-linecap="round"/>
<line x1="1066.1" y1="1397.01" x2="1066.1" y2="1453.65" stroke="#080806" stroke-width="5.4" stroke-linecap="butt"/>
<line x1="1059.95" y1="1397.01" x2="1072.25" y2="1397.01" stroke="#080806" stroke-width="5.7" stroke-linecap="round"/>
<line x1="1059.95" y1="1453.65" x2="1072.25" y2="1453.65" stroke="#080806" stroke-width="5.7" stroke-linecap="round"/>
<line x1="1120.76" y1="1399.88" x2="1120.76" y2="1445.56" stroke="#080806" stroke-width="5.4" stroke-linecap="butt"/>
<line x1="1114.61" y1="1399.88" x2="1126.91" y2="1399.88" stroke="#080806" stroke-width="5.7" stroke-linecap="round"/>
<line x1="1114.61" y1="1445.56" x2="1126.91" y2="1445.56" stroke="#080806" stroke-width="5.7" stroke-linecap="round"/>
<line x1="1144.3" y1="1415.8" x2="1144.3" y2="1446.08" stroke="#080806" stroke-width="5.4" stroke-linecap="butt"/>
<line x1="1138.15" y1="1415.8" x2="1150.45" y2="1415.8" stroke="#080806" stroke-width="5.7" stroke-linecap="round"/>
<line x1="1138.15" y1="1446.08" x2="1150.45" y2="1446.08" stroke="#080806" stroke-width="5.7" stroke-linecap="round"/>
<line x1="1198.96" y1="1410.58" x2="1198.96" y2="1451.3" stroke="#080806" stroke-width="5.4" stroke-linecap="butt"/>
<line x1="1192.81" y1="1410.58" x2="1205.11" y2="1410.58" stroke="#080806" stroke-width="5.7" stroke-linecap="round"/>
<line x1="1192.81" y1="1451.3" x2="1205.11" y2="1451.3" stroke="#080806" stroke-width="5.7" stroke-linecap="round"/>
<path d="M753.3,1418.14 L759.6,1431 L747,1431 Z" fill="#080806"/>
<circle cx="753.3" cy="1425.2" r="6" fill="#080806"/>
<path d="M831.5,1407.7 L837.8,1420.56 L825.2,1420.56 Z" fill="#080806"/>
<circle cx="831.5" cy="1436.16" r="6" fill="#080806"/>
<path d="M886.16,1418.14 L892.46,1431 L879.86,1431 Z" fill="#080806"/>
<circle cx="886.16" cy="1433.03" r="6" fill="#080806"/>
<path d="M909.7,1413.45 L916,1426.3 L903.4,1426.3 Z" fill="#080806"/>
<circle cx="909.7" cy="1453.91" r="6" fill="#080806"/>
<path d="M940.82,1408.75 L947.12,1421.6 L934.52,1421.6 Z" fill="#080806"/>
<circle cx="940.82" cy="1467.74" r="6" fill="#080806"/>
<path d="M964.36,1413.45 L970.66,1426.3 L958.06,1426.3 Z" fill="#080806"/>
<circle cx="964.36" cy="1499.59" r="6" fill="#080806"/>
<path d="M987.9,1416.32 L994.2,1429.17 L981.6,1429.17 Z" fill="#080806"/>
<circle cx="987.9" cy="1574.75" r="6" fill="#080806"/>
<path d="M1019.02,1419.45 L1025.32,1432.3 L1012.72,1432.3 Z" fill="#080806"/>
<circle cx="1019.02" cy="1646.53" r="6" fill="#080806"/>
<path d="M1042.56,1435.11 L1048.86,1447.96 L1036.26,1447.96 Z" fill="#080806"/>
<circle cx="1042.56" cy="1652.27" r="6" fill="#080806"/>
<path d="M1066.1,1418.14 L1072.4,1431 L1059.8,1431 Z" fill="#080806"/>
<circle cx="1066.1" cy="1649.14" r="6" fill="#080806"/>
<path d="M1120.76,1415.53 L1127.06,1428.39 L1114.46,1428.39 Z" fill="#080806"/>
<circle cx="1120.76" cy="1649.14" r="6" fill="#080806"/>
<path d="M1144.3,1423.89 L1150.6,1436.74 L1138,1436.74 Z" fill="#080806"/>
<circle cx="1144.3" cy="1649.66" r="6" fill="#080806"/>
<path d="M1198.96,1423.89 L1205.26,1436.74 L1192.66,1436.74 Z" fill="#080806"/>
<circle cx="1198.96" cy="1650.44" r="6" fill="#080806"/>
<text class="b" font-size="27.25" transform="translate(686 1694) rotate(-90) scale(0.9174 1)" stroke-width="0.53">Uba6~FAT10 Activity %</text>
<text class="r" font-size="31.3" transform="translate(1060.3 1620.8)" stroke-width="0.53">IC50 = 66.6 nM</text>
<text class="b" font-size="27.47" text-anchor="middle" transform="translate(988 1756.8) scale(0.9174 1)" stroke-width="0.53">log(InsP6/M)</text>
<text class="r pl" font-size="70.03" transform="translate(1380.6 51.6) scale(1.0309 1)" stroke-width="0">d</text>
<text class="bi" font-size="35.7" transform="translate(1517.8 35) scale(0.9804 1)" textLength="441.46" lengthAdjust="spacingAndGlyphs" stroke-width="0.32">Uba6~Ub thioester activity</text>
<line x1="1504.4" y1="49.2" x2="1953.6" y2="49.2" stroke="#111" stroke-width="3.9" stroke-linecap="butt"/>
<rect x="1720.3" y="85.7" width="266.7" height="65.1" rx="31" ry="31" fill="#fff" stroke="#111" stroke-width="2.8"/>
<rect x="1741" y="101" width="19.2" height="8.4" fill="#080806" />
<text class="r" font-size="22.2" transform="translate(1769.3 111.2)" stroke-width="0.38">no InsPx</text>
<rect x="1877.4" y="101" width="19.2" height="8.4" fill="#f29200" />
<text class="r" font-size="22.2" transform="translate(1905.8 111.2)" stroke-width="0.38">InsP5</text>
<rect x="1741" y="127.6" width="19.2" height="8.4" fill="#ce8fdd" />
<text class="r" font-size="22.2" transform="translate(1769.3 137.5)" stroke-width="0.38">InsP3</text>
<rect x="1877.4" y="127.6" width="19.2" height="8.4" fill="#009639" />
<text class="r" font-size="22.2" transform="translate(1905.8 137.5)" stroke-width="0.38">InsP6</text>
<rect x="1562.2" y="219.34" width="31.11" height="227.6" fill="#080806" />
<circle cx="1568.55" cy="219.34" r="3.1" fill="none" stroke="#7e7e7e" stroke-width="1.5"/>
<circle cx="1577.44" cy="219.34" r="3.1" fill="none" stroke="#7e7e7e" stroke-width="1.5"/>
<circle cx="1586.01" cy="219.34" r="3.1" fill="none" stroke="#7e7e7e" stroke-width="1.5"/>
<rect x="1609.18" y="224.11" width="31.74" height="222.84" fill="#ce8fdd" />
<line x1="1625.05" y1="216.17" x2="1625.05" y2="230.77" stroke="#8a8a8a" stroke-width="1.4" stroke-linecap="butt"/>
<line x1="1616.75" y1="216.17" x2="1633.35" y2="216.17" stroke="#8a8a8a" stroke-width="1.4" stroke-linecap="butt"/>
<line x1="1616.75" y1="230.77" x2="1633.35" y2="230.77" stroke="#8a8a8a" stroke-width="1.4" stroke-linecap="butt"/>
<circle cx="1625.05" cy="215.54" r="3.1" fill="none" stroke="#7e7e7e" stroke-width="1.5"/>
<circle cx="1620.61" cy="227.91" r="3.1" fill="none" stroke="#7e7e7e" stroke-width="1.5"/>
<circle cx="1629.18" cy="227.91" r="3.1" fill="none" stroke="#7e7e7e" stroke-width="1.5"/>
<rect x="1656.16" y="263.15" width="31.74" height="183.79" fill="#f29200" />
<line x1="1672.03" y1="250.77" x2="1672.03" y2="275.85" stroke="#8a8a8a" stroke-width="1.4" stroke-linecap="butt"/>
<line x1="1663.73" y1="250.77" x2="1680.33" y2="250.77" stroke="#8a8a8a" stroke-width="1.4" stroke-linecap="butt"/>
<line x1="1663.73" y1="275.85" x2="1680.33" y2="275.85" stroke="#8a8a8a" stroke-width="1.4" stroke-linecap="butt"/>
<circle cx="1672.03" cy="249.18" r="3.1" fill="none" stroke="#7e7e7e" stroke-width="1.5"/>
<circle cx="1667.27" cy="272.99" r="3.1" fill="none" stroke="#7e7e7e" stroke-width="1.5"/>
<circle cx="1676.48" cy="266.01" r="3.1" fill="none" stroke="#7e7e7e" stroke-width="1.5"/>
<rect x="1703.78" y="337.11" width="31.74" height="109.83" fill="#009639" />
<line x1="1719.65" y1="325.37" x2="1719.65" y2="348.54" stroke="#8a8a8a" stroke-width="1.4" stroke-linecap="butt"/>
<line x1="1711.35" y1="325.37" x2="1727.95" y2="325.37" stroke="#8a8a8a" stroke-width="1.4" stroke-linecap="butt"/>
<line x1="1711.35" y1="348.54" x2="1727.95" y2="348.54" stroke="#8a8a8a" stroke-width="1.4" stroke-linecap="butt"/>
<circle cx="1719.33" cy="326" r="3.1" fill="none" stroke="#7e7e7e" stroke-width="1.5"/>
<circle cx="1719.33" cy="335.52" r="3.1" fill="none" stroke="#7e7e7e" stroke-width="1.5"/>
<circle cx="1719.33" cy="349.17" r="3.1" fill="none" stroke="#7e7e7e" stroke-width="1.5"/>
<rect x="1782.5" y="254.9" width="31.43" height="192.05" fill="#080806" />
<line x1="1798.21" y1="246.96" x2="1798.21" y2="262.83" stroke="#8a8a8a" stroke-width="1.4" stroke-linecap="butt"/>
<line x1="1789.91" y1="246.96" x2="1806.51" y2="246.96" stroke="#8a8a8a" stroke-width="1.4" stroke-linecap="butt"/>
<line x1="1789.91" y1="262.83" x2="1806.51" y2="262.83" stroke="#8a8a8a" stroke-width="1.4" stroke-linecap="butt"/>
<circle cx="1798.37" cy="246.01" r="3.1" fill="none" stroke="#7e7e7e" stroke-width="1.5"/>
<circle cx="1793.61" cy="260.93" r="3.1" fill="none" stroke="#7e7e7e" stroke-width="1.5"/>
<circle cx="1801.23" cy="259.34" r="3.1" fill="none" stroke="#7e7e7e" stroke-width="1.5"/>
<rect x="1829.8" y="251.09" width="31.74" height="195.85" fill="#ce8fdd" />
<line x1="1845.67" y1="246.64" x2="1845.67" y2="254.9" stroke="#8a8a8a" stroke-width="1.4" stroke-linecap="butt"/>
<line x1="1837.37" y1="246.64" x2="1853.97" y2="246.64" stroke="#8a8a8a" stroke-width="1.4" stroke-linecap="butt"/>
<line x1="1837.37" y1="254.9" x2="1853.97" y2="254.9" stroke="#8a8a8a" stroke-width="1.4" stroke-linecap="butt"/>
<circle cx="1837.1" cy="246.96" r="3.1" fill="none" stroke="#7e7e7e" stroke-width="1.5"/>
<circle cx="1845.67" cy="254.26" r="3.1" fill="none" stroke="#7e7e7e" stroke-width="1.5"/>
<circle cx="1853.92" cy="251.4" r="3.1" fill="none" stroke="#7e7e7e" stroke-width="1.5"/>
<rect x="1877.09" y="247.91" width="31.74" height="199.03" fill="#f29200" />
<line x1="1892.97" y1="239.02" x2="1892.97" y2="255.85" stroke="#8a8a8a" stroke-width="1.4" stroke-linecap="butt"/>
<line x1="1884.67" y1="239.02" x2="1901.27" y2="239.02" stroke="#8a8a8a" stroke-width="1.4" stroke-linecap="butt"/>
<line x1="1884.67" y1="255.85" x2="1901.27" y2="255.85" stroke="#8a8a8a" stroke-width="1.4" stroke-linecap="butt"/>
<circle cx="1892.97" cy="239.02" r="3.1" fill="none" stroke="#7e7e7e" stroke-width="1.5"/>
<circle cx="1897.09" cy="246.96" r="3.1" fill="none" stroke="#7e7e7e" stroke-width="1.5"/>
<circle cx="1888.52" cy="255.53" r="3.1" fill="none" stroke="#7e7e7e" stroke-width="1.5"/>
<rect x="1924.39" y="246.64" width="31.74" height="200.3" fill="#009639" />
<line x1="1940.26" y1="243.15" x2="1940.26" y2="250.13" stroke="#8a8a8a" stroke-width="1.4" stroke-linecap="butt"/>
<line x1="1931.96" y1="243.15" x2="1948.56" y2="243.15" stroke="#8a8a8a" stroke-width="1.4" stroke-linecap="butt"/>
<line x1="1931.96" y1="250.13" x2="1948.56" y2="250.13" stroke="#8a8a8a" stroke-width="1.4" stroke-linecap="butt"/>
<circle cx="1931.69" cy="242.83" r="3.1" fill="none" stroke="#7e7e7e" stroke-width="1.5"/>
<circle cx="1940.26" cy="250.13" r="3.1" fill="none" stroke="#7e7e7e" stroke-width="1.5"/>
<circle cx="1948.52" cy="246.01" r="3.1" fill="none" stroke="#7e7e7e" stroke-width="1.5"/>
<line x1="1545.93" y1="160.52" x2="1545.93" y2="448.94" stroke="#080806" stroke-width="4" stroke-linecap="butt"/>
<line x1="1534.59" y1="446.94" x2="1972.01" y2="446.94" stroke="#080806" stroke-width="4" stroke-linecap="butt"/>
<line x1="1534.89" y1="446.94" x2="1545.93" y2="446.94" stroke="#080806" stroke-width="4" stroke-linecap="butt"/>
<text class="r" font-size="22.9" text-anchor="end" transform="translate(1532.29 454.54)" stroke-width="0.39">0</text>
<line x1="1534.89" y1="390.12" x2="1545.93" y2="390.12" stroke="#080806" stroke-width="4" stroke-linecap="butt"/>
<text class="r" font-size="22.9" text-anchor="end" transform="translate(1532.29 397.72)" stroke-width="0.39">25</text>
<line x1="1534.89" y1="333.3" x2="1545.93" y2="333.3" stroke="#080806" stroke-width="4" stroke-linecap="butt"/>
<text class="r" font-size="22.9" text-anchor="end" transform="translate(1532.29 340.9)" stroke-width="0.39">50</text>
<line x1="1534.89" y1="276.16" x2="1545.93" y2="276.16" stroke="#080806" stroke-width="4" stroke-linecap="butt"/>
<text class="r" font-size="22.9" text-anchor="end" transform="translate(1532.29 283.76)" stroke-width="0.39">75</text>
<line x1="1534.89" y1="219.34" x2="1545.93" y2="219.34" stroke="#080806" stroke-width="4" stroke-linecap="butt"/>
<text class="r" font-size="22.9" text-anchor="end" transform="translate(1532.29 226.94)" stroke-width="0.39">100</text>
<line x1="1534.89" y1="162.52" x2="1545.93" y2="162.52" stroke="#080806" stroke-width="4" stroke-linecap="butt"/>
<text class="r" font-size="22.9" text-anchor="end" transform="translate(1532.29 170.12)" stroke-width="0.39">125</text>
<line x1="1647.91" y1="446.94" x2="1647.91" y2="457.44" stroke="#080806" stroke-width="3.7" stroke-linecap="butt"/>
<line x1="1869.16" y1="446.94" x2="1869.16" y2="457.44" stroke="#080806" stroke-width="3.7" stroke-linecap="butt"/>
<line x1="1564.74" y1="461.21" x2="1744.73" y2="461.21" stroke="#080806" stroke-width="4" stroke-linecap="butt"/>
<line x1="1775.83" y1="461.21" x2="1955.82" y2="461.21" stroke="#080806" stroke-width="4" stroke-linecap="butt"/>
<text class="bi" font-size="27.74" text-anchor="middle" transform="translate(1645.69 496.83) scale(0.9804 1)" stroke-width="0.24">WT Apo</text>
<text class="bi" font-size="27.74" text-anchor="middle" transform="translate(1882.17 496.83) scale(0.9804 1)" stroke-width="0.24">InsP6mut</text>
<text class="bi" font-size="27.74" text-anchor="middle" transform="translate(1879 524.76) scale(0.9804 1)" stroke-width="0.24">Apo</text>
<text class="r" font-size="22.7" text-anchor="middle" transform="translate(1455.55 304.73) rotate(-90)" stroke-width="0.39">Uba6~Ub thioester activity %</text>
<text class="r" font-size="22.9" text-anchor="middle" transform="translate(1484.12 304.73) rotate(-90)" stroke-width="0.39">Relative to Uba6_WT_E.coli~Ub</text>
<text class="bi" font-size="35.7" transform="translate(1478 600.9) scale(0.9804 1)" textLength="501.53" lengthAdjust="spacingAndGlyphs" stroke-width="0.32">Uba6~FAT10 thioester activity</text>
<line x1="1471" y1="614.4" x2="1960" y2="614.4" stroke="#111" stroke-width="3.9" stroke-linecap="butt"/>
<rect x="1706" y="631.9" width="266.7" height="64.8" rx="31" ry="31" fill="#fff" stroke="#111" stroke-width="2.8"/>
<rect x="1727.3" y="646.8" width="19.2" height="8.4" fill="#080806" />
<text class="r" font-size="22.2" transform="translate(1755 657)" stroke-width="0.38">no InsPx</text>
<rect x="1863.8" y="646.8" width="19.2" height="8.4" fill="#f29200" />
<text class="r" font-size="22.2" transform="translate(1892.2 657)" stroke-width="0.38">InsP5</text>
<rect x="1727.3" y="673.2" width="19.2" height="8.4" fill="#ce8fdd" />
<text class="r" font-size="22.2" transform="translate(1755 683.4)" stroke-width="0.38">InsP3</text>
<rect x="1863.8" y="673.2" width="19.2" height="8.4" fill="#009639" />
<text class="r" font-size="22.2" transform="translate(1892.2 683.4)" stroke-width="0.38">InsP6</text>
<rect x="1559.35" y="785.53" width="31.43" height="227.91" fill="#080806" />
<circle cx="1566.33" cy="785.53" r="3.1" fill="none" stroke="#7e7e7e" stroke-width="1.5"/>
<circle cx="1574.9" cy="785.53" r="3.1" fill="none" stroke="#7e7e7e" stroke-width="1.5"/>
<circle cx="1583.47" cy="785.53" r="3.1" fill="none" stroke="#7e7e7e" stroke-width="1.5"/>
<rect x="1606.64" y="759.82" width="31.74" height="253.63" fill="#ce8fdd" />
<line x1="1622.51" y1="749.03" x2="1622.51" y2="770.61" stroke="#8a8a8a" stroke-width="1.4" stroke-linecap="butt"/>
<line x1="1614.21" y1="749.03" x2="1630.81" y2="749.03" stroke="#8a8a8a" stroke-width="1.4" stroke-linecap="butt"/>
<line x1="1614.21" y1="770.61" x2="1630.81" y2="770.61" stroke="#8a8a8a" stroke-width="1.4" stroke-linecap="butt"/>
<circle cx="1622.51" cy="747.76" r="3.1" fill="none" stroke="#7e7e7e" stroke-width="1.5"/>
<circle cx="1618.07" cy="767.12" r="3.1" fill="none" stroke="#7e7e7e" stroke-width="1.5"/>
<circle cx="1626.64" cy="765.22" r="3.1" fill="none" stroke="#7e7e7e" stroke-width="1.5"/>
<rect x="1653.94" y="815.37" width="31.74" height="198.08" fill="#f29200" />
<line x1="1669.81" y1="810.29" x2="1669.81" y2="819.18" stroke="#8a8a8a" stroke-width="1.4" stroke-linecap="butt"/>
<line x1="1661.51" y1="810.29" x2="1678.11" y2="810.29" stroke="#8a8a8a" stroke-width="1.4" stroke-linecap="butt"/>
<line x1="1661.51" y1="819.18" x2="1678.11" y2="819.18" stroke="#8a8a8a" stroke-width="1.4" stroke-linecap="butt"/>
<circle cx="1661.56" cy="811.56" r="3.1" fill="none" stroke="#7e7e7e" stroke-width="1.5"/>
<circle cx="1669.49" cy="819.18" r="3.1" fill="none" stroke="#7e7e7e" stroke-width="1.5"/>
<circle cx="1678.06" cy="814.74" r="3.1" fill="none" stroke="#7e7e7e" stroke-width="1.5"/>
<rect x="1701.24" y="987.1" width="31.74" height="26.35" fill="#009639" />
<line x1="1717.11" y1="980.12" x2="1717.11" y2="993.45" stroke="#8a8a8a" stroke-width="1.4" stroke-linecap="butt"/>
<line x1="1708.81" y1="980.12" x2="1725.41" y2="980.12" stroke="#8a8a8a" stroke-width="1.4" stroke-linecap="butt"/>
<line x1="1708.81" y1="993.45" x2="1725.41" y2="993.45" stroke="#8a8a8a" stroke-width="1.4" stroke-linecap="butt"/>
<circle cx="1717.11" cy="979.48" r="3.1" fill="none" stroke="#7e7e7e" stroke-width="1.5"/>
<circle cx="1712.98" cy="992.18" r="3.1" fill="none" stroke="#7e7e7e" stroke-width="1.5"/>
<circle cx="1720.92" cy="988.05" r="3.1" fill="none" stroke="#7e7e7e" stroke-width="1.5"/>
<rect x="1780.28" y="776.33" width="31.43" height="237.12" fill="#080806" />
<line x1="1795.99" y1="766.8" x2="1795.99" y2="786.17" stroke="#8a8a8a" stroke-width="1.4" stroke-linecap="butt"/>
<line x1="1787.69" y1="766.8" x2="1804.29" y2="766.8" stroke="#8a8a8a" stroke-width="1.4" stroke-linecap="butt"/>
<line x1="1787.69" y1="786.17" x2="1804.29" y2="786.17" stroke="#8a8a8a" stroke-width="1.4" stroke-linecap="butt"/>
<circle cx="1792.34" cy="767.44" r="3.1" fill="none" stroke="#7e7e7e" stroke-width="1.5"/>
<circle cx="1799.96" cy="776.01" r="3.1" fill="none" stroke="#7e7e7e" stroke-width="1.5"/>
<circle cx="1796.47" cy="786.49" r="3.1" fill="none" stroke="#7e7e7e" stroke-width="1.5"/>
<rect x="1827.57" y="779.18" width="31.74" height="234.26" fill="#ce8fdd" />
<line x1="1843.45" y1="762.68" x2="1843.45" y2="796.33" stroke="#8a8a8a" stroke-width="1.4" stroke-linecap="butt"/>
<line x1="1835.15" y1="762.68" x2="1851.75" y2="762.68" stroke="#8a8a8a" stroke-width="1.4" stroke-linecap="butt"/>
<line x1="1835.15" y1="796.33" x2="1851.75" y2="796.33" stroke="#8a8a8a" stroke-width="1.4" stroke-linecap="butt"/>
<circle cx="1843.45" cy="764.9" r="3.1" fill="none" stroke="#7e7e7e" stroke-width="1.5"/>
<circle cx="1843.45" cy="776.01" r="3.1" fill="none" stroke="#7e7e7e" stroke-width="1.5"/>
<circle cx="1843.45" cy="796.96" r="3.1" fill="none" stroke="#7e7e7e" stroke-width="1.5"/>
<rect x="1874.87" y="782.99" width="31.74" height="230.45" fill="#f29200" />
<line x1="1890.74" y1="768.39" x2="1890.74" y2="797.6" stroke="#8a8a8a" stroke-width="1.4" stroke-linecap="butt"/>
<line x1="1882.44" y1="768.39" x2="1899.04" y2="768.39" stroke="#8a8a8a" stroke-width="1.4" stroke-linecap="butt"/>
<line x1="1882.44" y1="797.6" x2="1899.04" y2="797.6" stroke="#8a8a8a" stroke-width="1.4" stroke-linecap="butt"/>
<circle cx="1886.93" cy="772.84" r="3.1" fill="none" stroke="#7e7e7e" stroke-width="1.5"/>
<circle cx="1894.87" cy="776.33" r="3.1" fill="none" stroke="#7e7e7e" stroke-width="1.5"/>
<circle cx="1890.74" cy="800.13" r="3.1" fill="none" stroke="#7e7e7e" stroke-width="1.5"/>
<rect x="1922.17" y="781.09" width="31.74" height="232.36" fill="#009639" />
<line x1="1938.04" y1="761.41" x2="1938.04" y2="800.77" stroke="#8a8a8a" stroke-width="1.4" stroke-linecap="butt"/>
<line x1="1929.74" y1="761.41" x2="1946.34" y2="761.41" stroke="#8a8a8a" stroke-width="1.4" stroke-linecap="butt"/>
<line x1="1929.74" y1="800.77" x2="1946.34" y2="800.77" stroke="#8a8a8a" stroke-width="1.4" stroke-linecap="butt"/>
<circle cx="1938.36" cy="760.14" r="3.1" fill="none" stroke="#7e7e7e" stroke-width="1.5"/>
<circle cx="1938.36" cy="784.26" r="3.1" fill="none" stroke="#7e7e7e" stroke-width="1.5"/>
<circle cx="1938.36" cy="799.82" r="3.1" fill="none" stroke="#7e7e7e" stroke-width="1.5"/>
<line x1="1543.71" y1="726.71" x2="1543.71" y2="1015.45" stroke="#080806" stroke-width="4" stroke-linecap="butt"/>
<line x1="1532.36" y1="1013.45" x2="1970.1" y2="1013.45" stroke="#080806" stroke-width="4" stroke-linecap="butt"/>
<line x1="1532.66" y1="1013.45" x2="1543.71" y2="1013.45" stroke="#080806" stroke-width="4" stroke-linecap="butt"/>
<text class="r" font-size="22.9" text-anchor="end" transform="translate(1530.06 1021.05)" stroke-width="0.39">0</text>
<line x1="1532.66" y1="955.99" x2="1543.71" y2="955.99" stroke="#080806" stroke-width="4" stroke-linecap="butt"/>
<text class="r" font-size="22.9" text-anchor="end" transform="translate(1530.06 963.59)" stroke-width="0.39">25</text>
<line x1="1532.66" y1="899.17" x2="1543.71" y2="899.17" stroke="#080806" stroke-width="4" stroke-linecap="butt"/>
<text class="r" font-size="22.9" text-anchor="end" transform="translate(1530.06 906.77)" stroke-width="0.39">50</text>
<line x1="1532.66" y1="842.04" x2="1543.71" y2="842.04" stroke="#080806" stroke-width="4" stroke-linecap="butt"/>
<text class="r" font-size="22.9" text-anchor="end" transform="translate(1530.06 849.64)" stroke-width="0.39">75</text>
<line x1="1532.66" y1="785.53" x2="1543.71" y2="785.53" stroke="#080806" stroke-width="4" stroke-linecap="butt"/>
<text class="r" font-size="22.9" text-anchor="end" transform="translate(1530.06 793.13)" stroke-width="0.39">100</text>
<line x1="1532.66" y1="728.71" x2="1543.71" y2="728.71" stroke="#080806" stroke-width="4" stroke-linecap="butt"/>
<text class="r" font-size="22.9" text-anchor="end" transform="translate(1530.06 736.31)" stroke-width="0.39">125</text>
<line x1="1645.69" y1="1013.45" x2="1645.69" y2="1023.95" stroke="#080806" stroke-width="3.7" stroke-linecap="butt"/>
<line x1="1866.94" y1="1013.45" x2="1866.94" y2="1023.95" stroke="#080806" stroke-width="3.7" stroke-linecap="butt"/>
<line x1="1556.81" y1="1026.45" x2="1736.79" y2="1026.45" stroke="#080806" stroke-width="4" stroke-linecap="butt"/>
<line x1="1768.53" y1="1026.45" x2="1948.2" y2="1026.45" stroke="#080806" stroke-width="4" stroke-linecap="butt"/>
<text class="bi" font-size="27.74" text-anchor="middle" transform="translate(1649.5 1061.11) scale(0.9804 1)" stroke-width="0.24">WT Apo</text>
<text class="bi" font-size="27.74" text-anchor="middle" transform="translate(1885.98 1061.11) scale(0.9804 1)" stroke-width="0.24">InsP6mut</text>
<text class="bi" font-size="27.74" text-anchor="middle" transform="translate(1882.17 1089.04) scale(0.9804 1)" stroke-width="0.24">Apo</text>
<text class="r" font-size="22.7" text-anchor="middle" transform="translate(1453.17 870.6) rotate(-90)" stroke-width="0.39">Uba6~FAT10 thioester activity %</text>
<text class="r" font-size="22.9" text-anchor="middle" transform="translate(1481.89 870.6) rotate(-90)" stroke-width="0.39">Relative to Uba6_WT_E.coli~FAT10</text>
<text class="r pl" font-size="69.87" transform="translate(1381 1196.7) scale(1.0363 1)" stroke-width="0">e</text>
<text class="bi" font-size="35.19" transform="translate(1487.6 1198.3) scale(0.9804 1)" textLength="511.94" lengthAdjust="spacingAndGlyphs" stroke-width="0.31">SCCH domain thermal stability</text>
<line x1="1490.5" y1="1212.7" x2="1967.6" y2="1212.7" stroke="#111" stroke-width="3.9" stroke-linecap="butt"/>
<rect x="1498.4" y="1226" width="480.6" height="40.6" rx="20.3" ry="20.3" fill="#fff" stroke="#111" stroke-width="2.7"/>
<rect x="1526" y="1244" width="18.6" height="8.3" fill="#080806" />
<text class="r" font-size="22.2" transform="translate(1553.2 1254.8)" stroke-width="0.38">no InsPx</text>
<rect x="1651.2" y="1244" width="18.6" height="8.3" fill="#ce8fdd" />
<text class="r" font-size="22.2" transform="translate(1679.8 1254.8)" stroke-width="0.38">InsP3</text>
<rect x="1762.6" y="1244" width="18.6" height="8.3" fill="#f29200" />
<text class="r" font-size="22.2" transform="translate(1790.5 1254.8)" stroke-width="0.38">InsP5</text>
<rect x="1874" y="1244" width="18.6" height="8.3" fill="#009639" />
<text class="r" font-size="22.2" transform="translate(1901.6 1254.8)" stroke-width="0.38">InsP6</text>
<text class="bi" font-size="27.74" text-anchor="middle" transform="translate(1674.6 1319.6) scale(0.9804 1)" stroke-width="0.24">Uba6</text>
<text class="bi" font-size="27.74" text-anchor="middle" transform="translate(1923.5 1319.6) scale(0.9804 1)" stroke-width="0.24">Uba1</text>
<line x1="1513.5" y1="1329.2" x2="1860.8" y2="1329.2" stroke="#080806" stroke-width="3" stroke-linecap="butt"/>
<line x1="1866.9" y1="1329.2" x2="1982" y2="1329.2" stroke="#080806" stroke-width="3" stroke-linecap="butt"/>
<rect x="1519.26" y="1637.98" width="16.9" height="45.66" fill="#080806" />
<line x1="1527.71" y1="1629.39" x2="1527.71" y2="1646.12" stroke="#8a8a8a" stroke-width="1.4" stroke-linecap="butt"/>
<line x1="1523.81" y1="1629.39" x2="1531.61" y2="1629.39" stroke="#8a8a8a" stroke-width="1.4" stroke-linecap="butt"/>
<line x1="1523.81" y1="1646.12" x2="1531.61" y2="1646.12" stroke="#8a8a8a" stroke-width="1.4" stroke-linecap="butt"/>
<circle cx="1527.55" cy="1631.84" r="2.9" fill="none" stroke="#7e7e7e" stroke-width="1.5"/>
<circle cx="1532.65" cy="1637.96" r="2.9" fill="none" stroke="#7e7e7e" stroke-width="1.5"/>
<circle cx="1523.47" cy="1644.08" r="2.9" fill="none" stroke="#7e7e7e" stroke-width="1.5"/>
<text class="r" font-size="23.8" transform="translate(1534.91 1619.9) rotate(-90)" stroke-width="0.4">42.9</text>
<rect x="1544.79" y="1570.39" width="16.9" height="113.24" fill="#ce8fdd" />
<line x1="1553.23" y1="1563.47" x2="1553.23" y2="1577.76" stroke="#8a8a8a" stroke-width="1.4" stroke-linecap="butt"/>
<line x1="1549.33" y1="1563.47" x2="1557.13" y2="1563.47" stroke="#8a8a8a" stroke-width="1.4" stroke-linecap="butt"/>
<line x1="1549.33" y1="1577.76" x2="1557.13" y2="1577.76" stroke="#8a8a8a" stroke-width="1.4" stroke-linecap="butt"/>
<circle cx="1553.06" cy="1564.49" r="2.9" fill="none" stroke="#7e7e7e" stroke-width="1.5"/>
<circle cx="1558.16" cy="1568.57" r="2.9" fill="none" stroke="#7e7e7e" stroke-width="1.5"/>
<circle cx="1548.98" cy="1577.76" r="2.9" fill="none" stroke="#7e7e7e" stroke-width="1.5"/>
<text class="r" font-size="23.8" transform="translate(1560.43 1557.6) rotate(-90)" stroke-width="0.4">47.2</text>
<rect x="1570.31" y="1471.53" width="16.9" height="212.11" fill="#f29200" />
<line x1="1578.76" y1="1468.57" x2="1578.76" y2="1474.69" stroke="#8a8a8a" stroke-width="1.4" stroke-linecap="butt"/>
<line x1="1574.86" y1="1468.57" x2="1582.66" y2="1468.57" stroke="#8a8a8a" stroke-width="1.4" stroke-linecap="butt"/>
<line x1="1574.86" y1="1474.69" x2="1582.66" y2="1474.69" stroke="#8a8a8a" stroke-width="1.4" stroke-linecap="butt"/>
<circle cx="1575.51" cy="1470" r="2.9" fill="none" stroke="#7e7e7e" stroke-width="1.5"/>
<circle cx="1581.63" cy="1470" r="2.9" fill="none" stroke="#7e7e7e" stroke-width="1.5"/>
<circle cx="1578.57" cy="1473.67" r="2.9" fill="none" stroke="#7e7e7e" stroke-width="1.5"/>
<text class="r" font-size="23.8" transform="translate(1585.96 1461.7) rotate(-90)" stroke-width="0.4">53.6</text>
<rect x="1596.19" y="1394.96" width="16.9" height="288.68" fill="#009639" />
<line x1="1604.64" y1="1388.98" x2="1604.64" y2="1400.2" stroke="#8a8a8a" stroke-width="1.4" stroke-linecap="butt"/>
<line x1="1600.74" y1="1388.98" x2="1608.54" y2="1388.98" stroke="#8a8a8a" stroke-width="1.4" stroke-linecap="butt"/>
<line x1="1600.74" y1="1400.2" x2="1608.54" y2="1400.2" stroke="#8a8a8a" stroke-width="1.4" stroke-linecap="butt"/>
<circle cx="1601.02" cy="1388.98" r="2.9" fill="none" stroke="#7e7e7e" stroke-width="1.5"/>
<circle cx="1604.08" cy="1398.16" r="2.9" fill="none" stroke="#7e7e7e" stroke-width="1.5"/>
<circle cx="1608.16" cy="1398.16" r="2.9" fill="none" stroke="#7e7e7e" stroke-width="1.5"/>
<text class="r" font-size="23.8" transform="translate(1613.04 1384.2) rotate(-90)" stroke-width="0.4">58.5</text>
<rect x="1638.62" y="1457.87" width="16.9" height="225.77" fill="#080806" />
<circle cx="1643.9" cy="1458.02" r="2.9" fill="none" stroke="#7e7e7e" stroke-width="1.5"/>
<circle cx="1646.52" cy="1458.02" r="2.9" fill="none" stroke="#7e7e7e" stroke-width="1.5"/>
<circle cx="1649.51" cy="1458.02" r="2.9" fill="none" stroke="#7e7e7e" stroke-width="1.5"/>
<text class="r" font-size="23.8" transform="translate(1653.16 1454.4) rotate(-90)" stroke-width="0.4">54.4</text>
<rect x="1664.14" y="1459.67" width="16.9" height="223.97" fill="#ce8fdd" />
<circle cx="1669.49" cy="1461.01" r="2.9" fill="none" stroke="#7e7e7e" stroke-width="1.5"/>
<circle cx="1672.47" cy="1461.01" r="2.9" fill="none" stroke="#7e7e7e" stroke-width="1.5"/>
<circle cx="1675.65" cy="1461.01" r="2.9" fill="none" stroke="#7e7e7e" stroke-width="1.5"/>
<text class="r" font-size="23.8" transform="translate(1678.89 1454.4) rotate(-90)" stroke-width="0.4">54.4</text>
<rect x="1689.67" y="1459.67" width="16.9" height="223.97" fill="#f29200" />
<line x1="1698.11" y1="1457.27" x2="1698.11" y2="1462.32" stroke="#8a8a8a" stroke-width="1.4" stroke-linecap="butt"/>
<line x1="1694.21" y1="1457.27" x2="1702.01" y2="1457.27" stroke="#8a8a8a" stroke-width="1.4" stroke-linecap="butt"/>
<line x1="1694.21" y1="1462.32" x2="1702.01" y2="1462.32" stroke="#8a8a8a" stroke-width="1.4" stroke-linecap="butt"/>
<circle cx="1693.76" cy="1458.02" r="2.9" fill="none" stroke="#7e7e7e" stroke-width="1.5"/>
<circle cx="1702.17" cy="1458.02" r="2.9" fill="none" stroke="#7e7e7e" stroke-width="1.5"/>
<circle cx="1698.06" cy="1461.38" r="2.9" fill="none" stroke="#7e7e7e" stroke-width="1.5"/>
<text class="r" font-size="23.8" transform="translate(1706.81 1454.4) rotate(-90)" stroke-width="0.4">54.2</text>
<rect x="1715.19" y="1410.41" width="16.9" height="273.22" fill="#009639" />
<line x1="1723.64" y1="1406.29" x2="1723.64" y2="1413.76" stroke="#8a8a8a" stroke-width="1.4" stroke-linecap="butt"/>
<line x1="1719.74" y1="1406.29" x2="1727.54" y2="1406.29" stroke="#8a8a8a" stroke-width="1.4" stroke-linecap="butt"/>
<line x1="1719.74" y1="1413.76" x2="1727.54" y2="1413.76" stroke="#8a8a8a" stroke-width="1.4" stroke-linecap="butt"/>
<circle cx="1719.91" cy="1407.23" r="2.9" fill="none" stroke="#7e7e7e" stroke-width="1.5"/>
<circle cx="1727.38" cy="1410.96" r="2.9" fill="none" stroke="#7e7e7e" stroke-width="1.5"/>
<circle cx="1723.64" cy="1413.39" r="2.9" fill="none" stroke="#7e7e7e" stroke-width="1.5"/>
<text class="r" font-size="23.8" transform="translate(1730.54 1397.4) rotate(-90)" stroke-width="0.4">57.5</text>
<rect x="1757.97" y="1466.86" width="16.54" height="216.78" fill="#080806" />
<line x1="1766.24" y1="1462.32" x2="1766.24" y2="1472.59" stroke="#8a8a8a" stroke-width="1.4" stroke-linecap="butt"/>
<line x1="1762.34" y1="1462.32" x2="1770.14" y2="1462.32" stroke="#8a8a8a" stroke-width="1.4" stroke-linecap="butt"/>
<line x1="1762.34" y1="1472.59" x2="1770.14" y2="1472.59" stroke="#8a8a8a" stroke-width="1.4" stroke-linecap="butt"/>
<circle cx="1765.66" cy="1460.45" r="2.9" fill="none" stroke="#7e7e7e" stroke-width="1.5"/>
<circle cx="1770.33" cy="1467.92" r="2.9" fill="none" stroke="#7e7e7e" stroke-width="1.5"/>
<circle cx="1761.92" cy="1473.15" r="2.9" fill="none" stroke="#7e7e7e" stroke-width="1.5"/>
<text class="r" font-size="23.8" transform="translate(1773.64 1454.4) rotate(-90)" stroke-width="0.4">53.9</text>
<rect x="1783.14" y="1469.01" width="16.9" height="214.62" fill="#ce8fdd" />
<line x1="1791.59" y1="1463.81" x2="1791.59" y2="1473.15" stroke="#8a8a8a" stroke-width="1.4" stroke-linecap="butt"/>
<line x1="1787.69" y1="1463.81" x2="1795.49" y2="1463.81" stroke="#8a8a8a" stroke-width="1.4" stroke-linecap="butt"/>
<line x1="1787.69" y1="1473.15" x2="1795.49" y2="1473.15" stroke="#8a8a8a" stroke-width="1.4" stroke-linecap="butt"/>
<circle cx="1788.07" cy="1463.81" r="2.9" fill="none" stroke="#7e7e7e" stroke-width="1.5"/>
<circle cx="1795.54" cy="1468.85" r="2.9" fill="none" stroke="#7e7e7e" stroke-width="1.5"/>
<circle cx="1791.43" cy="1473.15" r="2.9" fill="none" stroke="#7e7e7e" stroke-width="1.5"/>
<text class="r" font-size="23.8" transform="translate(1799.39 1454.4) rotate(-90)" stroke-width="0.4">53.7</text>
<rect x="1808.66" y="1468.65" width="16.9" height="214.98" fill="#f29200" />
<line x1="1817.11" y1="1463.81" x2="1817.11" y2="1473.15" stroke="#8a8a8a" stroke-width="1.4" stroke-linecap="butt"/>
<line x1="1813.21" y1="1463.81" x2="1821.01" y2="1463.81" stroke="#8a8a8a" stroke-width="1.4" stroke-linecap="butt"/>
<line x1="1813.21" y1="1473.15" x2="1821.01" y2="1473.15" stroke="#8a8a8a" stroke-width="1.4" stroke-linecap="butt"/>
<circle cx="1813.28" cy="1463.81" r="2.9" fill="none" stroke="#7e7e7e" stroke-width="1.5"/>
<circle cx="1820.75" cy="1466.98" r="2.9" fill="none" stroke="#7e7e7e" stroke-width="1.5"/>
<circle cx="1817.01" cy="1473.15" r="2.9" fill="none" stroke="#7e7e7e" stroke-width="1.5"/>
<text class="r" font-size="23.8" transform="translate(1823.61 1454.4) rotate(-90)" stroke-width="0.4">53.8</text>
<rect x="1834.19" y="1470.45" width="16.9" height="213.19" fill="#009639" />
<line x1="1842.64" y1="1463.25" x2="1842.64" y2="1478.19" stroke="#8a8a8a" stroke-width="1.4" stroke-linecap="butt"/>
<line x1="1838.74" y1="1463.25" x2="1846.54" y2="1463.25" stroke="#8a8a8a" stroke-width="1.4" stroke-linecap="butt"/>
<line x1="1838.74" y1="1478.19" x2="1846.54" y2="1478.19" stroke="#8a8a8a" stroke-width="1.4" stroke-linecap="butt"/>
<circle cx="1838.49" cy="1463.81" r="2.9" fill="none" stroke="#7e7e7e" stroke-width="1.5"/>
<circle cx="1845.96" cy="1466.98" r="2.9" fill="none" stroke="#7e7e7e" stroke-width="1.5"/>
<circle cx="1842.22" cy="1479.12" r="2.9" fill="none" stroke="#7e7e7e" stroke-width="1.5"/>
<text class="r" font-size="23.8" transform="translate(1849.84 1454.4) rotate(-90)" stroke-width="0.4">53.7</text>
<rect x="1876.97" y="1478.72" width="16.9" height="204.92" fill="#080806" />
<line x1="1885.42" y1="1476.32" x2="1885.42" y2="1482.86" stroke="#8a8a8a" stroke-width="1.4" stroke-linecap="butt"/>
<line x1="1881.52" y1="1476.32" x2="1889.32" y2="1476.32" stroke="#8a8a8a" stroke-width="1.4" stroke-linecap="butt"/>
<line x1="1881.52" y1="1482.86" x2="1889.32" y2="1482.86" stroke="#8a8a8a" stroke-width="1.4" stroke-linecap="butt"/>
<circle cx="1881.44" cy="1477.25" r="2.9" fill="none" stroke="#7e7e7e" stroke-width="1.5"/>
<circle cx="1888.91" cy="1477.25" r="2.9" fill="none" stroke="#7e7e7e" stroke-width="1.5"/>
<circle cx="1885.17" cy="1482.86" r="2.9" fill="none" stroke="#7e7e7e" stroke-width="1.5"/>
<text class="r" font-size="23.8" transform="translate(1892.82 1468.4) rotate(-90)" stroke-width="0.4">53.1</text>
<rect x="1902.49" y="1479.8" width="16.9" height="203.84" fill="#ce8fdd" />
<line x1="1910.94" y1="1477.25" x2="1910.94" y2="1486.59" stroke="#8a8a8a" stroke-width="1.4" stroke-linecap="butt"/>
<line x1="1907.04" y1="1477.25" x2="1914.84" y2="1477.25" stroke="#8a8a8a" stroke-width="1.4" stroke-linecap="butt"/>
<line x1="1907.04" y1="1486.59" x2="1914.84" y2="1486.59" stroke="#8a8a8a" stroke-width="1.4" stroke-linecap="butt"/>
<circle cx="1907.58" cy="1477.25" r="2.9" fill="none" stroke="#7e7e7e" stroke-width="1.5"/>
<circle cx="1914.12" cy="1477.25" r="2.9" fill="none" stroke="#7e7e7e" stroke-width="1.5"/>
<circle cx="1910.38" cy="1485.66" r="2.9" fill="none" stroke="#7e7e7e" stroke-width="1.5"/>
<text class="r" font-size="23.8" transform="translate(1920.24 1468.4) rotate(-90)" stroke-width="0.4">53.0</text>
<rect x="1928.02" y="1479.8" width="16.9" height="203.84" fill="#f29200" />
<line x1="1936.47" y1="1477.25" x2="1936.47" y2="1483.79" stroke="#8a8a8a" stroke-width="1.4" stroke-linecap="butt"/>
<line x1="1932.57" y1="1477.25" x2="1940.37" y2="1477.25" stroke="#8a8a8a" stroke-width="1.4" stroke-linecap="butt"/>
<line x1="1932.57" y1="1483.79" x2="1940.37" y2="1483.79" stroke="#8a8a8a" stroke-width="1.4" stroke-linecap="butt"/>
<circle cx="1932.79" cy="1477.25" r="2.9" fill="none" stroke="#7e7e7e" stroke-width="1.5"/>
<circle cx="1939.33" cy="1480.06" r="2.9" fill="none" stroke="#7e7e7e" stroke-width="1.5"/>
<circle cx="1936.15" cy="1483.42" r="2.9" fill="none" stroke="#7e7e7e" stroke-width="1.5"/>
<text class="r" font-size="23.8" transform="translate(1946.87 1468.4) rotate(-90)" stroke-width="0.4">53.0</text>
<rect x="1953.54" y="1479.8" width="16.9" height="203.84" fill="#009639" />
<line x1="1961.99" y1="1474.08" x2="1961.99" y2="1483.79" stroke="#8a8a8a" stroke-width="1.4" stroke-linecap="butt"/>
<line x1="1958.09" y1="1474.08" x2="1965.89" y2="1474.08" stroke="#8a8a8a" stroke-width="1.4" stroke-linecap="butt"/>
<line x1="1958.09" y1="1483.79" x2="1965.89" y2="1483.79" stroke="#8a8a8a" stroke-width="1.4" stroke-linecap="butt"/>
<circle cx="1958" cy="1474.08" r="2.9" fill="none" stroke="#7e7e7e" stroke-width="1.5"/>
<circle cx="1961.74" cy="1482.86" r="2.9" fill="none" stroke="#7e7e7e" stroke-width="1.5"/>
<circle cx="1965.47" cy="1482.86" r="2.9" fill="none" stroke="#7e7e7e" stroke-width="1.5"/>
<text class="r" font-size="23.8" transform="translate(1970.29 1468.4) rotate(-90)" stroke-width="0.4">53.0</text>
<line x1="1510.99" y1="1368.35" x2="1510.99" y2="1686.14" stroke="#080806" stroke-width="5" stroke-linecap="butt"/>
<line x1="1500.21" y1="1683.64" x2="1979.07" y2="1683.64" stroke="#080806" stroke-width="5" stroke-linecap="butt"/>
<line x1="1500.21" y1="1683.64" x2="1510.99" y2="1683.64" stroke="#080806" stroke-width="5" stroke-linecap="butt"/>
<text class="r" font-size="22.5" text-anchor="end" transform="translate(1499.01 1691.64)" stroke-width="0.38">40</text>
<line x1="1500.21" y1="1605.63" x2="1510.99" y2="1605.63" stroke="#080806" stroke-width="5" stroke-linecap="butt"/>
<text class="r" font-size="22.5" text-anchor="end" transform="translate(1499.01 1613.63)" stroke-width="0.38">45</text>
<line x1="1500.21" y1="1527.25" x2="1510.99" y2="1527.25" stroke="#080806" stroke-width="5" stroke-linecap="butt"/>
<text class="r" font-size="22.5" text-anchor="end" transform="translate(1499.01 1535.25)" stroke-width="0.38">50</text>
<line x1="1500.21" y1="1449.24" x2="1510.99" y2="1449.24" stroke="#080806" stroke-width="5" stroke-linecap="butt"/>
<text class="r" font-size="22.5" text-anchor="end" transform="translate(1499.01 1457.24)" stroke-width="0.38">55</text>
<line x1="1500.21" y1="1370.87" x2="1510.99" y2="1370.87" stroke="#080806" stroke-width="5" stroke-linecap="butt"/>
<text class="r" font-size="22.5" text-anchor="end" transform="translate(1499.01 1378.87)" stroke-width="0.38">60</text>
<line x1="1566" y1="1683.64" x2="1566" y2="1693.7" stroke="#080806" stroke-width="5" stroke-linecap="butt"/>
<line x1="1684.99" y1="1683.64" x2="1684.99" y2="1693.7" stroke="#080806" stroke-width="5" stroke-linecap="butt"/>
<line x1="1804.35" y1="1683.64" x2="1804.35" y2="1693.7" stroke="#080806" stroke-width="5" stroke-linecap="butt"/>
<line x1="1923.34" y1="1683.64" x2="1923.34" y2="1693.7" stroke="#080806" stroke-width="5" stroke-linecap="butt"/>
<text class="bi" font-size="27.74" text-anchor="middle" transform="translate(1572.11 1727.5) scale(0.9804 1)" stroke-width="0.24">WT Apo</text>
<text class="bi" font-size="27.74" text-anchor="middle" transform="translate(1687.87 1727.5) scale(0.9804 1)" stroke-width="0.24">WT</text>
<text class="bi" font-size="27.74" text-anchor="middle" transform="translate(1691.46 1755.54) scale(0.9804 1)" stroke-width="0.24">insect</text>
<text class="bi" font-size="27.74" text-anchor="middle" transform="translate(1807.58 1727.5) scale(0.9804 1)" stroke-width="0.24">InsP6mut</text>
<text class="bi" font-size="27.74" text-anchor="middle" transform="translate(1799.32 1755.54) scale(0.9804 1)" stroke-width="0.24">Apo</text>
<text class="bi" font-size="27.74" text-anchor="middle" transform="translate(1934.13 1727.5) scale(0.9804 1)" stroke-width="0.24">WT Apo</text>
<text class="r" font-size="26.5" transform="translate(1448 1662) rotate(-90)" stroke-width="0.45">Melting Temperature,</text>
<text class="r" font-size="26.5" transform="translate(1448.6 1408.6) rotate(-90)" stroke-width="0.45">°C</text>
</svg>
</body>
</html>
